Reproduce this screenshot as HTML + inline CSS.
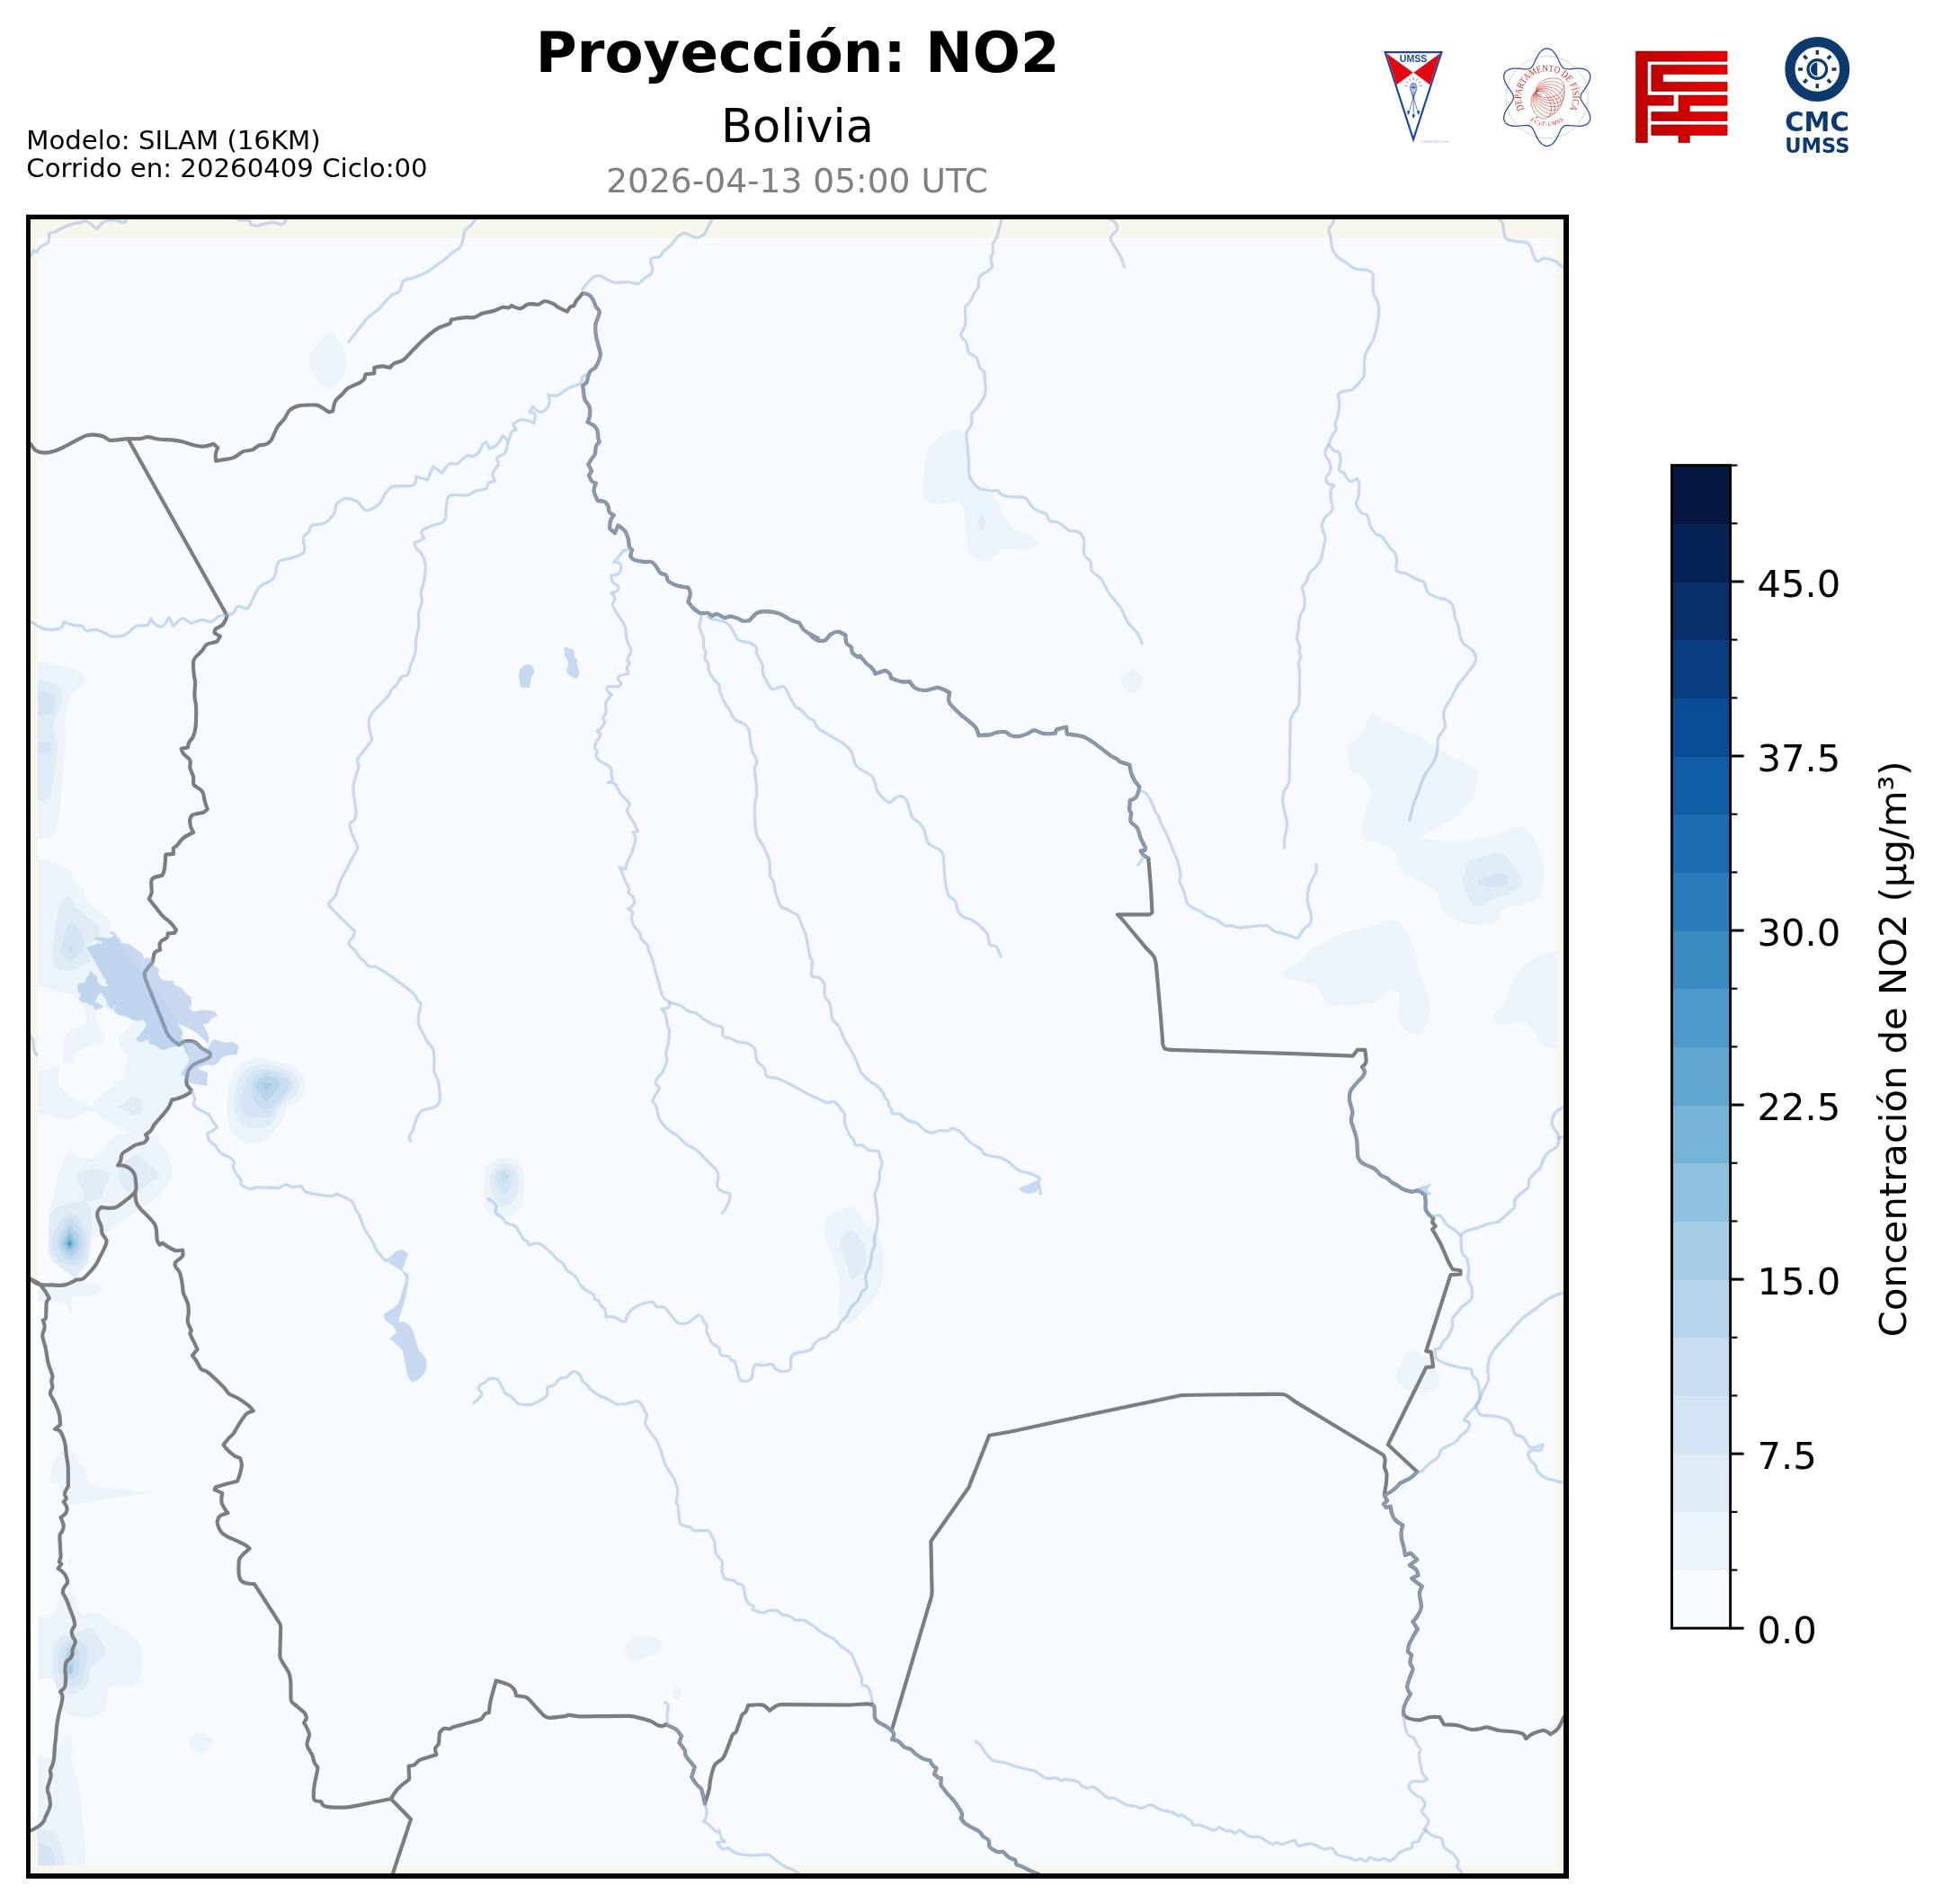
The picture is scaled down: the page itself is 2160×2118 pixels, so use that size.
<!DOCTYPE html>
<html lang="es"><head><meta charset="utf-8"><title>Proyección: NO2 - Bolivia</title>
<style>html,body{margin:0;padding:0;background:#fff}body{width:2160px;height:2118px;position:relative;overflow:hidden;font-family:"DejaVu Sans","Liberation Sans",sans-serif}svg text{font-family:"DejaVu Sans","Liberation Sans",sans-serif}</style>
</head><body>
<svg width="2160" height="2118" viewBox="0 0 2160 2118" style="position:absolute;left:0;top:0;will-change:transform">
<defs><clipPath id="ax"><rect x="31.8" y="241.6" width="1710.4" height="1845.4"/></clipPath><clipPath id="dat"><rect x="42" y="265" width="1689" height="1810"/></clipPath></defs>
<rect x="31.8" y="241.6" width="1710.4" height="1845.4" fill="#f6f6ec"/>
<path d="M30 1421 L42.5 1427.5 L42.5 2031.5 L30 2037Z" fill="#fff"/>
<rect x="42" y="265" width="1689" height="1810" fill="#f7fbff"/>
<g clip-path="url(#dat)">
<path d="M1523.3 1035.8 C1523.3 1035.8 1527.0 1038.7 1527.5 1040.8 C1528.0 1042.9 1528.5 1053.6 1528.2 1055.6 C1527.9 1057.6 1524.5 1060.5 1524.5 1060.5 C1524.5 1060.5 1522.1 1056.6 1522.0 1054.4 C1521.9 1052.2 1523.3 1035.8 1523.3 1035.8Z" fill="#f7fbff"/>
<path d="M367.7 370.3 C372.6 369.4 375.6 376.4 378.1 380.7 C380.6 385.0 385.1 394.1 385.5 400.5 C385.9 406.9 383.5 413.8 380.5 419.0 C377.5 424.2 373.3 430.5 367.7 431.3 C362.1 432.1 357.1 426.9 353.4 422.7 C349.7 418.5 343.4 409.3 343.0 402.9 C342.6 396.5 347.0 390.7 350.9 385.6 C354.8 380.5 362.8 371.2 367.7 370.3Z" fill="#ebf3fb"/>
<path d="M1067.5 478.2 C1061.9 476.8 1049.5 483.2 1044.1 486.8 C1038.7 490.4 1034.3 495.7 1031.7 501.7 C1029.1 507.7 1028.5 516.4 1028.0 523.9 C1027.5 531.4 1026.3 550.0 1028.0 554.7 C1029.7 559.4 1036.6 560.1 1041.6 560.9 C1046.6 561.7 1062.3 554.5 1068.7 560.9 C1075.1 567.3 1072.3 585.5 1073.7 593.0 C1075.1 600.5 1076.1 610.8 1078.6 615.2 C1081.1 619.6 1086.0 623.1 1091.0 623.8 C1096.0 624.5 1102.0 621.0 1105.8 618.9 C1109.6 616.8 1111.3 611.1 1115.6 610.3 C1119.9 609.5 1134.6 613.2 1140.3 612.2 C1146.0 611.2 1155.1 603.4 1155.1 603.4 C1155.1 603.4 1147.3 596.7 1142.8 594.2 C1138.3 591.7 1132.3 591.3 1128.0 588.1 C1123.7 584.9 1121.0 580.2 1118.1 575.7 C1115.2 571.2 1112.9 564.8 1110.7 560.9 C1108.5 557.0 1106.9 552.5 1103.3 549.8 C1099.7 547.1 1093.2 547.0 1089.7 544.9 C1086.2 542.8 1083.0 539.8 1081.1 536.2 C1079.2 532.6 1077.2 524.9 1076.1 518.9 C1075.0 512.9 1074.9 500.0 1073.7 494.3 C1072.5 488.6 1073.1 479.6 1067.5 478.2Z" fill="#ebf3fb"/>
<path d="M276.8 1178.7 C281.1 1177.3 289.4 1175.9 294.3 1176.4 C299.2 1176.9 303.2 1180.2 307.9 1181.6 C312.6 1183.0 320.5 1182.9 325.4 1185.5 C330.3 1188.1 335.0 1193.8 337.0 1197.2 C339.0 1200.6 339.5 1204.9 339.0 1208.8 C338.5 1212.7 336.6 1220.4 333.2 1224.4 C329.8 1228.4 322.9 1228.1 319.5 1232.1 C316.1 1236.1 316.6 1242.9 313.7 1247.7 C310.8 1252.5 304.7 1258.3 302.1 1261.3 C299.5 1264.3 298.0 1268.6 294.3 1270.0 C290.6 1271.4 280.3 1273.1 274.9 1272.0 C269.5 1270.9 264.8 1267.3 261.2 1263.2 C257.6 1259.1 254.8 1253.4 253.5 1247.7 C252.2 1242.0 252.0 1232.2 252.5 1224.4 C253.0 1216.6 254.7 1204.3 256.4 1199.1 C258.1 1193.9 261.9 1188.7 265.1 1185.5 C268.3 1182.3 272.5 1180.1 276.8 1178.7Z" fill="#ebf3fb"/>
<path d="M1260.0 744.6 C1265.3 744.6 1270.1 752.2 1271.2 755.7 C1272.3 759.2 1267.9 763.1 1266.2 765.5 C1264.5 767.9 1262.9 771.4 1260.0 771.7 C1257.1 772.0 1253.4 769.4 1251.4 766.8 C1249.4 764.2 1246.3 759.4 1247.7 755.7 C1249.1 752.0 1254.7 744.6 1260.0 744.6Z" fill="#ebf3fb"/>
<path d="M1440.0 1074.1 C1440.0 1074.1 1433.6 1076.5 1431.6 1077.8 C1429.6 1079.1 1427.2 1080.9 1426.7 1082.7 C1426.2 1084.5 1427.5 1086.8 1429.1 1087.7 C1430.7 1088.6 1440.0 1090.1 1440.0 1090.1 C1440.0 1090.1 1440.0 1074.1 1440.0 1074.1Z" fill="#ebf3fb"/>
<path d="M1525.7 793.9 C1529.7 792.5 1533.0 798.2 1536.8 800.1 C1540.6 802.0 1575.0 817.7 1581.3 821.1 C1587.6 824.5 1592.4 829.8 1598.6 833.4 C1604.8 837.0 1635.0 849.4 1640.5 855.6 C1646.0 861.8 1642.0 873.8 1640.5 880.3 C1639.0 886.8 1635.0 892.5 1630.7 897.6 C1626.4 902.7 1618.9 908.5 1613.4 912.4 C1607.9 916.3 1601.8 919.2 1596.1 922.3 C1590.4 925.4 1578.8 930.9 1578.8 930.9 C1578.8 930.9 1596.7 935.3 1606.0 935.9 C1615.3 936.5 1627.2 935.6 1635.6 934.6 C1644.0 933.6 1653.5 931.6 1660.3 929.7 C1667.1 927.8 1675.2 923.7 1680.0 922.3 C1684.8 920.9 1690.3 918.4 1694.8 919.8 C1699.3 921.2 1702.1 925.8 1704.7 929.7 C1707.3 933.6 1708.8 939.5 1710.9 944.5 C1713.0 949.5 1716.1 954.0 1717.0 959.3 C1717.9 964.6 1718.2 975.3 1717.0 981.5 C1715.8 987.7 1713.3 994.7 1709.6 998.8 C1705.9 1002.9 1700.1 1004.5 1694.8 1006.2 C1689.5 1007.9 1674.5 1009.5 1671.4 1011.2 C1668.3 1012.9 1669.5 1018.3 1667.7 1021.0 C1665.9 1023.7 1663.5 1026.5 1660.3 1027.2 C1657.1 1027.9 1642.5 1029.2 1635.6 1028.4 C1628.7 1027.6 1620.9 1025.2 1615.8 1022.3 C1610.7 1019.4 1606.4 1014.7 1603.5 1009.9 C1600.6 1005.1 1602.1 998.3 1598.6 993.9 C1595.1 989.5 1584.4 983.3 1581.3 981.5 C1578.2 979.7 1574.3 979.8 1571.4 977.8 C1568.5 975.8 1561.1 970.3 1557.8 965.5 C1554.5 960.7 1552.9 951.8 1551.7 949.4 C1550.5 947.0 1549.0 944.6 1546.7 943.3 C1544.4 942.0 1534.0 939.0 1529.4 937.1 C1524.8 935.2 1517.8 935.5 1515.9 930.9 C1514.0 926.3 1515.5 915.2 1517.1 907.5 C1518.7 899.8 1525.2 886.3 1525.7 882.8 C1526.2 879.3 1523.9 875.9 1522.0 872.9 C1520.1 869.9 1515.1 864.4 1512.2 861.8 C1509.3 859.2 1503.8 859.2 1502.3 855.6 C1500.8 852.0 1497.7 836.8 1499.3 831.0 C1500.9 825.2 1509.1 822.3 1512.2 818.6 C1515.3 814.9 1517.4 810.4 1519.6 806.3 C1521.8 802.2 1521.7 795.3 1525.7 793.9Z" fill="#ebf3fb"/>
<path d="M1549.2 1023.0 C1553.0 1022.7 1556.6 1025.5 1559.1 1028.4 C1561.6 1031.3 1566.1 1039.6 1568.9 1045.7 C1571.7 1051.8 1575.1 1060.7 1576.3 1065.5 C1577.5 1070.3 1576.2 1075.5 1577.6 1080.3 C1579.0 1085.1 1584.3 1094.4 1586.2 1100.0 C1588.1 1105.6 1589.4 1111.5 1589.9 1117.3 C1590.4 1123.1 1590.6 1129.9 1589.2 1134.6 C1587.8 1139.3 1583.2 1144.9 1581.3 1146.9 C1579.4 1148.9 1576.7 1150.9 1573.9 1150.6 C1571.1 1150.3 1564.8 1147.8 1561.5 1144.5 C1558.2 1141.2 1556.0 1136.7 1555.4 1132.1 C1554.8 1127.5 1557.3 1110.9 1556.6 1107.4 C1555.9 1103.9 1552.7 1099.6 1549.2 1100.0 C1545.7 1100.4 1540.0 1107.6 1536.8 1109.9 C1533.6 1112.2 1530.8 1115.3 1527.0 1116.1 C1523.2 1116.9 1504.1 1118.3 1497.4 1118.5 C1490.7 1118.7 1481.4 1118.9 1477.6 1117.3 C1473.8 1115.7 1472.6 1110.8 1470.2 1107.4 C1467.8 1104.0 1466.4 1098.9 1462.8 1096.3 C1459.2 1093.7 1452.9 1092.6 1448.0 1091.4 C1443.1 1090.2 1436.3 1090.3 1433.2 1088.9 C1430.1 1087.5 1426.3 1081.5 1426.3 1081.5 C1426.3 1081.5 1437.9 1075.6 1443.0 1071.6 C1448.1 1067.6 1452.3 1061.0 1457.9 1056.8 C1463.5 1052.6 1470.8 1049.1 1477.6 1045.7 C1484.4 1042.3 1492.0 1038.3 1499.8 1035.8 C1507.6 1033.3 1516.3 1033.0 1524.5 1030.9 C1532.7 1028.8 1545.4 1023.3 1549.2 1023.0Z" fill="#ebf3fb"/>
<path d="M1765.0 1060.0 C1758.9 1046.0 1724.9 1059.9 1719.5 1060.5 C1714.1 1061.1 1709.2 1063.7 1704.7 1066.7 C1700.2 1069.7 1693.9 1074.9 1689.9 1080.3 C1685.9 1085.7 1682.7 1094.3 1680.0 1100.0 C1677.3 1105.7 1675.9 1111.9 1672.6 1117.3 C1669.3 1122.7 1660.5 1127.6 1660.3 1132.1 C1660.1 1136.6 1667.0 1138.9 1671.4 1139.5 C1675.8 1140.1 1689.1 1135.4 1694.8 1137.0 C1700.5 1138.6 1704.2 1145.6 1707.2 1149.4 C1710.2 1153.2 1712.0 1159.3 1714.6 1161.7 C1717.2 1164.1 1721.0 1165.1 1724.5 1165.4 C1728.0 1165.7 1760.1 1178.1 1765.0 1165.4 C1769.9 1152.7 1771.1 1074.0 1765.0 1060.0Z" fill="#ebf3fb"/>
<path d="M67.0 1614.5 C69.3 1612.0 73.8 1610.5 76.9 1612.0 C80.0 1613.5 84.1 1619.7 86.8 1624.3 C89.5 1628.9 93.2 1638.9 94.2 1641.6 C95.2 1644.3 96.6 1650.0 96.6 1650.0 C96.6 1650.0 63.9 1652.7 58.4 1650.0 C52.9 1647.3 57.0 1637.7 58.4 1631.7 C59.8 1625.7 64.7 1617.0 67.0 1614.5Z" fill="#ebf3fb"/>
<path d="M12.0 1426.8 C18.9 1425.2 96.5 1426.5 101.6 1426.8 C106.7 1427.1 115.2 1433.8 115.2 1433.8 C115.2 1433.8 107.6 1440.4 102.8 1441.7 C98.0 1443.0 84.8 1439.6 80.6 1442.9 C76.4 1446.2 80.9 1457.4 80.6 1458.9 C80.3 1460.4 76.9 1461.4 76.9 1461.4 C76.9 1461.4 77.8 1453.3 74.9 1451.5 C72.0 1449.7 61.6 1448.2 54.7 1447.8 C47.8 1447.4 18.3 1450.9 12.0 1447.8 C5.7 1444.7 5.1 1428.4 12.0 1426.8Z" fill="#ebf3fb"/>
<path d="M560.5 1287.4 C565.2 1287.4 570.6 1288.8 574.1 1291.1 C577.6 1293.4 580.2 1297.0 581.5 1301.0 C582.8 1305.0 582.7 1312.4 582.7 1318.2 C582.7 1324.0 582.7 1333.7 581.5 1338.0 C580.3 1342.3 577.6 1346.3 574.1 1349.1 C570.6 1351.9 566.2 1353.6 561.7 1354.0 C557.2 1354.4 550.3 1353.3 546.9 1351.6 C543.5 1349.9 540.5 1346.6 539.5 1342.9 C538.5 1339.2 538.3 1324.0 538.3 1318.2 C538.3 1312.4 538.2 1305.0 539.5 1301.0 C540.8 1297.0 543.4 1293.4 546.9 1291.1 C550.4 1288.8 555.8 1287.4 560.5 1287.4Z" fill="#ebf3fb"/>
<path d="M946.8 1342.4 C949.9 1342.1 952.2 1345.5 954.2 1347.9 C956.2 1350.3 959.2 1357.3 961.6 1360.2 C964.0 1363.1 969.6 1363.9 970.0 1367.6 C970.4 1371.3 970.7 1441.1 970.0 1446.6 C969.3 1452.1 962.8 1454.8 959.1 1458.9 C955.4 1463.0 950.3 1471.1 946.8 1472.5 C943.3 1473.9 939.4 1470.3 936.9 1467.6 C934.4 1464.9 932.3 1460.6 932.0 1456.5 C931.7 1452.4 934.7 1445.1 934.5 1439.2 C934.3 1433.3 932.3 1421.3 930.8 1414.5 C929.3 1407.7 926.4 1399.9 924.6 1394.8 C922.8 1389.7 919.5 1385.2 918.4 1379.9 C917.3 1374.6 916.5 1361.1 917.2 1357.7 C917.9 1354.3 921.5 1351.9 924.6 1350.3 C927.7 1348.7 943.7 1342.7 946.8 1342.4Z" fill="#ebf3fb"/>
<path d="M970.0 1367.6 C970.0 1367.6 975.5 1373.8 977.4 1377.5 C979.3 1381.2 981.3 1387.4 982.3 1392.3 C983.3 1397.2 983.9 1402.1 983.6 1407.1 C983.3 1412.1 980.8 1428.2 979.9 1431.8 C979.0 1435.4 976.1 1440.0 974.9 1441.7 C973.7 1443.4 970.0 1445.4 970.0 1445.4 C970.0 1445.4 970.0 1367.6 970.0 1367.6Z" fill="#ebf3fb"/>
<path d="M1573.4 1502.1 C1577.2 1502.1 1581.7 1507.1 1583.8 1508.3 C1585.9 1509.5 1588.5 1510.0 1589.9 1512.0 C1591.3 1514.0 1593.1 1520.6 1594.9 1524.4 C1596.7 1528.2 1600.8 1531.4 1601.0 1535.5 C1601.2 1539.6 1599.6 1544.5 1596.1 1546.6 C1592.6 1548.7 1580.8 1550.5 1576.3 1550.3 C1571.8 1550.1 1567.6 1548.0 1564.0 1545.3 C1560.4 1542.6 1554.1 1538.1 1552.9 1533.0 C1551.7 1527.9 1556.2 1521.8 1557.8 1518.2 C1559.4 1514.6 1561.4 1511.0 1564.0 1508.3 C1566.6 1505.6 1569.6 1502.1 1573.4 1502.1Z" fill="#ebf3fb"/>
<path d="M12.0 1799.1 C19.6 1787.0 47.6 1801.5 54.7 1799.1 C61.8 1796.7 64.1 1784.3 67.0 1780.6 C69.9 1776.9 73.7 1771.2 76.9 1770.7 C80.1 1770.2 81.6 1775.2 83.1 1778.1 C84.6 1781.0 84.3 1791.1 89.2 1794.2 C94.1 1797.3 103.1 1792.3 109.0 1794.2 C114.9 1796.1 119.0 1802.1 123.8 1805.3 C128.6 1808.5 134.3 1811.2 138.6 1813.9 C142.9 1816.6 147.9 1819.0 151.0 1822.5 C154.1 1826.0 156.4 1830.3 157.1 1834.9 C157.8 1839.5 157.9 1860.1 157.1 1864.5 C156.3 1868.9 153.9 1874.1 149.7 1875.6 C145.5 1877.1 129.0 1874.2 125.0 1875.6 C121.0 1877.0 120.1 1882.6 118.9 1886.7 C117.7 1890.8 120.3 1897.3 117.6 1901.5 C114.9 1905.7 109.4 1909.2 104.1 1910.2 C98.8 1911.2 83.4 1909.9 79.4 1908.9 C75.4 1907.9 71.1 1905.3 69.5 1901.5 C67.9 1897.7 69.6 1884.9 67.0 1879.3 C64.4 1873.7 59.5 1868.3 53.5 1867.0 C47.5 1865.7 19.3 1878.9 12.0 1867.0 C4.7 1855.1 4.4 1811.2 12.0 1799.1Z" fill="#ebf3fb"/>
<path d="M58.4 1630.0 C58.4 1630.0 84.0 1626.9 90.5 1630.0 C97.0 1633.1 96.2 1646.5 99.1 1649.7 C102.0 1652.9 107.2 1652.8 111.5 1653.5 C115.8 1654.2 169.5 1660.9 169.5 1660.9 C169.5 1660.9 138.4 1664.3 123.8 1666.5 C109.2 1668.7 85.6 1674.6 80.6 1674.4 C75.6 1674.2 72.0 1668.9 69.5 1664.6 C67.0 1660.3 66.4 1653.1 64.6 1647.3 C62.8 1641.5 58.4 1630.0 58.4 1630.0Z" fill="#ebf3fb"/>
<path d="M78.1 1731.7 C78.1 1731.7 80.6 1734.4 80.6 1736.1 C80.6 1737.8 78.1 1742.3 78.1 1742.3 C78.1 1742.3 75.7 1738.4 75.7 1736.6 C75.7 1734.8 78.1 1731.7 78.1 1731.7Z" fill="#ebf3fb"/>
<path d="M223.8 1927.5 C229.3 1927.4 237.4 1936.8 237.4 1936.8 C237.4 1936.8 229.3 1950.8 223.0 1950.9 C216.7 1951.0 210.0 1942.9 210.2 1937.3 C210.4 1931.7 218.3 1927.6 223.8 1927.5Z" fill="#ebf3fb"/>
<path d="M78.1 1925.0 C78.1 1925.0 80.4 1940.6 80.6 1946.0 C80.8 1951.4 78.5 1956.7 79.4 1962.0 C80.3 1967.3 85.2 1975.7 86.8 1983.0 C88.4 1990.3 90.3 2002.6 90.5 2012.6 C90.7 2022.6 102.3 2089.6 89.2 2105.0 C76.1 2120.4 21.3 2122.9 12.0 2105.0 C2.7 2087.1 8.1 1969.6 12.0 1955.8 C15.9 1942.0 51.5 1956.3 54.7 1955.8 C57.9 1955.3 59.0 1951.0 60.9 1948.4 C62.8 1945.8 66.7 1939.9 69.5 1936.1 C72.3 1932.3 78.1 1925.0 78.1 1925.0Z" fill="#ebf3fb"/>
<path d="M704.9 1821.3 C710.1 1819.4 726.8 1820.4 730.8 1822.0 C734.8 1823.6 735.9 1830.8 735.7 1833.7 C735.5 1836.6 732.2 1838.5 729.6 1839.8 C727.0 1841.1 709.5 1848.0 707.4 1848.5 C705.3 1849.0 702.6 1848.8 701.2 1847.2 C699.8 1845.6 694.9 1839.4 695.5 1834.9 C696.1 1830.4 699.7 1823.2 704.9 1821.3Z" fill="#ebf3fb"/>
<path d="M753.0 1873.1 C753.0 1873.1 757.8 1883.4 758.0 1885.5 C758.2 1887.6 756.4 1890.4 754.3 1890.4 C752.2 1890.4 748.3 1888.1 748.1 1885.5 C747.9 1882.9 753.0 1873.1 753.0 1873.1Z" fill="#ebf3fb"/>
<path d="M12.0 743.3 C18.9 724.3 73.0 742.3 79.4 743.3 C85.8 744.3 94.5 749.2 94.2 755.7 C93.9 762.2 81.5 767.6 78.1 775.4 C74.7 783.2 72.5 801.3 72.0 806.3 C71.5 811.3 73.4 816.1 73.2 821.1 C73.0 826.1 70.4 851.4 69.5 863.0 C68.6 874.6 68.1 888.4 67.0 897.6 C65.9 906.8 62.8 922.6 62.1 924.8 C61.4 927.0 59.5 929.5 57.2 929.7 C54.9 929.9 15.6 944.5 12.0 929.7 C8.4 914.9 5.1 762.3 12.0 743.3Z" fill="#ebf3fb"/>
<path d="M12.0 958.1 C13.6 943.1 49.4 957.8 56.8 958.9 C64.2 960.0 74.3 965.3 77.3 967.6 C80.3 969.9 79.9 974.7 82.0 977.8 C84.1 980.9 88.8 984.7 91.4 988.8 C94.0 992.9 94.5 998.9 97.8 1003.0 C101.1 1007.1 108.5 1011.2 111.9 1014.1 C115.3 1017.0 119.4 1020.0 121.4 1023.5 C123.4 1027.0 122.2 1031.7 124.1 1035.3 C126.0 1038.9 134.5 1051.8 140.3 1059.7 C146.1 1067.6 156.1 1079.5 163.9 1089.7 C171.7 1099.9 182.1 1113.5 187.6 1121.2 C193.1 1128.9 201.1 1140.4 203.3 1144.8 C205.5 1149.2 205.4 1154.2 206.5 1159.0 C207.6 1163.8 211.4 1174.3 211.2 1179.5 C211.0 1184.7 205.4 1188.8 204.9 1193.7 C204.4 1198.6 207.3 1205.5 208.0 1207.9 C208.7 1210.3 212.4 1213.0 210.7 1214.7 C209.0 1216.4 195.9 1220.4 191.3 1224.4 C186.7 1228.4 184.3 1235.4 181.6 1239.9 C178.9 1244.4 176.0 1250.5 173.8 1253.5 C171.6 1256.5 166.0 1261.3 166.0 1261.3 C166.0 1261.3 171.8 1263.0 173.8 1265.2 C175.8 1267.4 182.9 1277.8 185.5 1282.7 C188.1 1287.6 190.6 1293.7 191.3 1298.2 C192.0 1302.7 192.0 1307.5 190.3 1311.8 C188.6 1316.1 183.6 1322.9 179.6 1327.4 C175.6 1331.9 170.9 1335.5 166.0 1339.0 C161.1 1342.5 151.8 1347.5 146.6 1350.7 C141.4 1353.9 134.1 1358.2 131.1 1360.4 C128.1 1362.6 126.4 1366.2 123.3 1368.2 C120.2 1370.2 110.0 1374.7 107.7 1375.9 C105.4 1377.1 101.8 1377.3 100.9 1379.8 C100.0 1382.3 99.7 1398.4 98.0 1403.2 C96.3 1408.0 90.0 1412.4 88.3 1414.8 C86.6 1417.2 84.4 1422.6 84.4 1422.6 C84.4 1422.6 72.2 1413.4 68.9 1410.9 C65.6 1408.4 61.6 1406.5 59.1 1403.2 C56.6 1399.9 58.4 1392.5 54.3 1391.5 C50.2 1390.5 13.4 1405.6 12.0 1391.5 C10.6 1377.4 10.4 973.1 12.0 958.1Z" fill="#ebf3fb"/>
<path d="M12.0 1102.9 C22.9 1087.2 62.5 1103.1 68.9 1103.9 C75.3 1104.7 81.9 1107.1 86.4 1111.7 C90.9 1116.3 96.3 1128.8 97.0 1132.1 C97.7 1135.4 94.8 1138.7 92.2 1140.8 C89.6 1142.9 79.8 1146.2 77.2 1148.0 C74.6 1149.8 71.8 1152.3 71.2 1155.4 C70.6 1158.5 71.3 1179.3 70.8 1181.6 C70.3 1183.9 67.3 1185.3 65.0 1185.5 C62.7 1185.7 21.6 1200.5 12.0 1185.5 C2.4 1170.5 1.1 1118.6 12.0 1102.9Z" fill="#f7fbff"/>
<path d="M107.1 1123.5 C108.6 1121.4 112.4 1118.7 115.5 1119.4 C118.6 1120.1 125.5 1126.6 131.1 1129.1 C136.7 1131.6 151.3 1135.4 151.3 1135.4 C151.3 1135.4 134.2 1149.6 132.4 1155.8 C130.6 1162.0 139.5 1170.8 140.4 1173.3 C141.3 1175.8 142.2 1178.4 141.9 1181.0 C141.6 1183.6 140.0 1193.8 137.1 1198.3 C134.2 1202.8 128.5 1204.4 124.4 1207.9 C120.3 1211.4 106.9 1223.7 105.6 1225.1 C104.3 1226.5 104.8 1230.5 102.9 1230.2 C101.0 1229.9 85.7 1223.6 80.5 1220.5 C75.3 1217.4 69.6 1214.2 66.9 1208.8 C64.2 1203.4 64.4 1192.8 65.0 1189.4 C65.6 1186.0 69.6 1182.5 71.8 1181.6 C74.0 1180.7 76.7 1185.0 78.6 1183.6 C80.5 1182.2 80.2 1176.5 82.5 1173.8 C84.8 1171.1 89.9 1168.2 94.1 1166.1 C98.3 1164.0 112.6 1161.5 115.5 1157.3 C118.4 1153.1 111.6 1147.1 110.3 1143.1 C109.0 1139.1 107.2 1133.6 106.8 1131.1 C106.4 1128.6 105.6 1125.6 107.1 1123.5Z" fill="#f7fbff"/>
<path d="M12.0 1245.7 C20.4 1227.4 70.2 1246.6 78.6 1245.7 C87.0 1244.8 93.5 1235.3 101.9 1236.0 C110.3 1236.7 116.4 1246.0 123.3 1249.6 C130.2 1253.2 144.7 1258.4 144.7 1258.4 C144.7 1258.4 127.9 1263.8 123.3 1267.1 C118.7 1270.4 116.9 1277.4 113.6 1280.7 C110.3 1284.0 106.5 1287.5 101.9 1288.5 C97.3 1289.5 89.9 1287.9 86.4 1286.6 C82.9 1285.3 81.0 1278.3 77.6 1279.8 C74.2 1281.3 71.1 1289.1 68.9 1294.3 C66.7 1299.5 64.6 1307.4 63.0 1313.8 C61.4 1320.2 60.4 1326.7 59.1 1333.2 C57.8 1339.7 55.8 1346.0 55.3 1352.6 C54.8 1359.2 64.0 1382.8 54.3 1391.5 C44.6 1400.2 16.0 1405.1 12.0 1391.5 C8.0 1377.9 3.6 1264.0 12.0 1245.7Z" fill="#f7fbff"/>
<path d="M1091.0 572.0 C1091.0 572.0 1096.4 577.3 1096.4 580.7 C1096.4 584.1 1091.0 590.5 1091.0 590.5 C1091.0 590.5 1088.0 583.1 1088.0 580.2 C1088.0 577.3 1091.0 572.0 1091.0 572.0Z" fill="#dfecf7"/>
<path d="M280.7 1185.5 C284.1 1184.4 291.0 1183.3 296.2 1183.6 C301.4 1183.9 306.7 1185.5 311.8 1187.4 C316.9 1189.3 324.0 1192.2 327.3 1195.2 C330.6 1198.2 333.2 1202.5 333.2 1206.9 C333.2 1211.3 330.7 1216.8 327.3 1220.5 C323.9 1224.2 317.3 1224.4 313.7 1228.3 C310.1 1232.2 308.5 1240.0 305.9 1243.8 C303.3 1247.6 300.6 1252.2 296.2 1253.5 C291.8 1254.8 278.3 1255.7 272.9 1253.5 C267.5 1251.3 264.3 1245.3 262.2 1239.9 C260.1 1234.5 259.8 1227.0 260.3 1220.5 C260.8 1214.0 263.6 1204.8 265.1 1201.1 C266.6 1197.4 269.4 1193.8 271.9 1191.3 C274.4 1188.8 277.3 1186.6 280.7 1185.5Z" fill="#dfecf7"/>
<path d="M76.6 1339.0 C81.2 1338.0 89.5 1334.3 94.1 1336.1 C98.7 1337.9 101.1 1343.8 101.9 1348.7 C102.7 1353.6 101.5 1371.9 100.9 1379.8 C100.3 1387.7 99.7 1398.4 98.0 1403.2 C96.3 1408.0 90.0 1412.4 88.3 1414.8 C86.6 1417.2 84.4 1422.6 84.4 1422.6 C84.4 1422.6 72.2 1413.4 68.9 1410.9 C65.6 1408.4 61.6 1406.5 59.1 1403.2 C56.6 1399.9 54.6 1395.7 54.3 1391.5 C54.0 1387.3 54.6 1356.7 55.3 1352.6 C56.0 1348.5 59.5 1345.1 63.0 1342.9 C66.5 1340.7 72.0 1340.0 76.6 1339.0Z" fill="#dfecf7"/>
<path d="M85.4 1308.9 C85.4 1305.9 89.4 1304.2 92.2 1303.1 C95.0 1302.0 102.5 1299.3 107.7 1300.2 C112.9 1301.1 119.6 1303.2 121.3 1307.9 C123.0 1312.6 117.0 1317.6 115.5 1321.5 C114.0 1325.4 115.0 1330.8 111.6 1333.2 C108.2 1335.6 98.6 1337.5 95.1 1336.1 C91.6 1334.7 93.5 1328.9 92.2 1325.4 C90.9 1321.9 85.4 1311.9 85.4 1308.9Z" fill="#dfecf7"/>
<path d="M132.0 1302.1 C134.3 1297.3 144.3 1286.7 150.5 1285.6 C156.7 1284.5 162.1 1293.1 166.0 1296.3 C169.9 1299.5 176.7 1302.4 176.7 1307.0 C176.7 1311.6 169.5 1312.7 166.0 1315.7 C162.5 1318.7 158.0 1324.9 154.4 1326.4 C150.8 1327.9 146.1 1326.9 142.7 1325.4 C139.3 1323.9 136.4 1321.0 134.9 1317.6 C133.4 1314.2 129.7 1306.9 132.0 1302.1Z" fill="#dfecf7"/>
<path d="M131.1 1232.1 C131.1 1232.1 145.5 1219.5 150.5 1219.5 C155.5 1219.5 158.4 1228.3 158.6 1232.1 C158.8 1235.9 154.6 1239.9 151.5 1240.9 C148.4 1241.9 145.7 1238.3 142.7 1237.0 C139.7 1235.7 131.1 1232.1 131.1 1232.1Z" fill="#dfecf7"/>
<path d="M1635.6 956.8 C1638.5 955.0 1647.2 953.1 1652.9 951.9 C1658.6 950.7 1664.6 947.5 1670.1 949.4 C1675.6 951.3 1679.1 957.0 1682.5 961.8 C1685.9 966.6 1693.4 975.5 1692.9 981.5 C1692.4 987.5 1685.2 990.9 1680.0 993.9 C1674.8 996.9 1665.6 997.7 1660.3 1000.0 C1655.0 1002.3 1650.0 1008.5 1645.5 1008.7 C1641.0 1008.9 1636.9 1005.1 1634.4 1001.3 C1631.9 997.5 1628.3 986.9 1627.7 981.5 C1627.1 976.1 1629.7 968.7 1630.7 965.5 C1631.7 962.3 1632.7 958.6 1635.6 956.8Z" fill="#dfecf7"/>
<path d="M560.5 1293.6 C564.6 1293.4 568.6 1295.7 571.6 1298.5 C574.6 1301.3 577.5 1305.3 577.8 1309.6 C578.1 1313.9 576.7 1325.3 574.1 1330.6 C571.5 1335.9 564.8 1341.8 561.7 1342.9 C558.6 1344.0 555.3 1340.5 553.1 1338.0 C550.9 1335.5 548.3 1330.1 546.9 1325.6 C545.5 1321.1 544.0 1313.3 544.4 1309.6 C544.8 1305.9 546.8 1302.3 549.4 1299.7 C552.0 1297.1 556.4 1293.8 560.5 1293.6Z" fill="#dfecf7"/>
<path d="M946.3 1368.8 C950.7 1367.8 954.7 1375.4 956.7 1377.5 C958.7 1379.6 960.6 1382.0 961.1 1384.9 C961.6 1387.8 964.5 1402.9 962.1 1409.6 C959.7 1416.3 946.8 1424.4 946.8 1424.4 C946.8 1424.4 942.6 1408.9 940.6 1402.2 C938.6 1395.5 933.5 1388.4 934.5 1382.4 C935.5 1376.4 941.9 1369.8 946.3 1368.8Z" fill="#dfecf7"/>
<path d="M85.5 1816.4 C90.8 1815.0 96.7 1808.6 101.6 1811.4 C106.5 1814.2 116.4 1830.8 117.6 1834.9 C118.8 1839.0 114.2 1842.7 111.5 1846.0 C108.8 1849.3 103.6 1850.7 101.6 1854.6 C99.6 1858.5 99.7 1867.9 97.9 1871.9 C96.1 1875.9 92.4 1879.8 89.2 1881.8 C86.0 1883.8 81.9 1884.7 78.1 1884.3 C74.3 1883.9 67.7 1883.0 64.6 1879.3 C61.5 1875.6 59.8 1868.1 59.1 1862.0 C58.4 1855.9 57.8 1837.7 59.1 1832.4 C60.4 1827.1 64.9 1822.9 69.5 1820.1 C74.1 1817.3 80.2 1817.8 85.5 1816.4Z" fill="#dfecf7"/>
<path d="M12.0 2037.3 C20.4 2024.7 52.0 2036.1 57.2 2037.3 C62.4 2038.5 64.7 2045.0 67.0 2049.6 C69.3 2054.2 70.4 2059.4 70.7 2064.5 C71.0 2069.6 81.9 2097.3 70.7 2105.0 C59.5 2112.7 24.9 2119.9 12.0 2105.0 C-0.9 2090.1 3.6 2049.9 12.0 2037.3Z" fill="#dfecf7"/>
<path d="M12.0 758.1 C17.0 743.8 53.1 758.8 57.2 759.4 C61.3 760.0 65.2 763.1 67.0 766.8 C68.8 770.5 69.2 776.7 68.3 781.6 C67.4 786.5 60.4 799.6 59.6 806.3 C58.8 813.0 62.9 819.3 63.3 826.0 C63.7 832.7 62.9 840.8 62.1 848.2 C61.3 855.6 57.9 877.2 57.2 880.3 C56.5 883.4 56.6 888.4 53.5 889.0 C50.4 889.6 16.2 902.3 12.0 889.0 C7.8 875.7 7.0 772.4 12.0 758.1Z" fill="#dfecf7"/>
<path d="M77.3 998.3 C81.8 998.7 82.0 1006.0 85.1 1009.3 C88.2 1012.6 95.4 1018.6 99.3 1021.9 C103.2 1025.2 109.5 1028.0 111.1 1031.4 C112.7 1034.8 110.8 1039.2 108.8 1042.4 C106.8 1045.6 99.0 1049.0 97.8 1053.4 C96.6 1057.8 102.5 1063.9 102.5 1066.1 C102.5 1068.3 99.7 1069.7 97.8 1070.8 C95.9 1071.9 83.2 1079.7 77.3 1080.2 C71.4 1080.7 63.8 1079.0 60.7 1073.9 C57.6 1068.8 58.4 1058.2 59.1 1050.3 C59.8 1042.4 64.6 1012.4 66.2 1007.8 C67.8 1003.2 72.8 997.9 77.3 998.3Z" fill="#dfecf7"/>
<path d="M282.6 1190.4 C285.4 1189.3 291.6 1189.0 296.2 1189.4 C300.8 1189.8 308.7 1190.5 313.7 1193.3 C318.7 1196.1 325.0 1200.1 325.4 1205.9 C325.8 1211.7 318.6 1218.2 315.7 1222.4 C312.8 1226.6 308.9 1230.9 305.9 1234.1 C302.9 1237.3 300.5 1241.9 296.2 1242.8 C291.9 1243.7 279.0 1242.7 274.9 1240.9 C270.8 1239.1 267.5 1234.6 267.1 1230.2 C266.7 1225.8 270.7 1212.9 271.9 1208.8 C273.1 1204.7 275.3 1199.8 276.8 1197.2 C278.3 1194.6 279.8 1191.5 282.6 1190.4Z" fill="#d4e4f4"/>
<path d="M77.6 1349.7 C82.6 1348.6 87.4 1354.2 90.2 1358.5 C93.0 1362.8 96.2 1374.6 97.0 1379.8 C97.8 1385.0 97.9 1390.7 96.1 1395.4 C94.3 1400.1 90.6 1405.1 86.4 1407.0 C82.2 1408.9 77.1 1407.7 72.8 1406.1 C68.5 1404.5 63.5 1401.6 61.1 1397.3 C58.7 1393.0 57.7 1385.3 58.2 1379.8 C58.7 1374.3 61.0 1369.0 64.0 1364.3 C67.0 1359.6 72.6 1350.8 77.6 1349.7Z" fill="#d4e4f4"/>
<path d="M1644.2 979.1 C1645.8 978.2 1665.9 970.9 1670.1 971.2 C1674.3 971.5 1678.3 977.5 1677.1 981.5 C1675.9 985.5 1669.6 986.6 1665.2 987.0 C1660.8 987.4 1647.2 985.2 1645.5 984.5 C1643.8 983.8 1642.6 980.0 1644.2 979.1Z" fill="#d4e4f4"/>
<path d="M560.5 1299.7 C565.1 1299.7 570.4 1303.8 571.6 1308.4 C572.8 1313.0 568.0 1320.3 566.6 1323.2 C565.2 1326.1 560.5 1330.6 560.5 1330.6 C560.5 1330.6 556.0 1324.2 554.3 1320.7 C552.6 1317.2 548.7 1312.6 549.9 1308.4 C551.1 1304.2 555.9 1299.7 560.5 1299.7Z" fill="#d4e4f4"/>
<path d="M78.1 1822.5 C81.6 1821.0 86.0 1823.0 89.2 1825.0 C92.4 1827.0 97.0 1830.6 97.9 1834.9 C98.8 1839.2 96.3 1849.6 95.4 1854.6 C94.5 1859.6 93.8 1866.1 91.7 1869.4 C89.6 1872.7 85.7 1875.4 81.8 1875.6 C77.9 1875.8 73.5 1873.7 70.7 1870.7 C67.9 1867.7 65.3 1862.1 64.6 1857.1 C63.9 1852.1 63.7 1840.4 65.8 1834.9 C67.9 1829.4 74.6 1824.0 78.1 1822.5Z" fill="#d4e4f4"/>
<path d="M12.0 2053.3 C20.7 2042.4 50.0 2052.7 53.5 2053.3 C57.0 2053.9 59.1 2058.5 59.6 2062.0 C60.1 2065.5 70.8 2095.3 60.1 2105.0 C49.4 2114.7 23.0 2116.8 12.0 2105.0 C1.0 2093.2 3.3 2064.2 12.0 2053.3Z" fill="#d4e4f4"/>
<path d="M12.0 770.5 C19.2 766.3 50.9 769.7 54.7 770.5 C58.5 771.3 60.9 776.5 60.9 780.4 C60.9 784.3 59.5 792.5 54.7 793.9 C49.9 795.3 19.3 799.2 12.0 795.2 C4.7 791.2 4.8 774.7 12.0 770.5Z" fill="#d4e4f4"/>
<path d="M12.0 826.0 C15.6 825.1 51.1 825.1 54.7 826.0 C58.3 826.9 58.3 836.2 54.7 837.1 C51.1 838.0 15.6 838.0 12.0 837.1 C8.4 836.2 8.4 826.9 12.0 826.0Z" fill="#d4e4f4"/>
<path d="M77.3 1026.7 C79.6 1024.9 83.3 1028.3 85.1 1030.6 C86.9 1032.9 93.3 1042.0 93.8 1047.1 C94.3 1052.2 90.6 1057.9 88.3 1061.3 C86.0 1064.7 81.6 1068.7 78.8 1069.2 C76.0 1069.7 73.7 1066.6 71.8 1064.5 C69.9 1062.4 67.5 1059.6 67.5 1056.6 C67.5 1053.6 70.2 1045.6 71.8 1040.8 C73.4 1036.0 75.0 1028.5 77.3 1026.7Z" fill="#d4e4f4"/>
<path d="M288.5 1195.2 C292.2 1193.2 297.6 1192.4 302.1 1193.3 C306.6 1194.2 317.4 1199.4 319.5 1201.1 C321.6 1202.8 322.5 1206.3 321.5 1208.8 C320.5 1211.3 313.8 1220.4 309.8 1224.4 C305.8 1228.4 299.8 1233.4 296.2 1234.1 C292.6 1234.8 289.0 1231.9 286.5 1229.2 C284.0 1226.5 280.6 1220.4 279.7 1216.6 C278.8 1212.8 279.2 1208.5 280.7 1204.9 C282.2 1201.3 284.8 1197.2 288.5 1195.2Z" fill="#c9ddf0"/>
<path d="M77.6 1356.5 C82.4 1356.0 85.8 1362.1 88.3 1366.2 C90.8 1370.3 93.2 1376.3 93.2 1381.8 C93.2 1387.3 90.4 1394.1 88.3 1397.3 C86.2 1400.5 82.4 1403.6 78.6 1403.2 C74.8 1402.8 70.5 1399.0 67.9 1395.4 C65.3 1391.8 63.2 1386.6 63.4 1381.8 C63.6 1377.0 66.5 1372.5 68.9 1368.2 C71.3 1363.9 72.8 1357.0 77.6 1356.5Z" fill="#c9ddf0"/>
<path d="M560.5 1303.4 C562.7 1303.4 566.2 1305.9 566.2 1308.4 C566.2 1310.9 560.5 1317.0 560.5 1317.0 C560.5 1317.0 556.3 1310.6 556.3 1308.4 C556.3 1306.2 558.3 1303.4 560.5 1303.4Z" fill="#c9ddf0"/>
<path d="M78.1 1828.7 C80.9 1829.1 86.6 1833.2 88.0 1837.4 C89.4 1841.6 88.7 1856.4 88.0 1859.6 C87.3 1862.8 84.7 1866.1 81.8 1867.0 C78.9 1867.9 74.9 1867.0 73.2 1864.5 C71.5 1862.0 70.1 1854.7 70.0 1849.7 C69.9 1844.7 71.5 1837.5 72.5 1834.9 C73.5 1832.3 75.3 1828.3 78.1 1828.7Z" fill="#c9ddf0"/>
<path d="M78.1 1051.1 C78.1 1051.1 81.1 1054.0 81.2 1055.8 C81.3 1057.6 78.5 1060.5 78.5 1060.5 C78.5 1060.5 75.8 1057.9 75.7 1056.1 C75.6 1054.3 78.1 1051.1 78.1 1051.1Z" fill="#c9ddf0"/>
<path d="M290.4 1199.1 C292.5 1197.4 295.6 1196.5 298.2 1197.2 C300.8 1197.9 310.9 1199.7 311.8 1204.9 C312.7 1210.1 304.1 1216.2 302.1 1218.5 C300.1 1220.8 298.3 1224.8 295.3 1224.4 C292.3 1224.0 290.2 1219.3 288.5 1216.6 C286.8 1213.9 284.3 1211.1 284.6 1207.9 C284.9 1204.7 288.3 1200.8 290.4 1199.1Z" fill="#b7d5ea"/>
<path d="M77.6 1361.4 C77.6 1361.4 84.6 1368.9 86.4 1372.1 C88.2 1375.3 89.5 1379.0 89.3 1382.7 C89.1 1386.4 87.3 1390.9 85.4 1393.4 C83.5 1395.9 80.7 1398.7 77.6 1398.3 C74.5 1397.9 71.6 1394.1 69.8 1391.5 C68.0 1388.9 66.2 1385.8 66.5 1382.7 C66.8 1379.6 70.0 1374.5 71.8 1371.1 C73.6 1367.7 77.6 1361.4 77.6 1361.4Z" fill="#b7d5ea"/>
<path d="M78.1 1834.9 C78.1 1834.9 81.3 1841.3 81.8 1844.8 C82.3 1848.3 82.6 1857.3 81.8 1859.6 C81.0 1861.9 75.7 1863.3 75.7 1863.3 C75.7 1863.3 72.8 1856.1 72.5 1852.2 C72.2 1848.3 73.2 1841.9 73.9 1839.8 C74.6 1837.7 78.1 1834.9 78.1 1834.9Z" fill="#b7d5ea"/>
<path d="M291.4 1204.0 C291.4 1204.0 302.1 1204.9 302.1 1204.9 C302.1 1204.9 295.3 1215.6 295.3 1215.6 C295.3 1215.6 291.4 1204.0 291.4 1204.0Z" fill="#a4cde3"/>
<path d="M77.6 1367.2 C77.6 1367.2 82.1 1373.5 83.4 1375.9 C84.7 1378.3 86.6 1380.6 86.4 1383.3 C86.2 1386.0 83.3 1388.9 82.1 1390.5 C80.9 1392.1 79.6 1394.6 77.6 1394.4 C75.6 1394.2 74.5 1391.3 73.1 1389.5 C71.7 1387.7 68.8 1385.8 68.9 1383.3 C69.0 1380.8 72.3 1377.6 73.7 1375.0 C75.1 1372.4 77.6 1367.2 77.6 1367.2Z" fill="#a4cde3"/>
<path d="M76.9 1850.9 C76.9 1850.9 80.1 1853.9 80.6 1855.9 C81.1 1857.9 79.4 1862.0 79.4 1862.0 C79.4 1862.0 75.3 1861.3 74.9 1859.6 C74.5 1857.9 76.9 1850.9 76.9 1850.9Z" fill="#a4cde3"/>
<path d="M77.6 1372.1 C77.6 1372.1 80.7 1377.3 81.5 1378.9 C82.3 1380.5 83.9 1382.0 83.4 1383.7 C82.9 1385.4 77.6 1391.1 77.6 1391.1 C77.6 1391.1 71.8 1386.9 71.8 1383.7 C71.8 1380.5 77.6 1372.1 77.6 1372.1Z" fill="#8ec1de"/>
<path d="M77.6 1376.9 C77.6 1376.9 80.9 1381.2 80.9 1383.3 C80.9 1385.4 77.6 1388.6 77.6 1388.6 C77.6 1388.6 74.3 1385.4 74.3 1383.3 C74.3 1381.2 77.6 1376.9 77.6 1376.9Z" fill="#76b4d8"/>
<path d="M77.6 1379.8 C77.6 1379.8 79.6 1382.1 79.6 1383.3 C79.6 1384.5 77.6 1386.1 77.6 1386.1 C77.6 1386.1 75.7 1384.4 75.7 1383.3 C75.7 1382.2 77.6 1379.8 77.6 1379.8Z" fill="#4d99ca"/>
</g>
<g clip-path="url(#ax)" fill="none" stroke-linejoin="round" stroke-linecap="round">
<g stroke="#7b7d7f" stroke-width="4.17">
<path d="M1515.1 1186.9 C1515.1 1186.9 1518.3 1191.8 1518.3 1191.8 C1518.3 1191.8 1517.1 1195.7 1515.9 1197.3 C1514.7 1198.9 1509.2 1204.2 1507.2 1206.7 C1505.2 1209.2 1502.8 1211.6 1501.8 1214.6 C1500.8 1217.6 1500.7 1221.1 1501.1 1224.4 C1501.5 1227.7 1504.0 1233.5 1504.3 1236.8 C1504.6 1240.1 1502.4 1243.3 1502.8 1246.6 C1503.2 1249.9 1505.8 1255.7 1506.7 1259.0 C1507.6 1262.3 1508.8 1265.5 1509.2 1268.9 C1509.6 1272.3 1509.8 1283.8 1510.2 1286.1 C1510.6 1288.4 1511.8 1290.6 1513.4 1292.3 C1515.0 1294.0 1517.4 1294.9 1519.6 1296.0 C1521.8 1297.1 1526.9 1298.8 1529.4 1300.5 C1531.9 1302.2 1533.4 1305.4 1535.6 1307.1 C1537.8 1308.8 1541.1 1309.6 1543.0 1310.8 C1544.9 1312.0 1546.1 1314.0 1548.0 1315.3 C1549.9 1316.6 1553.3 1318.3 1555.4 1319.5 C1557.5 1320.7 1559.3 1322.3 1561.5 1323.2 C1563.7 1324.1 1567.7 1325.4 1570.2 1325.6 C1572.7 1325.8 1575.2 1323.8 1577.6 1324.4 C1580.0 1325.0 1585.0 1329.3 1585.0 1329.3 C1585.0 1329.3 1585.6 1335.5 1585.7 1338.0 C1585.8 1340.5 1585.0 1343.0 1585.7 1345.4 C1586.4 1347.8 1588.7 1350.2 1589.9 1351.6 C1591.1 1353.0 1594.1 1355.3 1594.1 1355.3"/>
<path d="M1594.1 1355.3 C1594.1 1355.3 1593.1 1359.7 1593.1 1359.7 C1593.1 1359.7 1596.6 1363.9 1596.6 1363.9 C1596.6 1363.9 1593.1 1367.6 1593.1 1367.6 C1593.1 1367.6 1599.9 1378.9 1602.3 1383.7 C1604.7 1388.5 1609.5 1400.4 1610.9 1403.4 C1612.3 1406.4 1615.8 1412.0 1615.8 1412.0 C1615.8 1412.0 1624.5 1413.3 1624.5 1413.3 C1624.5 1413.3 1624.5 1417.5 1624.5 1417.5 C1624.5 1417.5 1613.4 1418.2 1613.4 1418.2 C1613.4 1418.2 1586.2 1502.9 1586.2 1502.9 C1586.2 1502.9 1591.6 1503.9 1591.6 1503.9 C1591.6 1503.9 1594.1 1520.2 1594.1 1520.2 C1594.1 1520.2 1586.2 1521.1 1586.2 1521.1 C1586.2 1521.1 1543.8 1607.0 1543.8 1607.0 C1543.8 1607.0 1576.3 1637.2 1576.3 1637.2"/>
<path d="M740.7 1918.3 C740.7 1918.3 749.2 1921.9 751.8 1923.8 C754.4 1925.7 758.0 1931.2 758.0 1931.2 C758.0 1931.2 755.5 1938.6 755.5 1938.6 C755.5 1938.6 760.8 1945.3 761.7 1947.2 C762.6 1949.1 761.8 1951.6 762.9 1953.4 C764.0 1955.2 772.8 1965.7 772.8 1965.7 C772.8 1965.7 769.1 1976.8 769.1 1976.8 C769.1 1976.8 773.7 1983.7 775.2 1985.5 C776.7 1987.3 779.3 1988.2 780.2 1990.4 C781.1 1992.6 783.9 2006.4 783.9 2006.4"/>
<path d="M783.9 2006.4 C783.9 2006.4 788.0 1993.7 788.8 1990.4 C789.6 1987.1 789.3 1983.8 790.0 1980.5 C790.7 1977.2 793.0 1966.6 795.0 1963.2 C797.0 1959.8 801.9 1958.6 804.1 1955.8 C806.3 1953.0 807.2 1949.4 808.6 1946.0 C810.0 1942.6 813.8 1931.6 814.7 1929.9 C815.6 1928.2 818.1 1927.9 818.9 1926.2 C819.7 1924.5 824.5 1909.4 825.3 1907.7 C826.1 1906.0 828.5 1905.6 829.5 1904.0 C830.5 1902.4 832.0 1897.1 832.0 1897.1 C832.0 1897.1 844.8 1895.8 848.1 1896.6 C851.4 1897.4 856.0 1902.8 856.0 1902.8 C856.0 1902.8 861.0 1898.8 862.9 1897.8 C864.8 1896.8 866.9 1896.1 869.0 1896.1 C871.1 1896.1 938.9 1896.6 944.3 1896.6 C949.7 1896.6 962.1 1895.4 964.1 1895.4 C966.1 1895.4 970.0 1896.6 970.0 1896.6"/>
<path d="M970.0 1895.4 C970.0 1895.4 972.2 1897.6 972.5 1899.1 C972.8 1900.6 972.6 1908.3 973.0 1910.2 C973.4 1912.1 974.7 1913.8 976.2 1915.1 C977.7 1916.4 982.4 1918.5 984.8 1920.0 C987.2 1921.5 990.4 1923.7 991.7 1925.0 C993.0 1926.3 994.1 1928.1 994.2 1929.9 C994.3 1931.7 992.2 1934.9 992.2 1934.9 C992.2 1934.9 997.4 1935.9 999.6 1937.3 C1001.8 1938.7 1003.6 1942.1 1005.8 1943.5 C1008.0 1944.9 1011.2 1944.8 1013.2 1946.0 C1015.2 1947.2 1016.2 1949.5 1018.1 1950.9 C1020.0 1952.3 1024.3 1955.2 1026.8 1956.3 C1029.3 1957.4 1034.7 1958.3 1034.7 1958.3 C1034.7 1958.3 1035.6 1961.5 1036.6 1962.8 C1037.6 1964.1 1041.6 1966.9 1041.6 1966.9 C1041.6 1966.9 1039.1 1973.6 1039.1 1973.6 C1039.1 1973.6 1043.2 1977.1 1044.1 1977.6 C1045.0 1978.1 1047.0 1978.1 1047.0 1978.1 C1047.0 1978.1 1046.2 1984.0 1046.5 1985.5 C1046.8 1987.0 1048.1 1988.0 1049.0 1989.2 C1049.9 1990.4 1051.4 1992.5 1052.7 1994.1 C1054.0 1995.7 1058.3 2000.1 1060.1 2002.2 C1061.9 2004.3 1063.5 2006.6 1065.0 2008.9 C1066.5 2011.2 1069.6 2016.0 1070.0 2017.6 C1070.4 2019.2 1068.7 2022.5 1068.7 2022.5 C1068.7 2022.5 1071.6 2027.0 1073.7 2028.7 C1075.8 2030.4 1079.8 2032.2 1082.3 2033.6 C1084.8 2035.0 1088.1 2036.5 1089.7 2037.8 C1091.3 2039.1 1091.9 2041.3 1093.4 2042.7 C1094.9 2044.1 1098.3 2045.1 1099.6 2047.2 C1100.9 2049.3 1099.3 2052.6 1100.8 2054.6 C1102.3 2056.6 1107.6 2059.3 1109.5 2060.0 C1111.4 2060.7 1113.7 2059.1 1115.6 2060.0 C1117.5 2060.9 1119.5 2064.2 1121.8 2065.7 C1124.1 2067.2 1129.2 2068.9 1129.2 2068.9 C1129.2 2068.9 1130.5 2074.3 1130.5 2074.3 C1130.5 2074.3 1135.5 2075.8 1137.9 2076.8 C1140.3 2077.8 1143.7 2079.9 1146.5 2081.2 C1149.3 2082.5 1155.1 2084.7 1155.1 2084.7"/>
<path d="M1561.5 1907.7 C1561.5 1907.7 1564.5 1910.7 1566.5 1911.4 C1568.5 1912.1 1574.9 1913.6 1578.8 1913.4 C1582.7 1913.2 1586.1 1910.7 1589.9 1910.2 C1593.7 1909.7 1601.5 1910.2 1601.5 1910.2 C1601.5 1910.2 1606.0 1918.3 1606.0 1918.3 C1606.0 1918.3 1615.9 1918.4 1620.8 1919.3 C1625.7 1920.2 1632.3 1923.3 1635.6 1923.8 C1638.9 1924.3 1642.6 1923.7 1645.5 1923.3 C1648.4 1922.9 1651.1 1921.1 1654.1 1921.3 C1657.1 1921.5 1663.0 1924.2 1667.7 1925.0 C1672.4 1925.8 1678.7 1925.7 1682.5 1926.2 C1686.3 1926.7 1691.7 1927.7 1693.6 1928.7 C1695.5 1929.7 1697.3 1934.1 1697.3 1934.1 C1697.3 1934.1 1701.9 1930.0 1704.7 1928.7 C1707.5 1927.4 1714.1 1924.9 1717.0 1925.0 C1719.9 1925.1 1724.5 1929.2 1724.5 1929.2 C1724.5 1929.2 1730.8 1925.4 1733.1 1922.5 C1735.4 1919.6 1737.9 1913.1 1738.8 1911.4 C1739.7 1909.7 1741.7 1906.5 1741.7 1906.5"/>
<path d="M1277.3 954.9 C1277.3 954.9 1279.4 978.6 1279.8 984.0 C1280.2 989.4 1281.5 1014.9 1281.5 1014.9 C1281.5 1014.9 1279.9 1017.2 1278.6 1017.3 C1277.3 1017.4 1242.8 1017.3 1242.8 1017.3 C1242.8 1017.3 1247.0 1021.3 1248.9 1023.5 C1250.8 1025.7 1270.4 1049.3 1273.6 1053.1 C1276.8 1056.9 1281.8 1061.2 1283.5 1064.2 C1285.2 1067.2 1285.6 1070.7 1286.0 1074.1 C1286.4 1077.5 1290.4 1124.2 1290.9 1129.6 C1291.4 1135.0 1293.2 1159.9 1293.4 1161.7 C1293.6 1163.5 1295.8 1166.7 1295.8 1166.7 C1295.8 1166.7 1300.7 1167.8 1303.2 1167.9 C1305.7 1168.0 1434.6 1171.9 1440.0 1172.1 C1445.4 1172.3 1504.8 1174.6 1504.8 1174.6 C1504.8 1174.6 1509.7 1167.9 1509.7 1167.9 C1509.7 1167.9 1518.3 1167.9 1518.3 1167.9 C1518.3 1167.9 1519.6 1178.7 1519.6 1180.0 C1519.6 1181.3 1519.0 1182.6 1518.3 1183.7 C1517.6 1184.8 1515.1 1186.9 1515.1 1186.9"/>
<path d="M30.0 491.8 C30.0 491.8 33.2 493.1 34.4 494.3 C35.6 495.5 37.4 499.7 39.9 501.2 C42.4 502.7 46.3 503.6 49.7 503.6 C53.1 503.6 58.1 502.5 62.1 501.2 C66.1 499.9 70.3 497.5 74.4 495.5 C78.5 493.5 91.0 485.8 96.2 484.4 C101.4 483.0 110.6 484.4 113.9 485.1 C117.2 485.8 119.3 489.5 122.6 489.8 C125.9 490.1 137.7 488.3 142.3 488.1 C146.9 487.9 152.9 488.4 155.9 488.1 C158.9 487.8 161.5 486.0 164.5 486.1 C167.5 486.2 174.0 488.3 178.1 488.8 C182.2 489.3 186.4 488.9 190.5 489.3 C194.6 489.7 199.0 490.4 202.8 491.3 C206.6 492.2 210.1 493.8 213.9 494.7 C217.7 495.6 222.3 496.8 226.2 496.7 C230.1 496.6 237.4 493.8 237.4 493.8 C237.4 493.8 242.3 498.0 242.3 498.0 C242.3 498.0 240.1 502.9 239.8 505.4 C239.5 507.9 240.3 512.8 240.3 512.8 C240.3 512.8 244.9 511.9 247.2 511.5 C249.5 511.1 255.7 510.7 259.6 509.1 C263.5 507.5 267.6 503.5 270.7 502.2 C273.8 500.9 277.8 501.5 280.6 500.4 C283.4 499.3 285.7 496.5 288.0 495.5 C290.3 494.5 293.1 495.3 295.4 494.3 C297.7 493.3 300.1 491.9 301.5 489.8 C302.9 487.7 306.9 477.7 308.9 474.5 C310.9 471.3 314.0 469.0 316.3 465.9 C318.6 462.8 319.5 458.6 322.5 456.0 C325.5 453.4 329.6 451.8 333.6 451.1 C337.6 450.4 349.8 450.4 352.1 450.6 C354.4 450.8 356.3 452.3 358.3 453.5 C360.3 454.7 365.7 458.5 365.7 458.5 C365.7 458.5 370.2 457.2 370.2 457.2 C370.2 457.2 371.4 449.2 373.1 446.1 C374.8 443.0 378.4 440.9 380.5 438.7 C382.6 436.5 384.1 433.7 386.7 432.0 C389.3 430.3 398.4 426.7 400.3 425.6 C402.2 424.5 404.3 422.8 405.2 421.4 C406.1 420.0 406.4 416.5 406.4 416.5 C406.4 416.5 416.3 415.3 416.3 415.3 C416.3 415.3 416.3 409.1 416.3 409.1 C416.3 409.1 422.1 407.4 425.0 407.4 C427.9 407.4 433.6 409.1 433.6 409.1 C433.6 409.1 436.5 405.4 438.5 404.2 C440.5 403.0 445.5 402.6 448.4 400.5 C451.3 398.4 455.8 393.0 459.5 389.3 C463.2 385.6 467.9 380.5 471.9 377.0 C475.9 373.5 482.6 367.9 486.7 365.4 C490.8 362.9 498.6 361.0 500.0 360.1 C501.4 359.2 502.0 355.5 502.0 355.5 C502.0 355.5 514.0 353.4 517.3 353.1 C520.6 352.8 524.0 353.8 527.2 353.1 C530.4 352.4 533.6 349.7 537.0 348.6 C540.4 347.5 546.0 346.8 549.4 345.7 C552.8 344.6 557.1 342.1 559.2 341.7 C561.3 341.3 563.9 342.7 565.4 342.4 C566.9 342.1 569.1 340.0 569.1 340.0 C569.1 340.0 575.7 343.5 579.0 343.2 C582.3 342.9 584.3 338.9 587.6 338.2 C590.9 337.5 596.0 339.2 598.7 338.7 C601.4 338.2 603.3 335.1 606.1 335.0 C608.9 334.9 614.5 337.5 616.0 338.2 C617.5 338.9 618.3 340.4 619.7 341.2 C621.1 342.0 630.8 346.6 630.8 346.6 C630.8 346.6 633.5 342.1 634.5 341.2 C635.5 340.3 637.3 340.9 638.2 340.0 C639.1 339.1 639.6 336.5 640.7 335.0 C641.8 333.5 648.1 326.4 648.1 326.4"/>
<path d="M1539.8 1662.1 C1539.8 1662.1 1541.4 1653.6 1541.8 1650.0 C1542.2 1646.4 1542.6 1641.7 1542.3 1639.1 C1542.0 1636.5 1540.1 1634.2 1539.8 1631.7 C1539.5 1629.2 1540.9 1626.5 1540.6 1624.3 C1540.3 1622.1 1540.0 1619.4 1538.1 1618.2 C1536.2 1617.0 1444.5 1561.6 1440.0 1558.9 C1435.5 1556.2 1431.9 1551.3 1426.7 1551.0 C1421.5 1550.7 1318.4 1551.5 1313.1 1552.2 C1307.8 1552.9 1133.3 1590.6 1128.0 1591.7 C1122.7 1592.8 1100.3 1596.7 1100.3 1596.7 C1100.3 1596.7 1085.1 1635.4 1083.6 1639.1 C1082.1 1642.8 1079.8 1648.4 1079.2 1650.0 C1078.6 1651.6 1078.4 1653.3 1077.4 1654.7 C1076.4 1656.1 1037.1 1711.9 1036.6 1712.7 C1036.1 1713.5 1035.4 1714.3 1035.4 1715.2 C1035.4 1716.1 1036.6 1768.2 1036.6 1770.7 C1036.6 1773.2 1036.1 1775.7 1035.4 1778.1 C1034.7 1780.5 991.7 1925.0 991.7 1925.0"/>
<path d="M150.5 1325.4 C150.5 1325.4 150.6 1334.2 151.5 1337.1 C152.4 1340.0 154.3 1342.5 156.3 1344.9 C158.3 1347.3 163.5 1351.8 166.0 1354.6 C168.5 1357.4 171.5 1360.6 172.8 1363.3 C174.1 1366.0 173.9 1369.5 174.2 1372.1 C174.5 1374.7 174.3 1378.0 174.8 1379.8 C175.3 1381.6 177.7 1384.7 177.7 1384.7 C177.7 1384.7 180.6 1382.7 180.6 1382.7 C180.6 1382.7 185.0 1385.8 187.4 1387.2 C189.8 1388.6 192.6 1390.6 195.2 1391.1 C197.8 1391.6 203.0 1390.5 203.0 1390.5 C203.0 1390.5 204.1 1395.3 203.0 1397.3 C201.9 1399.3 196.1 1402.7 195.2 1404.1 C194.3 1405.5 194.6 1407.5 195.2 1409.0 C195.8 1410.5 199.0 1413.2 200.0 1415.8 C201.0 1418.4 202.6 1427.8 203.0 1430.4 C203.4 1433.0 203.2 1435.6 203.9 1438.1 C204.6 1440.6 207.9 1446.6 208.8 1449.8 C209.7 1453.0 209.8 1456.2 209.8 1459.5 C209.8 1462.8 208.3 1466.5 208.8 1470.0 C209.2 1473.5 212.4 1478.6 212.7 1479.9 C213.0 1481.2 211.0 1482.3 211.4 1483.6 C211.8 1484.9 219.6 1500.9 219.6 1500.9 C219.6 1500.9 213.9 1507.8 213.9 1507.8 C213.9 1507.8 217.3 1512.2 218.8 1514.5 C220.3 1516.8 222.2 1521.5 223.8 1523.1 C225.4 1524.7 228.1 1524.3 229.9 1525.6 C231.7 1526.9 236.6 1531.2 239.8 1534.2 C243.0 1537.2 247.9 1542.1 249.7 1544.1 C251.5 1546.1 252.5 1548.7 254.6 1550.3 C256.7 1551.9 261.3 1553.3 264.5 1555.2 C267.7 1557.1 274.8 1562.2 276.8 1563.8 C278.8 1565.4 281.8 1569.5 281.8 1569.5 C281.8 1569.5 276.4 1570.7 274.4 1572.5 C272.4 1574.3 269.3 1578.9 267.0 1582.4 C264.7 1585.9 261.0 1592.8 259.6 1594.7 C258.2 1596.6 256.2 1597.9 254.6 1599.6 C253.0 1601.3 248.5 1607.0 248.5 1607.0 C248.5 1607.0 250.7 1610.5 252.2 1612.0 C253.7 1613.5 258.9 1618.2 260.8 1619.4 C262.7 1620.6 267.0 1621.9 267.0 1621.9 C267.0 1621.9 268.9 1626.7 268.9 1629.3 C268.9 1631.9 267.8 1636.1 267.0 1639.1 C266.2 1642.1 264.0 1647.8 264.0 1647.8 C264.0 1647.8 254.2 1650.1 254.0 1650.1 C253.8 1650.1 253.6 1650.1 253.4 1650.2 C253.2 1650.3 239.8 1654.2 239.8 1654.2 C239.8 1654.2 238.6 1657.2 238.6 1657.2 C238.6 1657.2 247.2 1660.9 247.2 1660.9 C247.2 1660.9 245.7 1668.4 246.7 1672.0 C247.7 1675.6 253.4 1683.1 253.4 1683.1 C253.4 1683.1 246.5 1685.1 244.8 1686.3 C243.1 1687.5 242.2 1690.1 241.8 1691.7 C241.4 1693.3 241.8 1695.0 242.3 1696.6 C242.8 1698.2 244.3 1702.0 246.0 1704.1 C247.7 1706.2 249.9 1707.7 252.2 1709.0 C254.5 1710.3 260.0 1712.3 263.3 1713.9 C266.6 1715.5 271.4 1717.9 273.1 1718.9 C274.8 1719.9 277.6 1722.6 277.6 1722.6 C277.6 1722.6 272.3 1727.1 270.7 1728.7 C269.1 1730.3 267.3 1732.2 266.5 1733.7 C265.7 1735.2 265.8 1736.9 265.7 1738.6 C265.6 1740.3 265.4 1748.4 265.7 1751.0 C266.0 1753.6 266.7 1756.6 268.2 1758.4 C269.7 1760.2 272.2 1760.7 274.4 1761.3 C276.6 1761.9 283.0 1762.1 283.0 1762.1 C283.0 1762.1 310.2 1804.3 311.4 1806.5 C312.6 1808.7 312.1 1811.4 312.1 1813.9 C312.1 1816.4 311.3 1840.1 311.4 1842.3 C311.5 1844.5 312.8 1846.5 313.9 1848.5 C315.0 1850.5 320.0 1857.7 321.3 1860.8 C322.6 1863.9 323.0 1867.3 323.3 1870.7 C323.6 1874.1 323.1 1888.9 323.8 1891.7 C324.5 1894.5 327.8 1895.8 329.9 1897.8 C332.0 1899.8 337.2 1903.5 338.6 1905.2 C340.0 1906.9 341.0 1911.4 341.0 1911.4 C341.0 1911.4 338.1 1916.3 338.1 1916.3 C338.1 1916.3 340.6 1920.3 341.5 1922.5 C342.4 1924.7 344.0 1927.3 344.0 1929.9 C344.0 1932.5 341.0 1937.2 341.5 1941.0 C342.0 1944.8 346.0 1949.3 347.2 1952.1 C348.4 1954.9 348.8 1958.6 349.7 1960.8 C350.6 1963.0 353.4 1964.5 353.4 1966.9 C353.4 1969.3 350.4 1980.6 349.7 1985.5 C349.0 1990.4 348.8 1999.1 348.9 2000.3 C349.0 2001.5 349.8 2002.7 350.9 2003.2 C352.0 2003.7 357.1 2004.0 357.1 2004.0 C357.1 2004.0 358.2 2007.3 359.5 2008.2 C360.8 2009.1 363.5 2009.9 365.7 2010.1 C367.9 2010.3 378.8 2010.8 383.0 2010.6 C387.2 2010.4 391.2 2009.7 395.3 2008.9 C399.4 2008.1 434.8 2001.0 434.8 2001.0 C434.8 2001.0 457.0 2023.7 457.0 2023.7 C457.0 2023.7 437.3 2083.0 437.3 2083.0"/>
<path d="M434.8 2001.0 C434.8 2001.0 439.2 1993.9 441.0 1991.6 C442.8 1989.3 445.0 1987.4 447.2 1985.5 C449.4 1983.6 455.1 1979.3 455.1 1979.3 C455.1 1979.3 454.6 1964.5 454.6 1964.5 C454.6 1964.5 458.9 1964.2 460.8 1963.2 C462.7 1962.2 464.4 1958.9 466.9 1957.8 C469.4 1956.7 485.4 1952.1 485.4 1952.1 C485.4 1952.1 483.8 1946.7 484.2 1944.7 C484.6 1942.7 487.3 1941.8 487.9 1939.8 C488.5 1937.8 488.3 1929.7 489.1 1927.5 C489.9 1925.3 494.1 1922.5 494.1 1922.5 C494.1 1922.5 498.6 1923.3 500.0 1923.2 C501.4 1923.0 502.4 1921.7 503.7 1921.3 C505.0 1920.9 532.2 1913.6 534.6 1912.6 C537.0 1911.6 538.3 1907.5 539.5 1906.5 C540.7 1905.5 543.9 1905.2 543.9 1905.2 C543.9 1905.2 544.7 1896.2 545.7 1891.7 C546.7 1887.2 551.8 1869.4 551.8 1869.4 C551.8 1869.4 563.0 1872.8 565.4 1873.9 C567.8 1875.0 570.1 1876.7 571.6 1878.8 C573.1 1880.9 574.1 1886.2 574.1 1886.2 C574.1 1886.2 583.2 1887.2 585.2 1888.0 C587.2 1888.8 588.6 1890.6 590.1 1892.2 C591.6 1893.8 603.2 1906.9 604.9 1908.4 C606.6 1909.9 608.9 1910.9 611.1 1910.9 C613.3 1910.9 628.7 1909.0 629.6 1908.9 C630.5 1908.8 631.2 1907.7 632.1 1907.7 C633.0 1907.7 641.9 1909.3 646.9 1909.4 C651.9 1909.5 694.5 1908.5 699.9 1908.9 C705.3 1909.3 720.2 1913.4 723.4 1914.4 C726.6 1915.4 730.4 1918.7 732.0 1919.3 C733.6 1919.9 735.6 1920.2 737.0 1920.0 C738.4 1919.8 740.7 1918.3 740.7 1918.3"/>
<path d="M1576.3 1637.2 C1576.3 1637.2 1571.7 1642.2 1568.9 1644.1 C1566.1 1646.0 1558.7 1649.1 1557.3 1650.0 C1556.0 1650.9 1555.3 1652.4 1554.1 1653.5 C1552.9 1654.6 1548.9 1658.1 1546.7 1659.6 C1544.5 1661.1 1539.8 1663.3 1539.8 1663.3 C1539.8 1663.3 1543.0 1669.5 1543.0 1669.5 C1543.0 1669.5 1538.8 1673.2 1538.8 1673.2 C1538.8 1673.2 1541.8 1676.9 1541.8 1676.9 C1541.8 1676.9 1546.7 1675.7 1546.7 1675.7 C1546.7 1675.7 1547.2 1680.7 1548.0 1683.1 C1548.8 1685.5 1549.8 1688.4 1551.7 1690.5 C1553.6 1692.6 1560.3 1696.6 1560.3 1696.6 C1560.3 1696.6 1558.8 1701.5 1558.6 1704.1 C1558.4 1706.7 1558.6 1709.8 1559.1 1712.7 C1559.6 1715.6 1560.9 1718.4 1561.5 1721.3 C1562.1 1724.2 1562.8 1730.0 1562.8 1730.0 C1562.8 1730.0 1568.9 1727.5 1568.9 1727.5 C1568.9 1727.5 1576.3 1734.9 1576.3 1734.9 C1576.3 1734.9 1567.7 1741.1 1567.7 1741.1 C1567.7 1741.1 1573.6 1744.3 1575.1 1746.0 C1576.6 1747.7 1577.6 1752.2 1577.6 1752.2 C1577.6 1752.2 1570.2 1755.9 1570.2 1755.9 C1570.2 1755.9 1574.5 1759.5 1576.3 1760.8 C1578.1 1762.1 1581.8 1764.5 1581.8 1764.5 C1581.8 1764.5 1578.9 1770.1 1578.8 1773.2 C1578.7 1776.3 1581.2 1784.4 1580.8 1788.0 C1580.4 1791.6 1577.6 1795.6 1576.3 1797.9 C1575.0 1800.2 1571.4 1804.0 1571.4 1804.0 C1571.4 1804.0 1576.8 1812.2 1576.8 1812.2 C1576.8 1812.2 1573.0 1818.5 1571.4 1821.3 C1569.8 1824.1 1567.8 1827.5 1567.0 1829.9 C1566.2 1832.3 1566.0 1837.4 1566.0 1837.4 C1566.0 1837.4 1570.2 1841.1 1570.2 1841.1 C1570.2 1841.1 1568.2 1847.2 1568.4 1849.7 C1568.6 1852.2 1571.5 1854.1 1571.4 1856.6 C1571.3 1859.1 1568.7 1863.8 1567.7 1867.0 C1566.7 1870.2 1565.0 1874.0 1565.2 1876.8 C1565.4 1879.6 1568.9 1884.3 1568.9 1884.3 C1568.9 1884.3 1565.3 1890.1 1564.0 1892.9 C1562.7 1895.7 1561.3 1899.4 1561.0 1901.5 C1560.7 1903.6 1561.5 1907.7 1561.5 1907.7"/>
<path d="M142.3 488.1 C142.3 488.1 251.4 682.8 252.2 684.3 C253.0 685.8 251.6 687.7 250.9 689.3 C250.2 690.9 249.0 693.8 247.2 695.4 C245.4 697.0 240.9 698.5 239.8 699.6 C238.7 700.7 238.6 704.1 238.6 704.1 C238.6 704.1 244.8 707.8 244.8 707.8 C244.8 707.8 244.0 709.3 243.5 710.0 C243.0 710.7 242.4 713.0 241.1 713.7 C239.8 714.4 232.3 715.4 229.9 716.9 C227.5 718.4 226.8 721.5 225.0 723.6 C223.2 725.7 218.8 729.6 217.6 731.0 C216.4 732.4 215.3 734.1 215.1 735.9 C214.9 737.7 215.3 746.1 215.6 749.5 C215.9 752.9 217.0 756.0 217.1 759.4 C217.2 762.8 216.2 770.0 216.4 774.2 C216.6 778.4 218.0 782.3 218.1 786.5 C218.2 790.7 218.0 804.9 217.6 808.7 C217.2 812.5 215.6 817.5 214.6 819.8 C213.6 822.1 211.0 824.3 210.2 826.0 C209.4 827.7 209.0 831.4 209.0 831.4 C209.0 831.4 201.6 832.9 201.6 832.9 C201.6 832.9 202.8 836.8 204.0 838.4 C205.2 840.0 210.2 843.2 211.4 845.8 C212.6 848.4 210.8 851.6 211.4 854.4 C212.0 857.2 214.5 861.5 215.1 864.3 C215.7 867.1 214.1 870.4 215.6 872.9 C217.1 875.4 223.1 877.5 225.0 880.3 C226.9 883.1 226.6 886.9 227.5 890.2 C228.4 893.5 230.7 900.1 230.7 900.1 C230.7 900.1 228.0 903.1 226.2 903.8 C224.4 904.5 217.0 905.3 215.1 906.2 C213.2 907.1 211.8 909.2 211.4 911.2 C211.0 913.2 211.6 917.6 212.2 919.8 C212.8 922.0 215.1 926.0 215.1 926.0 C215.1 926.0 207.0 929.8 204.0 932.2 C201.0 934.6 197.7 939.7 196.6 940.8 C195.5 941.9 192.9 943.3 192.9 943.3 C192.9 943.3 192.9 949.9 192.9 949.9 C192.9 949.9 184.3 950.7 184.3 950.7 C184.3 950.7 183.4 964.3 183.0 966.7 C182.6 969.1 180.6 973.6 180.6 973.6 C180.6 973.6 172.3 975.6 170.7 976.6 C169.1 977.6 168.4 979.7 168.2 981.5 C168.0 983.3 169.0 990.0 168.7 992.6 C168.4 995.2 165.8 1000.0 165.8 1000.0 C165.8 1000.0 169.0 1004.1 170.7 1006.2 C172.4 1008.3 177.6 1015.4 180.6 1018.6 C183.6 1021.8 188.4 1025.0 190.5 1027.2 C192.6 1029.4 195.9 1034.6 195.9 1034.6 C195.9 1034.6 194.2 1037.8 194.2 1037.8 C194.2 1037.8 186.7 1038.3 186.7 1038.3 C186.7 1038.3 186.6 1041.9 185.5 1043.2 C184.4 1044.5 180.3 1045.9 179.3 1046.9 C178.3 1047.9 177.8 1049.3 177.6 1050.7 C177.4 1052.1 178.1 1056.8 178.1 1056.8 C178.1 1056.8 173.2 1058.0 171.9 1060.0 C170.6 1062.0 170.6 1068.0 169.5 1070.4 C168.4 1072.8 165.9 1074.6 164.5 1076.6 C163.1 1078.6 161.2 1080.3 160.8 1082.7 C160.4 1085.1 161.4 1087.7 162.1 1090.1 C162.8 1092.5 164.7 1096.7 166.0 1100.0 C167.3 1103.3 184.2 1145.6 185.5 1148.6 C186.8 1151.6 189.0 1154.1 191.3 1156.4 C193.6 1158.7 199.1 1162.2 199.1 1162.2 C199.1 1162.2 203.3 1158.7 205.9 1158.3 C208.5 1157.9 213.4 1158.0 216.6 1159.3 C219.8 1160.6 221.5 1164.2 224.3 1166.1 C227.1 1168.0 232.1 1170.0 233.1 1170.9 C234.1 1171.8 234.0 1174.8 234.0 1174.8 C234.0 1174.8 231.6 1177.0 230.2 1177.7 C228.8 1178.4 219.3 1181.9 216.6 1183.6 C213.9 1185.3 211.3 1187.8 209.8 1190.4 C208.3 1193.0 208.1 1196.8 207.8 1199.1 C207.5 1201.4 207.0 1203.8 207.8 1205.9 C208.6 1208.0 212.7 1212.7 212.7 1212.7 C212.7 1212.7 211.2 1215.7 209.8 1216.6 C208.4 1217.5 201.6 1220.6 199.1 1221.5 C196.6 1222.4 191.3 1223.4 191.3 1223.4 C191.3 1223.4 189.1 1229.4 187.4 1232.1 C185.7 1234.8 182.1 1238.9 179.6 1241.9 C177.1 1244.9 173.5 1248.5 171.9 1250.6 C170.3 1252.7 169.7 1255.4 168.0 1257.4 C166.3 1259.4 162.1 1262.3 162.1 1262.3 C162.1 1262.3 164.1 1266.2 164.1 1266.2 C164.1 1266.2 162.0 1270.0 160.2 1271.0 C158.4 1272.0 153.3 1272.6 150.5 1273.9 C147.7 1275.2 145.0 1277.3 142.7 1278.8 C140.4 1280.3 137.4 1281.4 135.9 1283.6 C134.4 1285.8 134.7 1289.6 134.0 1291.4 C133.3 1293.2 131.1 1296.3 131.1 1296.3 C131.1 1296.3 135.7 1296.1 137.9 1296.7 C140.1 1297.3 142.7 1298.6 144.7 1300.2 C146.7 1301.8 148.5 1303.7 149.5 1306.0 C150.5 1308.3 150.8 1311.1 150.9 1313.8 C151.0 1316.5 152.4 1322.0 150.5 1325.4 C148.6 1328.8 141.9 1333.6 138.8 1336.1 C135.7 1338.6 131.5 1341.8 129.1 1342.9 C126.7 1344.0 123.9 1343.9 121.3 1343.9 C118.7 1343.9 112.6 1342.9 112.6 1342.9 C112.6 1342.9 109.4 1345.8 108.7 1347.8 C108.0 1349.8 108.2 1352.4 108.7 1354.6 C109.2 1356.8 111.9 1361.8 112.6 1364.3 C113.3 1366.8 112.7 1369.6 113.6 1372.1 C114.5 1374.6 117.9 1377.1 118.4 1379.8 C118.9 1382.5 117.5 1385.1 116.5 1387.6 C115.5 1390.1 112.9 1394.7 111.6 1397.3 C110.3 1399.9 109.2 1402.6 107.7 1405.1 C106.2 1407.6 104.1 1410.5 101.9 1412.9 C99.7 1415.3 94.1 1421.3 92.2 1422.6 C90.3 1423.9 87.6 1422.9 85.4 1423.6 C83.2 1424.3 76.6 1428.4 71.8 1429.4 C67.0 1430.4 61.8 1429.5 57.2 1429.4 C52.6 1429.3 48.0 1430.1 43.6 1428.8 C39.2 1427.5 31.9 1421.7 31.9 1421.7 C31.9 1421.7 33.6 1422.6 34.4 1423.1 C35.2 1423.6 41.1 1426.1 43.6 1428.1 C46.1 1430.1 47.9 1432.9 49.7 1435.5 C51.5 1438.1 54.7 1444.1 54.7 1444.1 C54.7 1444.1 52.0 1447.2 51.7 1449.1 C51.4 1451.0 51.3 1465.0 51.0 1466.3 C50.7 1467.6 47.8 1468.8 47.8 1468.8 C47.8 1468.8 49.8 1473.6 49.7 1476.2 C49.6 1478.8 47.1 1482.7 47.3 1486.1 C47.5 1489.5 50.0 1496.0 51.0 1500.9 C52.0 1505.8 52.3 1510.8 53.5 1515.7 C54.7 1520.6 58.0 1528.4 58.4 1530.5 C58.8 1532.6 57.2 1534.6 57.2 1536.7 C57.2 1538.8 58.6 1540.8 58.4 1542.9 C58.2 1545.0 55.5 1547.7 55.9 1550.3 C56.3 1552.9 59.4 1556.7 60.9 1560.1 C62.4 1563.5 64.8 1568.5 65.8 1572.5 C66.8 1576.5 67.0 1584.8 67.0 1584.8 C67.0 1584.8 60.9 1589.8 60.9 1589.8 C60.9 1589.8 65.7 1590.4 67.0 1592.2 C68.3 1594.0 70.9 1600.2 72.0 1604.6 C73.1 1609.0 73.3 1615.3 73.9 1619.4 C74.5 1623.5 75.4 1627.5 75.7 1631.7 C76.0 1635.9 75.8 1648.8 75.8 1650.0 C75.8 1651.2 76.1 1652.4 75.7 1653.5 C75.3 1654.6 72.3 1658.8 72.0 1660.9 C71.7 1663.0 73.9 1667.0 73.9 1667.0 C73.9 1667.0 70.7 1670.7 70.7 1670.7 C70.7 1670.7 74.0 1674.8 74.4 1676.9 C74.8 1679.0 74.3 1681.3 73.2 1683.1 C72.1 1684.9 67.5 1688.0 67.5 1688.0 C67.5 1688.0 70.4 1694.5 70.7 1696.6 C71.0 1698.7 70.2 1701.0 69.5 1702.8 C68.8 1704.6 66.8 1705.9 66.5 1707.8 C66.2 1709.7 66.9 1718.0 67.0 1721.3 C67.1 1724.6 67.7 1729.0 67.5 1731.2 C67.3 1733.4 65.8 1737.4 65.8 1737.4 C65.8 1737.4 68.3 1739.8 68.3 1739.8 C68.3 1739.8 64.6 1744.8 64.6 1744.8 C64.6 1744.8 69.1 1747.9 70.7 1749.7 C72.3 1751.5 73.8 1754.4 74.4 1755.9 C75.0 1757.4 75.4 1759.2 74.9 1760.8 C74.4 1762.4 71.4 1765.5 70.7 1767.0 C70.0 1768.5 69.6 1770.3 70.0 1771.9 C70.4 1773.5 73.1 1777.6 74.4 1780.6 C75.7 1783.6 76.9 1787.2 78.1 1790.5 C79.3 1793.8 81.1 1797.9 81.8 1800.3 C82.5 1802.7 83.4 1805.4 83.1 1807.7 C82.8 1810.0 80.3 1811.8 79.9 1813.9 C79.5 1816.0 80.0 1818.1 80.6 1820.1 C81.2 1822.1 83.8 1823.9 83.8 1826.2 C83.8 1828.5 81.0 1833.3 80.6 1834.9 C80.2 1836.5 81.0 1838.2 80.6 1839.8 C80.2 1841.4 79.2 1843.3 78.1 1844.8 C77.0 1846.3 74.7 1846.8 73.9 1848.5 C73.1 1850.2 72.6 1854.2 72.5 1857.1 C72.4 1860.0 73.3 1863.7 73.2 1867.0 C73.1 1870.3 72.9 1874.6 72.0 1876.8 C71.1 1879.0 67.0 1881.8 67.0 1881.8 C67.0 1881.8 69.3 1884.9 69.5 1886.7 C69.7 1888.5 68.9 1892.5 68.3 1895.4 C67.7 1898.3 66.5 1901.9 65.8 1905.2 C65.1 1908.5 63.9 1914.2 63.3 1918.8 C62.7 1923.4 62.4 1930.3 62.1 1933.6 C61.8 1936.9 61.2 1940.2 60.9 1943.5 C60.6 1946.8 60.4 1953.3 60.1 1955.8 C59.8 1958.3 59.1 1961.1 58.4 1963.2 C57.7 1965.3 56.2 1967.3 55.9 1969.4 C55.6 1971.5 56.9 1973.5 56.7 1975.6 C56.5 1977.7 55.4 1980.5 54.7 1983.0 C54.0 1985.5 52.7 1987.8 52.7 1990.4 C52.7 1993.0 54.2 1995.3 54.7 1997.8 C55.2 2000.3 56.1 2005.1 55.9 2007.7 C55.7 2010.3 54.2 2013.4 53.5 2015.1 C52.8 2016.8 51.8 2018.3 51.0 2020.0 C50.2 2021.7 49.7 2024.3 48.5 2026.2 C47.3 2028.1 45.5 2029.8 43.6 2031.1 C41.7 2032.4 35.8 2035.5 34.4 2036.1 C33.0 2036.7 30.0 2037.3 30.0 2037.3"/>
<path d="M648.1 326.4 C648.1 326.4 652.4 326.6 654.3 327.6 C656.2 328.6 657.9 330.6 659.2 332.6 C660.5 334.6 661.9 339.4 662.9 341.2 C663.9 343.0 666.1 344.1 666.6 346.1 C667.1 348.1 666.0 350.3 665.4 352.3 C664.8 354.3 662.8 357.9 662.4 361.0 C662.0 364.1 662.3 369.2 662.9 373.3 C663.5 377.4 665.2 382.7 665.9 385.6 C666.6 388.5 668.0 391.3 667.9 394.3 C667.8 397.3 666.3 400.7 665.4 402.9 C664.5 405.1 663.1 407.5 661.7 409.1 C660.3 410.7 657.9 411.4 656.7 412.8 C655.5 414.2 654.9 416.0 654.3 417.7 C653.7 419.4 653.6 423.4 652.6 425.1 C651.6 426.8 648.1 428.8 648.1 428.8 C648.1 428.8 648.9 435.0 649.3 437.5 C649.7 440.0 649.6 442.6 650.6 444.9 C651.6 447.2 654.6 449.5 655.5 452.3 C656.4 455.1 656.3 459.6 656.0 462.2 C655.7 464.8 653.5 469.6 653.5 469.6 C653.5 469.6 658.9 472.0 660.5 473.3 C662.1 474.6 663.5 476.3 664.2 478.2 C664.9 480.1 665.1 485.1 665.4 486.8 C665.7 488.5 666.6 491.8 666.6 491.8 C666.6 491.8 663.6 494.8 662.9 496.7 C662.2 498.6 662.4 503.5 661.7 505.4 C661.0 507.3 659.1 508.6 658.0 510.3 C656.9 512.0 654.3 516.5 654.3 516.5 C654.3 516.5 658.0 523.9 658.0 523.9 C658.0 523.9 655.0 528.8 655.0 528.8 C655.0 528.8 656.8 533.6 658.0 535.0 C659.2 536.4 662.9 537.5 662.9 537.5 C662.9 537.5 660.2 543.1 660.5 546.1 C660.8 549.1 664.9 557.2 664.9 557.2 C664.9 557.2 671.0 557.4 672.8 558.4 C674.6 559.4 675.7 561.5 676.5 563.4 C677.3 565.3 676.6 567.7 677.7 569.5 C678.8 571.3 682.7 573.2 682.7 573.2 C682.7 573.2 679.7 577.1 679.0 579.4 C678.3 581.7 678.2 588.1 678.2 588.1 C678.2 588.1 683.9 593.0 683.9 593.0 C683.9 593.0 687.6 584.4 687.6 584.4 C687.6 584.4 693.1 588.0 695.0 590.5 C696.9 593.0 697.9 596.4 698.7 599.2 C699.5 602.0 699.4 606.3 699.9 607.8 C700.4 609.3 702.9 611.5 702.9 611.5 C702.9 611.5 701.2 618.9 701.2 618.9 C701.2 618.9 703.3 622.0 704.9 622.6 C706.5 623.2 714.7 624.8 717.2 625.1 C719.7 625.4 722.4 624.2 724.6 625.1 C726.8 626.0 728.1 628.2 729.6 630.0 C731.1 631.8 732.8 635.9 734.5 637.4 C736.2 638.9 739.1 638.3 740.7 639.9 C742.3 641.5 741.5 644.5 743.1 646.1 C744.7 647.7 749.4 650.0 751.8 651.0 C754.2 652.0 757.1 652.3 759.2 652.7 C761.3 653.1 765.4 653.5 765.4 653.5 C765.4 653.5 767.8 657.4 767.8 659.6 C767.8 661.8 765.4 669.5 765.4 669.5 C765.4 669.5 769.3 674.9 771.5 676.9 C773.7 678.9 776.1 681.0 778.9 681.9 C781.7 682.8 785.9 681.4 787.6 681.9 C789.3 682.4 791.3 685.6 791.3 685.6 C791.3 685.6 795.3 682.8 797.5 683.1 C799.7 683.4 804.0 686.9 806.1 687.3 C808.2 687.7 810.1 685.5 812.3 685.6 C814.5 685.7 819.2 687.4 820.9 688.0 C822.6 688.6 824.0 690.1 825.8 690.5 C827.6 690.9 831.1 690.6 832.0 690.5 C832.9 690.4 833.8 689.9 834.5 689.3 C835.2 688.7 839.3 683.4 841.9 681.9 C844.5 680.4 847.5 680.1 850.5 680.1 C853.5 680.1 862.6 681.2 865.3 681.9 C868.0 682.6 870.2 684.3 872.7 685.6 C875.2 686.9 879.0 689.4 881.4 690.5 C883.8 691.6 886.8 691.4 888.8 693.0 C890.8 694.6 891.6 698.3 893.7 700.4 C895.8 702.5 898.5 703.8 901.1 705.3 C903.7 706.8 909.8 710.0 909.8 710.0 C909.8 710.0 902.4 707.6 902.4 707.6 C902.4 707.6 907.4 711.7 909.8 712.5 C912.2 713.3 915.9 712.8 917.2 712.5 C918.5 712.2 919.3 710.9 920.2 710.0 C921.2 709.1 922.8 706.4 924.6 705.3 C926.4 704.2 929.4 702.6 932.0 702.8 C934.6 703.0 940.6 706.5 940.6 706.5 C940.6 706.5 940.5 708.8 940.6 710.0 C940.8 711.2 940.8 714.4 941.9 716.2 C943.0 718.0 945.7 718.1 946.8 719.9 C947.9 721.7 946.8 724.3 948.0 726.0 C949.2 727.7 954.2 731.0 954.2 731.0 C954.2 731.0 956.7 729.7 956.7 729.7 C956.7 729.7 962.3 736.6 964.1 738.4 C965.9 740.2 968.4 741.5 970.0 743.3 C971.6 745.1 973.7 749.5 973.7 749.5 C973.7 749.5 984.8 745.8 984.8 745.8 C984.8 745.8 988.7 748.1 989.7 749.5 C990.7 750.9 991.0 754.4 991.0 754.4 C991.0 754.4 998.8 757.5 1002.1 758.1 C1005.4 758.7 1012.0 758.1 1012.0 758.1 C1012.0 758.1 1015.3 763.9 1018.1 765.5 C1020.9 767.1 1025.4 768.1 1029.2 768.0 C1033.0 767.9 1039.7 764.8 1042.8 764.8 C1045.9 764.8 1049.8 767.3 1051.5 768.0 C1053.2 768.7 1056.4 770.5 1056.4 770.5 C1056.4 770.5 1054.2 778.3 1055.9 781.6 C1057.6 784.9 1067.2 793.7 1068.7 795.2 C1070.2 796.7 1072.1 797.6 1073.7 798.9 C1075.3 800.2 1082.7 806.0 1084.8 808.7 C1086.9 811.4 1088.5 818.1 1088.5 818.1 C1088.5 818.1 1098.2 817.8 1100.8 817.4 C1103.4 817.0 1105.6 815.4 1108.2 814.9 C1110.8 814.4 1115.7 813.7 1118.1 814.2 C1120.5 814.7 1122.0 817.3 1124.3 818.1 C1126.6 818.9 1130.0 819.4 1132.9 819.1 C1135.8 818.8 1140.2 817.1 1142.8 816.1 C1145.4 815.1 1147.4 812.4 1150.2 812.4 C1153.0 812.4 1157.4 815.6 1161.3 816.1 C1165.2 816.6 1173.7 815.7 1173.7 815.7 C1173.7 815.7 1174.6 812.0 1176.1 811.2 C1177.6 810.4 1186.0 808.7 1186.0 808.7 C1186.0 808.7 1186.7 816.6 1186.7 816.6 C1186.7 816.6 1199.3 817.9 1203.3 819.1 C1207.3 820.3 1210.9 822.6 1214.4 824.8 C1217.9 827.0 1221.0 829.7 1224.3 832.2 C1227.6 834.7 1233.1 839.3 1235.4 840.8 C1237.7 842.3 1241.8 843.9 1242.8 844.5 C1243.8 845.1 1244.1 846.5 1245.2 847.0 C1246.3 847.5 1256.3 850.7 1256.3 850.7 C1256.3 850.7 1257.9 859.2 1258.8 861.8 C1259.7 864.4 1261.1 866.9 1262.5 869.2 C1263.9 871.5 1267.5 875.4 1267.5 875.4 C1267.5 875.4 1265.4 884.3 1263.8 886.5 C1262.2 888.7 1256.8 890.2 1256.8 890.2 C1256.8 890.2 1256.2 899.9 1256.3 901.3 C1256.4 902.7 1258.2 903.6 1258.3 905.0 C1258.4 906.4 1256.5 911.0 1257.6 913.7 C1258.7 916.4 1263.2 918.1 1265.0 921.1 C1266.8 924.1 1267.3 928.8 1268.7 932.2 C1270.1 935.6 1273.2 940.8 1273.6 942.0 C1274.0 943.2 1273.6 945.7 1273.6 945.7 C1273.6 945.7 1268.7 946.5 1268.7 946.5 C1268.7 946.5 1270.4 949.5 1271.6 950.7 C1272.8 951.9 1277.3 954.9 1277.3 954.9"/>
</g>
<g fill="#97b6e1" fill-opacity=".5" stroke="none">
<path d="M123.0 1036.1 C123.0 1036.1 125.8 1036.1 126.9 1036.9 C128.0 1037.7 129.7 1040.3 130.8 1041.6 C131.9 1042.9 133.5 1044.7 134.0 1045.6 C134.5 1046.5 134.8 1048.7 134.8 1048.7 C134.8 1048.7 140.7 1049.1 143.4 1050.3 C146.1 1051.5 148.9 1054.0 151.3 1055.8 C153.7 1057.6 157.2 1059.8 158.4 1061.3 C159.6 1062.8 160.0 1066.8 160.0 1066.8 C160.0 1066.8 163.6 1065.0 165.5 1065.3 C167.4 1065.6 169.1 1066.9 170.2 1068.4 C171.3 1069.9 170.6 1072.4 171.8 1073.9 C173.0 1075.4 177.3 1077.9 177.3 1077.9 C177.3 1077.9 175.8 1082.2 176.5 1084.2 C177.2 1086.2 179.4 1089.5 182.0 1090.5 C184.6 1091.5 193.1 1090.5 193.1 1090.5 C193.1 1090.5 192.8 1094.1 193.9 1095.2 C195.0 1096.3 199.7 1097.6 201.7 1099.1 C203.7 1100.6 204.8 1103.0 206.5 1104.7 C208.2 1106.4 210.9 1107.3 212.0 1109.4 C213.1 1111.5 213.1 1114.5 212.8 1116.5 C212.5 1118.5 210.4 1122.0 210.4 1122.0 C210.4 1122.0 213.8 1124.9 215.9 1125.1 C218.0 1125.3 222.2 1123.6 225.4 1123.6 C228.6 1123.6 236.1 1124.4 238.0 1125.1 C239.9 1125.8 241.9 1129.9 241.9 1129.9 C241.9 1129.9 236.0 1132.8 234.8 1133.8 C233.6 1134.8 233.8 1136.9 232.5 1137.7 C231.2 1138.5 226.2 1139.3 226.2 1139.3 C226.2 1139.3 231.9 1150.9 232.5 1153.5 C233.1 1156.1 230.9 1161.4 230.9 1161.4 C230.9 1161.4 229.8 1160.4 229.3 1159.8 C228.8 1159.2 226.9 1156.5 225.4 1155.1 C223.9 1153.7 219.4 1149.4 215.9 1147.2 C212.4 1145.0 203.2 1140.7 201.7 1140.1 C200.2 1139.5 197.0 1139.3 197.0 1139.3 C197.0 1139.3 202.7 1145.8 203.3 1148.0 C203.9 1150.2 201.0 1154.3 201.0 1154.3 C201.0 1154.3 204.3 1157.7 206.5 1158.2 C208.7 1158.7 215.3 1157.5 217.5 1158.2 C219.7 1158.9 220.3 1161.8 222.2 1163.0 C224.1 1164.2 231.7 1166.9 231.7 1166.9 C231.7 1166.9 232.8 1162.3 234.0 1160.6 C235.2 1158.9 236.7 1156.7 238.8 1156.6 C240.9 1156.5 247.7 1159.5 250.6 1159.8 C253.5 1160.1 256.6 1158.2 259.3 1159.0 C262.0 1159.8 265.6 1164.5 265.6 1164.5 C265.6 1164.5 263.2 1174.0 263.2 1174.0 C263.2 1174.0 259.5 1172.9 257.7 1173.2 C255.9 1173.5 250.4 1174.4 247.4 1176.3 C244.4 1178.2 243.6 1182.8 240.3 1184.2 C237.0 1185.6 229.7 1184.4 227.0 1185.0 C224.3 1185.6 219.9 1188.9 219.9 1188.9 C219.9 1188.9 230.9 1192.9 230.9 1192.9 C230.9 1192.9 230.1 1207.9 230.1 1207.9 C230.1 1207.9 213.3 1205.4 211.2 1204.7 C209.1 1204.0 208.0 1201.7 206.5 1200.0 C205.0 1198.3 201.7 1193.7 201.7 1193.7 C201.7 1193.7 205.1 1188.9 206.5 1186.6 C207.9 1184.3 210.1 1182.0 210.4 1179.5 C210.7 1177.0 208.8 1174.1 208.0 1172.4 C207.2 1170.7 205.5 1169.0 204.9 1167.7 C204.3 1166.4 204.1 1163.7 204.1 1163.7 C204.1 1163.7 199.4 1163.1 197.0 1163.4 C194.6 1163.7 191.7 1164.5 189.1 1165.3 C186.5 1166.1 184.1 1168.7 181.3 1168.2 C178.5 1167.7 173.2 1162.9 171.8 1162.2 C170.4 1161.5 168.4 1162.4 167.1 1161.4 C165.8 1160.4 164.7 1156.6 164.7 1156.6 C164.7 1156.6 158.1 1159.1 156.1 1159.0 C154.1 1158.9 151.0 1155.9 151.0 1155.9 C151.0 1155.9 159.7 1146.4 160.8 1144.8 C161.9 1143.2 162.7 1141.2 162.4 1139.3 C162.1 1137.4 159.2 1134.6 159.2 1134.6 C159.2 1134.6 152.8 1136.0 149.7 1135.4 C146.6 1134.8 143.6 1131.9 140.3 1130.7 C137.0 1129.5 132.4 1129.8 130.1 1128.3 C127.8 1126.8 126.1 1121.2 126.1 1121.2 C126.1 1121.2 130.1 1118.8 130.1 1118.8 C130.1 1118.8 128.0 1118.2 127.2 1118.8 C126.4 1119.4 124.7 1122.5 124.7 1122.5 C124.7 1122.5 121.1 1120.5 120.0 1118.8 C118.9 1117.1 118.9 1114.1 117.8 1111.9 C116.7 1109.7 113.0 1105.1 113.0 1105.1 C113.0 1105.1 110.1 1105.2 109.4 1106.2 C108.7 1107.2 105.8 1115.1 105.8 1115.1 C105.8 1115.1 109.9 1116.4 111.5 1117.3 C113.1 1118.2 115.7 1120.6 115.7 1120.6 C115.7 1120.6 110.8 1122.2 109.4 1122.5 C108.0 1122.8 105.2 1122.9 105.2 1122.9 C105.2 1122.9 103.6 1117.7 103.6 1117.7 C103.6 1117.7 101.1 1118.5 100.0 1118.2 C98.9 1117.9 98.3 1116.6 97.3 1116.2 C96.3 1115.8 91.6 1114.6 90.5 1114.1 C89.4 1113.6 87.8 1111.9 87.8 1111.9 C87.8 1111.9 90.0 1105.6 90.0 1105.6 C90.0 1105.6 87.4 1104.8 86.9 1103.6 C86.4 1102.4 85.9 1097.4 86.2 1096.1 C86.5 1094.8 88.2 1094.2 89.4 1093.8 C90.6 1093.4 94.8 1093.0 94.8 1093.0 C94.8 1093.0 95.0 1089.7 95.7 1088.3 C96.4 1086.9 99.6 1084.5 100.0 1082.6 C100.4 1080.7 97.9 1077.1 97.9 1077.1 C97.9 1077.1 101.4 1081.0 103.1 1082.6 C104.8 1084.2 107.7 1086.4 108.3 1087.3 C108.9 1088.2 107.4 1089.5 107.8 1090.5 C108.2 1091.5 110.0 1094.0 111.5 1095.2 C113.0 1096.4 115.4 1097.5 116.8 1097.7 C118.2 1097.9 120.9 1096.8 120.9 1096.8 C120.9 1096.8 116.8 1092.0 116.8 1092.0 C116.8 1092.0 118.9 1089.8 118.9 1089.8 C118.9 1089.8 117.2 1090.0 116.8 1089.4 C116.4 1088.8 97.6 1055.9 97.3 1055.2 C97.0 1054.5 97.2 1053.4 97.9 1053.1 C98.6 1052.8 103.6 1051.7 105.2 1051.1 C106.8 1050.5 109.4 1048.4 109.4 1048.4 C109.4 1048.4 111.5 1050.5 111.5 1050.5 C111.5 1050.5 114.1 1047.9 114.1 1047.9 C114.1 1047.9 110.9 1047.0 109.4 1046.4 C107.9 1045.8 104.7 1044.1 104.7 1044.1 C104.7 1044.1 106.3 1042.6 107.4 1042.4 C108.5 1042.2 111.6 1042.2 113.7 1042.4 C115.8 1042.6 118.0 1043.5 120.0 1043.4 C122.0 1043.3 125.1 1042.1 125.6 1041.8 C126.1 1041.5 126.3 1040.1 126.3 1040.1 C126.3 1040.1 122.5 1038.6 122.5 1038.6 C122.5 1038.6 123.0 1036.1 123.0 1036.1Z"/>
<path d="M586.4 739.1 C588.3 738.7 590.5 739.5 591.8 740.9 C593.1 742.3 594.4 745.3 594.3 747.5 C594.2 749.7 591.9 751.1 591.3 753.2 C590.7 755.3 589.4 765.5 589.4 765.5 C589.4 765.5 579.5 764.8 579.5 764.8 C579.5 764.8 577.0 753.3 577.0 750.7 C577.0 748.1 577.8 745.3 579.5 743.3 C581.2 741.3 584.5 739.5 586.4 739.1Z"/>
<path d="M627.9 719.4 C627.9 719.4 638.2 722.8 638.2 722.8 C638.2 722.8 639.5 732.2 639.5 732.2 C639.5 732.2 642.7 733.5 642.7 733.5 C642.7 733.5 641.7 737.5 641.9 739.6 C642.1 741.7 644.5 746.7 644.4 749.0 C644.3 751.3 641.2 754.9 641.2 754.9 C641.2 754.9 636.4 753.9 634.5 752.5 C632.6 751.1 630.7 749.3 630.3 747.0 C629.9 744.7 632.5 740.4 632.1 737.2 C631.7 734.0 628.6 731.5 627.9 728.5 C627.2 725.5 627.9 719.4 627.9 719.4Z"/>
<path d="M429.9 1400.9 C429.9 1400.9 433.2 1398.5 434.8 1397.2 C436.4 1395.9 439.1 1392.8 441.0 1391.8 C442.9 1390.8 445.1 1389.8 447.2 1390.3 C449.3 1390.8 454.1 1394.8 454.1 1394.8 C454.1 1394.8 450.4 1405.0 449.6 1407.1 C448.8 1409.2 447.2 1413.3 447.2 1413.3 C447.2 1413.3 453.9 1415.9 454.6 1418.9 C455.3 1421.9 453.3 1432.5 452.6 1436.7 C451.9 1440.9 450.8 1445.0 449.6 1449.1 C448.4 1453.2 445.4 1461.5 444.7 1463.9 C444.0 1466.3 443.5 1471.3 443.5 1471.3 C443.5 1471.3 447.7 1470.1 449.6 1470.8 C451.5 1471.5 455.2 1473.7 457.0 1476.2 C458.8 1478.7 460.6 1484.5 462.0 1488.6 C463.4 1492.7 463.8 1497.0 465.7 1500.9 C467.6 1504.8 472.5 1507.6 473.8 1512.0 C475.1 1516.4 474.4 1522.0 473.1 1525.6 C471.8 1529.2 467.8 1532.4 465.7 1534.2 C463.6 1536.0 458.3 1537.9 458.3 1537.9 C458.3 1537.9 454.4 1533.3 453.3 1530.5 C452.2 1527.7 451.8 1522.3 450.9 1518.2 C450.0 1514.1 448.7 1505.3 447.2 1502.1 C445.7 1498.9 441.9 1496.8 439.8 1494.7 C437.7 1492.6 433.6 1488.6 433.6 1488.6 C433.6 1488.6 441.0 1482.4 441.0 1482.4 C441.0 1482.4 439.2 1477.1 437.3 1475.0 C435.4 1472.9 430.3 1470.8 428.7 1468.8 C427.1 1466.8 426.9 1461.4 426.9 1461.4 C426.9 1461.4 435.0 1456.9 437.3 1455.2 C439.6 1453.5 442.1 1451.7 443.5 1449.1 C444.9 1446.5 446.0 1440.9 447.2 1436.7 C448.4 1432.5 450.9 1426.2 450.9 1423.1 C450.9 1420.0 449.1 1416.8 447.2 1414.5 C445.3 1412.2 442.3 1411.2 439.8 1409.6 C437.3 1408.0 432.0 1404.9 431.1 1404.1 C430.2 1403.3 429.9 1400.9 429.9 1400.9Z"/>
<path d="M1132.9 1321.9 C1132.9 1321.9 1136.3 1320.1 1137.9 1319.5 C1139.5 1318.9 1141.2 1318.9 1142.8 1318.2 C1144.4 1317.5 1152.7 1313.3 1152.7 1313.3 C1152.7 1313.3 1154.9 1316.4 1155.1 1318.2 C1155.3 1320.0 1155.2 1322.7 1153.9 1324.4 C1152.6 1326.1 1150.0 1327.2 1147.7 1327.6 C1145.4 1328.0 1140.3 1327.2 1139.1 1326.9 C1137.9 1326.6 1136.9 1325.9 1135.9 1325.1 C1134.9 1324.3 1132.9 1321.9 1132.9 1321.9Z"/>
<path d="M1575.1 1321.9 C1575.1 1321.9 1592.4 1316.3 1592.4 1316.3 C1592.4 1316.3 1587.5 1324.4 1587.5 1324.4 C1587.5 1324.4 1593.1 1327.6 1593.1 1327.6 C1593.1 1327.6 1586.2 1330.6 1586.2 1330.6 C1586.2 1330.6 1575.1 1321.9 1575.1 1321.9Z"/>
</g>
<g stroke="#97b6e1" stroke-opacity=".5" stroke-width="3.3" stroke-linecap="butt">
<path d="M30.0 286.9 C30.0 286.9 33.3 285.7 34.4 284.4 C35.5 283.1 37.4 278.3 37.4 278.3 C37.4 278.3 41.1 280.7 41.1 280.7 C41.1 280.7 43.0 276.2 44.8 274.6 C46.6 273.0 51.6 272.4 53.5 269.6 C55.4 266.8 53.9 261.2 54.7 259.7 C55.5 258.2 58.0 259.1 59.6 258.5 C61.2 257.9 64.5 256.0 67.0 254.8 C69.5 253.6 74.5 251.1 78.1 249.9 C81.7 248.7 86.7 247.9 89.2 247.4 C91.7 246.9 94.3 245.3 96.6 246.2 C98.9 247.1 107.8 254.8 107.8 254.8 C107.8 254.8 112.7 247.9 116.4 246.2 C120.1 244.5 125.3 245.2 128.7 245.4 C132.1 245.6 136.8 247.8 138.6 247.4 C140.4 247.0 141.1 242.5 141.1 242.5"/>
<path d="M262.0 242.5 C262.0 242.5 265.1 245.1 267.0 245.4 C268.9 245.7 275.0 244.3 276.8 244.9 C278.6 245.5 277.7 248.9 279.3 249.9 C280.9 250.9 284.2 251.3 286.7 251.1 C289.2 250.9 292.5 249.2 295.4 248.6 C298.3 248.0 301.1 247.3 304.0 247.4 C306.9 247.5 311.3 250.2 313.9 249.4 C316.5 248.6 318.8 243.0 318.8 243.0"/>
<path d="M646.9 322.7 C646.9 322.7 650.8 317.7 653.0 315.3 C655.2 312.9 658.3 309.1 660.5 307.9 C662.7 306.7 665.5 306.4 667.9 307.1 C670.3 307.8 677.8 313.0 682.7 314.1 C687.6 315.2 693.3 313.4 697.5 313.6 C701.7 313.8 706.6 316.0 709.8 315.3 C713.0 314.6 715.2 310.5 717.2 309.1 C719.2 307.7 721.9 307.1 723.4 305.4 C724.9 303.7 725.9 301.4 725.9 299.2 C725.9 297.0 723.4 292.1 723.4 290.6 C723.4 289.1 724.6 287.6 725.9 286.9 C727.2 286.2 731.1 287.0 733.3 285.7 C735.5 284.4 736.3 281.4 738.2 279.5 C740.1 277.6 744.2 274.9 746.8 272.1 C749.4 269.3 752.2 264.5 754.3 262.7 C756.4 260.9 759.0 259.1 761.7 259.3 C764.4 259.5 770.9 264.0 774.0 264.2 C777.1 264.4 780.3 263.0 782.6 261.0 C784.9 259.0 786.0 255.3 787.6 252.3 C789.2 249.3 792.5 242.5 792.5 242.5"/>
<path d="M1231.7 241.2 C1231.7 241.2 1232.1 243.2 1232.9 243.7 C1233.7 244.2 1237.6 244.5 1239.1 246.2 C1240.6 247.9 1243.4 251.7 1242.8 254.8 C1242.2 257.9 1235.6 260.6 1235.4 264.7 C1235.2 268.8 1239.9 274.0 1241.5 277.0 C1243.1 280.0 1245.1 282.6 1246.5 285.7 C1247.9 288.8 1250.9 298.0 1250.9 298.0"/>
<path d="M1665.2 240.0 C1665.2 240.0 1665.9 241.7 1666.4 242.5 C1666.9 243.3 1670.5 246.1 1671.4 248.6 C1672.3 251.1 1672.5 261.6 1674.6 264.7 C1676.7 267.8 1681.4 267.6 1685.0 268.4 C1688.6 269.2 1695.1 268.8 1697.3 269.6 C1699.5 270.4 1701.1 272.5 1702.2 274.6 C1703.3 276.7 1706.5 286.8 1707.2 288.1 C1707.9 289.4 1709.4 290.7 1710.9 290.6 C1712.4 290.5 1715.6 287.4 1718.3 287.4 C1721.0 287.4 1726.2 289.1 1729.4 290.6 C1732.6 292.1 1736.8 296.0 1738.0 296.8 C1739.2 297.6 1741.7 299.2 1741.7 299.2"/>
<path d="M30.0 1148.6 C30.0 1148.6 33.2 1150.9 34.3 1152.5 C35.4 1154.1 36.3 1156.2 36.8 1158.3 C37.3 1160.4 37.1 1165.5 37.8 1168.0 C38.5 1170.5 41.7 1174.8 41.7 1174.8"/>
<path d="M1271.6 950.7 C1271.6 950.7 1270.9 954.9 1269.9 956.8 C1268.9 958.7 1265.0 963.0 1265.0 963.0"/>
<path d="M1515.1 1186.9 C1515.1 1186.9 1518.1 1189.8 1518.3 1191.8 C1518.5 1193.8 1517.1 1195.7 1515.9 1197.3 C1514.7 1198.9 1509.2 1204.2 1507.2 1206.7 C1505.2 1209.2 1502.8 1211.6 1501.8 1214.6 C1500.8 1217.6 1500.7 1221.1 1501.1 1224.4 C1501.5 1227.7 1504.0 1233.5 1504.3 1236.8 C1504.6 1240.1 1502.4 1243.3 1502.8 1246.6 C1503.2 1249.9 1505.8 1255.7 1506.7 1259.0 C1507.6 1262.3 1508.8 1265.5 1509.2 1268.9 C1509.6 1272.3 1509.8 1283.8 1510.2 1286.1 C1510.6 1288.4 1511.8 1290.6 1513.4 1292.3 C1515.0 1294.0 1517.4 1294.9 1519.6 1296.0 C1521.8 1297.1 1526.9 1298.8 1529.4 1300.5 C1531.9 1302.2 1533.4 1305.4 1535.6 1307.1 C1537.8 1308.8 1541.1 1309.6 1543.0 1310.8 C1544.9 1312.0 1546.1 1314.0 1548.0 1315.3 C1549.9 1316.6 1553.3 1318.3 1555.4 1319.5 C1557.5 1320.7 1559.3 1322.3 1561.5 1323.2 C1563.7 1324.1 1567.7 1325.4 1570.2 1325.6 C1572.7 1325.8 1575.2 1323.8 1577.6 1324.4 C1580.0 1325.0 1583.5 1326.8 1585.0 1329.3 C1586.5 1331.8 1585.6 1335.5 1585.7 1338.0 C1585.8 1340.5 1585.0 1343.0 1585.7 1345.4 C1586.4 1347.8 1588.7 1350.2 1589.9 1351.6 C1591.1 1353.0 1594.1 1355.3 1594.1 1355.3"/>
<path d="M740.7 1918.3 C740.7 1918.3 749.2 1921.9 751.8 1923.8 C754.4 1925.7 757.4 1928.7 758.0 1931.2 C758.6 1933.7 754.9 1936.0 755.5 1938.6 C756.1 1941.2 760.8 1945.3 761.7 1947.2 C762.6 1949.1 761.8 1951.6 762.9 1953.4 C764.0 1955.2 771.8 1961.9 772.8 1965.7 C773.8 1969.5 768.7 1973.3 769.1 1976.8 C769.5 1980.3 773.7 1983.7 775.2 1985.5 C776.7 1987.3 779.3 1988.2 780.2 1990.4 C781.1 1992.6 783.9 2006.4 783.9 2006.4"/>
<path d="M738.2 1893.6 C738.2 1893.6 742.6 1894.7 743.1 1896.6 C743.6 1898.5 741.9 1905.9 741.9 1908.9 C741.9 1911.9 743.1 1917.6 743.1 1917.6"/>
<path d="M783.9 2006.4 C783.9 2006.4 785.7 2010.4 785.9 2012.6 C786.1 2014.8 785.5 2021.0 785.1 2022.5 C784.7 2024.0 782.6 2026.2 782.6 2026.2 C782.6 2026.2 787.7 2029.2 790.0 2031.1 C792.3 2033.0 795.0 2036.7 796.2 2037.3 C797.4 2037.9 799.9 2036.1 799.9 2036.1 C799.9 2036.1 801.6 2043.1 802.4 2044.7 C803.2 2046.3 806.1 2048.4 806.1 2048.4 C806.1 2048.4 797.5 2049.6 797.5 2049.6 C797.5 2049.6 801.7 2056.0 803.6 2057.0 C805.5 2058.0 807.8 2055.2 809.8 2055.8 C811.8 2056.4 814.5 2059.5 817.2 2060.8 C819.9 2062.1 822.8 2062.7 825.8 2063.2 C828.8 2063.7 834.0 2064.0 838.2 2064.0 C842.4 2064.0 850.7 2062.4 854.2 2063.2 C857.7 2064.0 860.0 2067.3 862.9 2069.4 C865.8 2071.5 870.0 2074.8 872.7 2076.3 C875.4 2077.8 878.8 2078.5 881.4 2079.8 C884.0 2081.1 888.8 2084.2 888.8 2084.2"/>
<path d="M970.0 1895.4 C970.0 1895.4 972.2 1897.6 972.5 1899.1 C972.8 1900.6 972.6 1908.3 973.0 1910.2 C973.4 1912.1 974.7 1913.8 976.2 1915.1 C977.7 1916.4 982.4 1918.5 984.8 1920.0 C987.2 1921.5 990.4 1923.7 991.7 1925.0 C993.0 1926.3 994.1 1928.1 994.2 1929.9 C994.3 1931.7 992.2 1934.9 992.2 1934.9 C992.2 1934.9 997.4 1935.9 999.6 1937.3 C1001.8 1938.7 1003.6 1942.1 1005.8 1943.5 C1008.0 1944.9 1011.2 1944.8 1013.2 1946.0 C1015.2 1947.2 1016.2 1949.5 1018.1 1950.9 C1020.0 1952.3 1024.3 1955.2 1026.8 1956.3 C1029.3 1957.4 1033.3 1957.4 1034.7 1958.3 C1036.1 1959.2 1035.6 1961.5 1036.6 1962.8 C1037.6 1964.1 1041.1 1964.8 1041.6 1966.9 C1042.1 1969.0 1038.6 1971.5 1039.1 1973.6 C1039.6 1975.7 1043.2 1977.1 1044.1 1977.6 C1045.0 1978.1 1047.0 1978.1 1047.0 1978.1 C1047.0 1978.1 1046.2 1984.0 1046.5 1985.5 C1046.8 1987.0 1048.1 1988.0 1049.0 1989.2 C1049.9 1990.4 1051.4 1992.5 1052.7 1994.1 C1054.0 1995.7 1058.3 2000.1 1060.1 2002.2 C1061.9 2004.3 1063.5 2006.6 1065.0 2008.9 C1066.5 2011.2 1069.6 2016.0 1070.0 2017.6 C1070.4 2019.2 1068.2 2020.9 1068.7 2022.5 C1069.2 2024.1 1071.6 2027.0 1073.7 2028.7 C1075.8 2030.4 1079.8 2032.2 1082.3 2033.6 C1084.8 2035.0 1088.1 2036.5 1089.7 2037.8 C1091.3 2039.1 1091.9 2041.3 1093.4 2042.7 C1094.9 2044.1 1098.3 2045.1 1099.6 2047.2 C1100.9 2049.3 1099.3 2052.6 1100.8 2054.6 C1102.3 2056.6 1107.6 2059.3 1109.5 2060.0 C1111.4 2060.7 1113.7 2059.1 1115.6 2060.0 C1117.5 2060.9 1119.5 2064.2 1121.8 2065.7 C1124.1 2067.2 1127.9 2067.6 1129.2 2068.9 C1130.5 2070.2 1129.1 2073.0 1130.5 2074.3 C1131.9 2075.6 1135.5 2075.8 1137.9 2076.8 C1140.3 2077.8 1143.7 2079.9 1146.5 2081.2 C1149.3 2082.5 1155.1 2084.7 1155.1 2084.7"/>
<path d="M1561.5 1907.7 C1561.5 1907.7 1562.1 1918.2 1562.8 1921.3 C1563.5 1924.4 1565.0 1928.0 1566.5 1929.9 C1568.0 1931.8 1571.0 1931.8 1572.6 1933.6 C1574.2 1935.4 1575.2 1939.2 1576.3 1941.0 C1577.4 1942.8 1579.7 1944.3 1580.0 1946.0 C1580.3 1947.7 1578.3 1949.2 1578.3 1950.9 C1578.3 1952.6 1579.4 1959.8 1580.0 1963.2 C1580.6 1966.6 1581.4 1970.7 1582.5 1973.1 C1583.6 1975.5 1587.5 1979.3 1587.5 1979.3 C1587.5 1979.3 1583.5 1981.5 1581.3 1981.8 C1579.1 1982.1 1573.5 1981.1 1571.4 1981.8 C1569.3 1982.5 1567.2 1984.5 1567.0 1986.7 C1566.8 1988.9 1568.7 1991.1 1570.2 1992.9 C1571.7 1994.7 1574.7 1996.8 1576.3 1997.8 C1577.9 1998.8 1580.1 1998.9 1581.3 2000.3 C1582.5 2001.7 1585.0 2004.9 1585.0 2007.7 C1585.0 2010.5 1580.8 2012.4 1581.3 2015.1 C1581.8 2017.8 1586.6 2021.0 1587.5 2022.5 C1588.4 2024.0 1589.2 2025.8 1588.7 2027.4 C1588.2 2029.0 1583.8 2034.8 1583.8 2034.8 C1583.8 2034.8 1588.0 2038.6 1589.9 2039.8 C1591.8 2041.0 1594.0 2041.9 1596.1 2042.7 C1598.2 2043.5 1601.8 2043.2 1603.5 2045.2 C1605.2 2047.2 1604.1 2052.0 1606.0 2054.6 C1607.9 2057.2 1613.3 2059.5 1615.8 2062.0 C1618.3 2064.5 1621.3 2068.6 1622.0 2070.6 C1622.7 2072.6 1620.2 2074.8 1620.8 2076.8 C1621.4 2078.8 1624.5 2080.6 1625.7 2083.0 C1626.9 2085.4 1628.7 2092.8 1628.7 2092.8"/>
<path d="M1477.6 494.3 C1477.6 494.3 1482.5 500.7 1483.8 501.7 C1485.1 502.7 1487.7 501.5 1488.7 502.9 C1489.7 504.3 1491.1 508.5 1491.2 511.5 C1491.3 514.5 1489.0 520.5 1489.5 522.6 C1490.0 524.7 1493.4 524.7 1494.9 526.3 C1496.4 527.9 1498.3 533.8 1501.1 535.0 C1503.9 536.2 1509.7 532.5 1509.7 532.5 C1509.7 532.5 1511.6 535.7 1511.7 537.5 C1511.8 539.3 1511.3 549.3 1510.9 552.3 C1510.5 555.3 1507.9 558.0 1508.5 560.9 C1509.1 563.8 1513.0 569.2 1514.6 570.8 C1516.2 572.4 1519.6 571.3 1520.8 573.2 C1522.0 575.1 1523.0 582.4 1524.5 585.6 C1526.0 588.8 1529.1 592.7 1530.7 594.2 C1532.3 595.7 1535.2 595.1 1536.8 596.7 C1538.4 598.3 1545.2 608.5 1546.7 610.3 C1548.2 612.1 1550.7 613.1 1551.7 615.2 C1552.7 617.3 1553.3 621.8 1553.6 625.1 C1553.9 628.4 1551.5 632.4 1553.6 635.0 C1555.7 637.6 1560.7 636.5 1564.0 637.9 C1567.3 639.3 1573.9 643.7 1576.3 644.8 C1578.7 645.9 1582.1 645.3 1583.8 647.3 C1585.5 649.3 1585.6 656.5 1588.7 659.6 C1591.8 662.7 1600.3 665.1 1602.3 665.8 C1604.3 666.5 1606.6 666.0 1608.4 667.0 C1610.2 668.0 1614.3 670.3 1615.8 673.2 C1617.3 676.1 1617.4 683.4 1618.3 686.8 C1619.2 690.2 1621.1 693.3 1622.0 696.7 C1622.9 700.1 1623.5 707.2 1624.5 710.0 C1625.5 712.8 1627.3 715.3 1629.4 717.4 C1631.5 719.5 1636.1 721.2 1638.1 723.6 C1640.1 726.0 1641.6 729.6 1641.8 732.2 C1642.0 734.8 1640.8 737.4 1639.3 739.6 C1637.8 741.8 1625.0 757.5 1622.0 761.8 C1619.0 766.1 1617.0 771.2 1614.6 775.4 C1612.2 779.6 1608.4 785.1 1607.2 787.8 C1606.0 790.5 1605.5 793.5 1605.5 796.4 C1605.5 799.3 1608.1 804.6 1607.2 808.7 C1606.3 812.8 1601.3 816.5 1599.8 821.1 C1598.3 825.7 1599.3 832.0 1598.6 835.9 C1597.9 839.8 1596.7 843.5 1594.9 847.0 C1593.1 850.5 1587.5 857.0 1585.0 861.8 C1582.5 866.6 1579.5 875.3 1577.6 880.3 C1575.7 885.3 1572.9 892.4 1571.4 897.6 C1569.9 902.8 1567.7 913.7 1567.7 913.7"/>
<path d="M525.9 1561.4 C525.9 1561.4 530.5 1558.2 532.1 1556.4 C533.7 1554.6 535.8 1552.5 535.8 1550.3 C535.8 1548.1 532.3 1546.5 532.1 1544.8 C531.9 1543.1 533.4 1541.6 534.6 1540.4 C535.8 1539.2 538.1 1538.9 539.5 1537.9 C540.9 1536.9 541.5 1534.7 543.2 1534.2 C544.9 1533.7 550.9 1533.2 553.1 1534.2 C555.3 1535.2 556.0 1539.1 556.8 1540.4 C557.6 1541.7 558.5 1542.8 559.2 1544.1 C559.9 1545.4 560.4 1547.7 561.7 1549.0 C563.0 1550.3 568.2 1553.3 570.4 1555.2 C572.6 1557.1 573.8 1560.2 576.5 1561.4 C579.2 1562.6 586.7 1562.5 587.6 1562.6 C588.5 1562.7 589.3 1563.4 590.1 1563.1 C590.9 1562.8 596.2 1560.2 598.7 1558.9 C601.2 1557.6 605.0 1555.5 606.1 1554.7 C607.2 1553.9 608.3 1552.8 608.6 1551.5 C608.9 1550.2 608.1 1544.6 609.1 1542.9 C610.1 1541.2 613.1 1542.6 614.8 1541.6 C616.5 1540.6 620.2 1536.3 621.0 1535.5 C621.8 1534.7 622.3 1533.4 623.4 1533.0 C624.5 1532.6 627.7 1533.4 629.6 1532.5 C631.5 1531.6 635.2 1526.0 638.2 1525.6 C641.2 1525.2 644.1 1528.8 645.6 1530.5 C647.1 1532.2 646.8 1534.9 648.1 1536.7 C649.4 1538.5 651.5 1539.4 653.0 1540.9 C654.5 1542.4 656.0 1545.0 658.0 1546.6 C660.0 1548.2 666.4 1552.4 667.9 1553.2 C669.4 1554.0 671.2 1554.0 672.8 1554.7 C674.4 1555.4 679.4 1558.6 681.4 1559.7 C683.4 1560.8 686.3 1562.4 687.6 1562.6 C688.9 1562.8 690.0 1561.5 691.3 1561.4 C692.6 1561.3 693.7 1562.3 695.0 1562.1 C696.3 1561.9 700.0 1560.2 702.4 1559.7 C704.8 1559.2 707.7 1558.2 709.8 1558.9 C711.9 1559.6 713.1 1561.9 714.3 1563.8 C715.5 1565.7 716.5 1568.7 717.2 1570.0 C717.9 1571.3 719.6 1572.2 719.7 1573.7 C719.8 1575.2 717.7 1580.6 717.7 1582.4 C717.7 1584.2 718.8 1585.7 719.7 1587.3 C720.6 1588.9 722.9 1592.2 724.6 1594.7 C726.3 1597.2 729.1 1600.2 730.8 1603.3 C732.5 1606.4 734.3 1611.6 735.7 1615.7 C737.1 1619.8 738.1 1624.9 739.4 1628.0 C740.7 1631.1 742.8 1634.2 744.4 1636.7 C746.0 1639.2 748.3 1642.2 749.3 1644.1 C750.3 1646.0 751.1 1648.0 751.8 1650.0 C752.5 1652.0 753.7 1654.7 753.8 1657.2 C753.9 1659.7 752.3 1670.6 752.3 1672.0 C752.3 1673.4 754.1 1674.3 754.3 1675.7 C754.5 1677.1 755.7 1692.6 756.2 1694.2 C756.7 1695.8 758.8 1696.4 760.4 1697.1 C762.0 1697.8 765.9 1698.2 767.8 1699.1 C769.7 1700.0 770.7 1702.4 772.8 1702.8 C774.9 1703.2 785.2 1702.0 787.6 1702.8 C790.0 1703.6 790.6 1707.0 791.8 1709.0 C793.0 1711.0 794.5 1712.9 795.0 1715.2 C795.5 1717.5 794.8 1723.7 796.2 1727.5 C797.6 1731.3 802.1 1734.7 803.1 1737.4 C804.1 1740.1 802.6 1743.1 803.1 1746.0 C803.6 1748.9 803.6 1753.6 806.1 1755.9 C808.6 1758.2 814.0 1757.1 816.0 1757.9 C818.0 1758.7 819.3 1761.2 820.9 1762.1 C822.5 1763.0 825.4 1761.7 826.3 1763.3 C827.2 1764.9 829.0 1776.3 829.5 1778.1 C830.0 1779.9 830.7 1781.7 832.0 1783.0 C833.3 1784.3 837.5 1785.6 838.2 1786.7 C838.9 1787.8 836.9 1790.5 836.9 1790.5 C836.9 1790.5 845.5 1794.0 848.1 1794.2 C850.7 1794.4 852.9 1792.1 855.5 1791.7 C858.1 1791.3 861.7 1791.0 864.1 1791.7 C866.5 1792.4 868.0 1794.9 870.3 1795.9 C872.6 1796.9 876.6 1796.9 878.9 1797.9 C881.2 1798.9 882.7 1801.6 885.1 1802.3 C887.5 1803.0 891.0 1801.4 893.7 1802.3 C896.4 1803.2 901.4 1806.7 904.8 1809.0 C908.2 1811.3 911.2 1814.2 914.7 1816.4 C918.2 1818.6 925.8 1822.0 928.3 1823.8 C930.8 1825.6 932.2 1828.4 934.5 1830.4 C936.8 1832.4 944.2 1836.7 946.8 1839.8 C949.4 1842.9 950.1 1847.2 951.7 1850.9 C953.3 1854.6 957.9 1864.6 958.6 1867.0 C959.3 1869.4 957.6 1872.8 958.6 1874.4 C959.6 1876.0 962.6 1874.4 964.1 1875.6 C965.6 1876.8 967.0 1879.5 967.8 1881.8 C968.6 1884.1 970.0 1892.9 970.0 1892.9"/>
<path d="M744.4 1114.8 C744.4 1114.8 753.5 1117.0 756.7 1118.5 C759.9 1120.0 762.7 1123.3 765.4 1124.7 C768.1 1126.1 771.3 1125.8 774.0 1127.2 C776.7 1128.6 780.4 1132.4 783.9 1134.6 C787.4 1136.8 793.8 1139.8 796.2 1140.8 C798.6 1141.8 802.1 1141.1 803.6 1143.2 C805.1 1145.3 802.3 1149.6 804.1 1151.9 C805.9 1154.2 811.0 1154.6 813.5 1155.6 C816.0 1156.6 818.3 1158.1 820.9 1158.8 C823.5 1159.5 827.7 1159.2 830.8 1160.5 C833.9 1161.8 837.6 1163.6 839.4 1166.7 C841.2 1169.8 840.1 1176.4 841.9 1180.0 C843.7 1183.6 848.9 1186.0 850.5 1188.6 C852.1 1191.2 850.6 1195.5 853.0 1197.3 C855.4 1199.1 861.3 1198.3 865.3 1199.7 C869.3 1201.1 875.3 1204.2 880.1 1206.7 C884.9 1209.2 895.1 1215.1 898.7 1217.0 C902.3 1218.9 906.5 1220.5 909.8 1222.0 C913.1 1223.5 916.7 1225.8 919.6 1226.4 C922.5 1227.0 925.6 1224.5 928.3 1225.7 C931.0 1226.9 932.8 1231.1 934.5 1233.1 C936.2 1235.1 938.6 1236.7 939.4 1239.2 C940.2 1241.7 938.8 1245.0 939.4 1247.9 C940.0 1250.8 943.1 1259.1 944.3 1261.5 C945.5 1263.9 948.1 1265.7 949.3 1267.6 C950.5 1269.5 949.8 1272.6 951.7 1273.8 C953.6 1275.0 956.8 1273.0 959.1 1273.8 C961.4 1274.6 963.9 1277.9 965.3 1278.7 C966.7 1279.5 968.4 1279.7 970.0 1280.0 C971.6 1280.3 975.3 1279.6 976.9 1280.7 C978.5 1281.8 978.1 1284.3 978.6 1286.1 C979.1 1287.9 981.1 1292.2 981.1 1294.8 C981.1 1297.4 979.0 1299.6 978.6 1302.2 C978.2 1304.8 978.4 1310.3 977.9 1313.3 C977.4 1316.3 976.1 1319.8 975.4 1321.9 C974.7 1324.0 973.1 1325.9 973.0 1328.1 C972.9 1330.3 974.0 1334.7 974.4 1338.0 C974.8 1341.3 976.1 1351.1 976.2 1355.3 C976.3 1359.5 975.5 1364.2 974.9 1367.6 C974.3 1371.0 972.8 1375.0 972.5 1377.5 C972.2 1380.0 973.4 1382.4 973.0 1384.9 C972.6 1387.4 970.6 1389.7 970.0 1392.3 C969.4 1394.9 968.9 1402.8 967.8 1407.1 C966.7 1411.4 963.4 1415.3 962.8 1419.4 C962.2 1423.5 964.6 1429.5 964.1 1431.8 C963.6 1434.1 960.4 1434.7 959.1 1436.7 C957.8 1438.7 956.2 1443.7 954.2 1446.6 C952.2 1449.5 948.8 1451.1 946.8 1454.0 C944.8 1456.9 943.6 1461.5 941.9 1463.9 C940.2 1466.3 937.5 1467.7 935.7 1470.0 C933.9 1472.3 932.4 1476.9 930.8 1478.7 C929.2 1480.5 926.5 1481.0 924.6 1482.4 C922.7 1483.8 921.6 1486.1 919.6 1487.3 C917.6 1488.5 913.4 1489.1 911.0 1490.5 C908.6 1491.9 905.6 1495.0 904.8 1496.0 C904.0 1497.0 904.6 1498.8 903.6 1499.7 C902.6 1500.6 899.6 1502.2 897.4 1502.9 C895.2 1503.6 885.8 1504.9 883.8 1505.8 C881.8 1506.7 880.3 1508.7 879.7 1510.8 C879.1 1512.9 879.9 1519.3 879.7 1520.7 C879.5 1522.1 879.0 1523.7 877.7 1524.4 C876.4 1525.1 872.8 1525.8 870.3 1525.6 C867.8 1525.4 864.7 1524.4 862.9 1523.1 C861.1 1521.8 860.2 1518.4 859.2 1517.7 C858.2 1517.0 856.7 1517.6 855.5 1517.7 C854.3 1517.8 850.6 1518.7 848.1 1518.7 C845.6 1518.7 842.6 1516.9 840.7 1517.7 C838.8 1518.5 838.3 1521.1 837.7 1523.1 C837.1 1525.1 836.9 1531.4 836.2 1533.0 C835.5 1534.6 833.7 1535.6 832.0 1536.0 C830.3 1536.4 826.1 1536.6 824.6 1536.0 C823.1 1535.4 822.7 1533.3 822.1 1531.8 C821.5 1530.3 820.5 1526.0 819.7 1523.1 C818.9 1520.2 817.9 1515.7 817.2 1514.5 C816.5 1513.3 814.6 1513.6 813.5 1512.8 C812.4 1512.0 811.5 1509.6 809.8 1508.8 C808.1 1508.0 803.5 1508.8 801.6 1507.1 C799.7 1505.4 801.4 1501.7 799.9 1499.7 C798.4 1497.7 792.8 1495.2 791.3 1493.5 C789.8 1491.8 789.7 1489.4 788.8 1487.3 C787.9 1485.2 786.3 1483.2 785.9 1481.2 C785.5 1479.2 786.9 1477.0 786.3 1475.0 C785.7 1473.0 783.6 1471.8 782.6 1470.0 C781.6 1468.2 781.1 1465.3 780.2 1464.4 C779.3 1463.5 777.7 1463.0 776.5 1463.4 C775.3 1463.8 772.4 1466.2 770.3 1467.6 C768.2 1469.0 766.5 1471.2 764.1 1471.8 C761.7 1472.4 757.1 1473.0 754.3 1471.8 C751.5 1470.6 749.9 1467.1 748.1 1465.1 C746.3 1463.1 744.6 1460.6 743.1 1458.9 C741.6 1457.2 740.3 1454.9 738.2 1454.0 C736.1 1453.1 732.9 1454.4 730.8 1453.5 C728.7 1452.6 728.2 1449.1 725.9 1448.6 C723.6 1448.1 718.3 1449.2 714.8 1450.3 C711.3 1451.4 707.3 1453.5 704.9 1455.2 C702.5 1456.9 700.1 1459.2 698.7 1461.4 C697.3 1463.6 697.0 1467.7 696.2 1468.8 C695.4 1469.9 693.8 1470.3 692.5 1470.0 C691.2 1469.7 685.5 1465.8 682.7 1465.1 C679.9 1464.4 674.0 1465.1 674.0 1465.1 C674.0 1465.1 673.8 1458.6 672.8 1456.5 C671.8 1454.4 669.0 1453.0 667.9 1451.5 C666.8 1450.0 666.3 1447.5 665.4 1446.6 C664.5 1445.7 662.5 1446.4 661.7 1445.4 C660.9 1444.4 661.7 1441.6 660.5 1440.4 C659.3 1439.2 652.5 1435.7 650.6 1434.3 C648.7 1432.9 647.0 1431.2 645.6 1429.3 C644.2 1427.4 641.9 1422.0 639.5 1419.4 C637.1 1416.8 633.0 1415.6 630.8 1413.3 C628.6 1411.0 627.6 1407.0 625.9 1405.1 C624.2 1403.2 621.1 1402.1 619.7 1400.9 C618.3 1399.7 617.3 1398.0 616.0 1396.7 C614.7 1395.4 611.3 1391.9 608.6 1389.8 C605.9 1387.7 602.1 1383.7 598.7 1382.9 C595.3 1382.1 589.7 1385.1 588.4 1384.9 C587.1 1384.7 587.8 1382.2 586.9 1381.2 C586.0 1380.2 583.8 1379.9 582.7 1378.7 C581.6 1377.5 579.5 1373.8 577.8 1371.3 C576.1 1368.8 575.2 1365.7 572.8 1363.9 C570.4 1362.1 565.1 1361.7 562.9 1360.2 C560.7 1358.7 559.9 1355.8 558.0 1354.0 C556.1 1352.2 552.4 1351.3 551.3 1349.1 C550.2 1346.9 552.3 1343.7 551.8 1341.7 C551.3 1339.7 549.7 1338.1 548.1 1336.7 C546.5 1335.3 542.0 1333.0 542.0 1333.0"/>
<path d="M212.7 1212.7 C212.7 1212.7 216.1 1218.9 216.6 1221.5 C217.1 1224.1 214.7 1226.8 215.6 1229.2 C216.5 1231.6 219.3 1232.7 221.4 1234.1 C223.5 1235.5 230.1 1238.2 232.1 1239.9 C234.1 1241.6 234.5 1244.6 236.0 1246.7 C237.5 1248.8 241.8 1253.5 241.8 1253.5 C241.8 1253.5 237.5 1257.3 236.0 1258.4 C234.5 1259.5 231.6 1259.5 231.1 1261.3 C230.6 1263.1 231.8 1266.9 233.1 1269.1 C234.4 1271.3 237.2 1272.0 238.9 1273.9 C240.6 1275.8 242.9 1280.4 245.7 1282.7 C248.5 1285.0 253.5 1286.2 255.4 1287.5 C257.3 1288.8 259.6 1290.5 260.3 1292.4 C261.0 1294.3 258.9 1296.3 259.3 1298.2 C259.7 1300.1 261.7 1303.6 263.2 1306.0 C264.7 1308.4 267.5 1311.3 268.1 1312.8 C268.7 1314.3 267.0 1316.5 268.1 1317.6 C269.2 1318.7 274.8 1322.0 277.8 1322.5 C280.8 1323.0 283.5 1320.7 286.5 1320.6 C289.5 1320.5 306.9 1321.8 309.8 1321.5 C312.7 1321.2 314.8 1317.8 317.6 1317.6 C320.4 1317.4 322.6 1320.3 325.4 1320.6 C328.2 1320.9 332.9 1318.8 335.1 1319.6 C337.3 1320.4 336.9 1324.4 339.0 1325.4 C341.1 1326.4 352.0 1328.6 356.5 1329.3 C361.0 1330.0 368.4 1330.4 370.1 1330.3 C371.8 1330.2 373.2 1327.8 374.9 1328.3 C376.6 1328.8 388.9 1334.1 391.4 1336.1 C393.9 1338.1 393.9 1342.2 395.3 1344.9 C396.7 1347.6 398.7 1349.9 400.0 1352.7 C401.3 1355.5 403.0 1362.0 405.2 1366.4 C407.4 1370.8 411.5 1375.9 413.8 1379.9 C416.1 1383.9 417.4 1388.5 420.0 1392.3 C422.6 1396.1 429.9 1403.4 429.9 1403.4"/>
<path d="M1267.5 879.1 C1267.5 879.1 1272.9 880.8 1274.9 882.8 C1276.9 884.8 1279.4 889.5 1281.0 892.7 C1282.6 895.9 1283.8 900.6 1284.7 902.5 C1285.6 904.4 1287.5 905.6 1288.4 907.5 C1289.3 909.4 1289.8 912.5 1290.9 914.9 C1292.0 917.3 1296.1 924.8 1298.3 929.7 C1300.5 934.6 1304.5 945.3 1305.7 948.2 C1306.9 951.1 1308.5 953.8 1309.4 956.8 C1310.3 959.8 1312.8 970.4 1313.1 972.9 C1313.4 975.4 1311.4 977.8 1311.9 980.3 C1312.4 982.8 1315.5 987.5 1316.8 991.4 C1318.1 995.3 1319.2 1002.7 1320.5 1005.0 C1321.8 1007.3 1324.4 1008.6 1326.7 1009.9 C1329.0 1011.2 1333.0 1012.2 1335.3 1013.6 C1337.6 1015.0 1339.1 1017.3 1341.5 1018.6 C1343.9 1019.9 1350.6 1021.8 1353.8 1023.5 C1357.0 1025.2 1360.2 1028.8 1362.5 1029.7 C1364.8 1030.6 1367.4 1029.3 1369.9 1029.7 C1372.4 1030.1 1375.5 1031.9 1378.5 1032.1 C1381.5 1032.3 1385.9 1031.2 1389.6 1030.9 C1393.3 1030.6 1406.2 1029.1 1409.4 1029.7 C1412.6 1030.3 1413.9 1034.4 1416.8 1035.8 C1419.7 1037.2 1423.4 1037.3 1426.7 1038.3 C1430.0 1039.3 1438.6 1042.6 1440.0 1043.0 C1441.4 1043.4 1443.2 1043.8 1444.3 1042.8 C1445.4 1041.8 1447.2 1037.1 1449.2 1034.6 C1451.2 1032.1 1456.4 1029.8 1457.9 1026.0 C1459.4 1022.2 1458.0 1017.4 1457.4 1013.6 C1456.8 1009.8 1454.4 1006.4 1454.2 1002.5 C1454.0 998.6 1455.1 990.0 1455.9 986.5 C1456.7 983.0 1459.1 979.1 1460.3 976.6 C1461.5 974.1 1463.4 971.9 1464.0 969.2 C1464.6 966.5 1464.0 960.6 1464.0 960.6"/>
<path d="M1084.0 1936.1 C1084.0 1936.1 1089.0 1939.3 1091.0 1941.5 C1093.0 1943.7 1093.9 1947.2 1095.9 1949.7 C1097.9 1952.2 1100.8 1956.5 1104.5 1958.3 C1108.2 1960.1 1114.7 1959.9 1118.1 1960.8 C1121.5 1961.7 1124.6 1963.5 1128.0 1964.5 C1131.4 1965.5 1139.9 1967.5 1142.8 1968.2 C1145.7 1968.9 1148.7 1968.9 1151.4 1970.2 C1154.1 1971.5 1160.2 1977.0 1163.8 1978.1 C1167.4 1979.2 1173.0 1977.3 1174.9 1977.6 C1176.8 1977.9 1178.1 1980.2 1179.8 1980.5 C1181.5 1980.8 1183.1 1979.2 1184.8 1979.3 C1186.5 1979.4 1195.7 1980.7 1198.3 1981.8 C1200.9 1982.9 1202.6 1986.3 1204.5 1987.4 C1206.4 1988.5 1208.9 1989.2 1210.7 1989.2 C1212.5 1989.2 1213.9 1986.9 1215.6 1987.4 C1217.3 1987.9 1221.7 1991.4 1224.3 1993.4 C1226.9 1995.4 1229.4 1998.7 1231.7 1999.8 C1234.0 2000.9 1236.8 1999.4 1239.1 2000.3 C1241.4 2001.2 1251.6 2007.3 1253.9 2008.2 C1256.2 2009.1 1258.9 2008.4 1261.3 2008.9 C1263.7 2009.4 1266.9 2011.6 1269.9 2011.4 C1272.9 2011.2 1276.9 2008.0 1278.6 2007.7 C1280.3 2007.4 1281.9 2008.2 1283.5 2008.9 C1285.1 2009.6 1288.2 2012.2 1290.9 2013.1 C1293.6 2014.0 1300.4 2014.6 1303.2 2015.6 C1306.0 2016.6 1309.4 2019.6 1310.7 2020.0 C1312.0 2020.4 1313.2 2018.3 1314.4 2018.8 C1315.6 2019.3 1324.5 2025.3 1325.5 2026.2 C1326.5 2027.1 1325.5 2029.4 1326.7 2029.9 C1327.9 2030.4 1332.5 2029.7 1335.3 2030.4 C1338.1 2031.1 1347.8 2035.8 1350.1 2036.1 C1352.4 2036.4 1354.0 2032.9 1356.3 2032.9 C1358.6 2032.9 1360.3 2035.4 1362.5 2036.1 C1364.7 2036.8 1370.0 2036.9 1371.1 2037.3 C1372.2 2037.7 1372.4 2040.0 1373.6 2039.8 C1374.8 2039.6 1377.1 2035.7 1379.3 2036.1 C1381.5 2036.5 1386.0 2041.5 1389.6 2042.7 C1393.2 2043.9 1397.6 2042.6 1400.8 2043.5 C1404.0 2044.4 1407.3 2047.3 1409.4 2048.4 C1411.5 2049.5 1414.2 2051.4 1415.6 2051.6 C1417.0 2051.8 1417.9 2049.6 1419.3 2049.6 C1420.7 2049.6 1423.2 2051.7 1425.4 2051.6 C1427.6 2051.5 1432.1 2049.7 1434.1 2049.1 C1436.1 2048.5 1438.1 2046.4 1440.0 2047.2 C1441.9 2047.9 1441.8 2052.8 1444.3 2053.3 C1446.8 2053.8 1453.3 2050.3 1457.9 2050.9 C1462.5 2051.5 1469.8 2056.4 1472.7 2057.0 C1475.6 2057.6 1478.6 2054.7 1481.3 2055.8 C1484.0 2056.9 1484.7 2061.5 1487.5 2063.2 C1490.3 2064.9 1494.1 2064.7 1497.4 2065.7 C1500.7 2066.7 1506.7 2069.2 1508.5 2069.4 C1510.3 2069.6 1511.6 2067.2 1513.4 2067.4 C1515.2 2067.6 1517.7 2070.8 1519.6 2070.6 C1521.5 2070.4 1521.4 2066.6 1523.3 2066.4 C1525.2 2066.2 1530.9 2069.3 1533.1 2069.4 C1535.3 2069.5 1537.1 2067.3 1539.3 2067.4 C1541.5 2067.5 1543.3 2070.1 1545.5 2069.9 C1547.7 2069.7 1549.8 2067.9 1551.7 2066.4 C1553.6 2064.9 1555.3 2061.5 1557.8 2060.0 C1560.3 2058.5 1568.7 2056.2 1570.2 2055.1 C1571.7 2054.0 1570.0 2050.9 1571.4 2049.6 C1572.8 2048.3 1576.0 2049.8 1577.6 2048.4 C1579.2 2047.0 1579.7 2043.2 1581.3 2041.0 C1582.9 2038.8 1587.5 2034.8 1587.5 2034.8"/>
<path d="M1115.6 240.0 C1115.6 240.0 1114.7 241.6 1114.4 242.5 C1114.1 243.4 1112.8 249.0 1111.9 252.3 C1111.0 255.6 1109.1 262.4 1108.2 264.7 C1107.3 267.0 1105.0 268.5 1104.5 270.9 C1104.0 273.3 1104.8 278.5 1104.5 280.7 C1104.2 282.9 1102.3 284.7 1102.1 286.9 C1101.9 289.1 1103.9 294.5 1103.3 296.8 C1102.7 299.1 1100.2 300.2 1098.4 301.7 C1096.6 303.2 1091.5 304.8 1089.7 307.9 C1087.9 311.0 1088.9 316.3 1088.0 319.0 C1087.1 321.7 1085.0 323.9 1083.6 326.4 C1082.2 328.9 1079.9 334.4 1078.6 336.3 C1077.3 338.2 1074.2 338.9 1073.7 341.2 C1073.2 343.5 1074.4 356.6 1073.7 361.0 C1073.0 365.4 1068.5 370.1 1068.7 373.3 C1068.9 376.5 1073.5 377.8 1074.9 380.7 C1076.3 383.6 1075.5 388.8 1077.4 391.8 C1079.3 394.8 1083.9 395.1 1086.0 398.0 C1088.1 400.9 1088.6 407.0 1089.7 409.1 C1090.8 411.2 1093.9 411.8 1094.7 414.0 C1095.5 416.2 1095.2 421.4 1095.4 423.9 C1095.6 426.4 1096.5 428.8 1096.4 431.3 C1096.3 433.8 1096.1 438.1 1094.7 441.2 C1093.3 444.3 1087.4 452.9 1086.0 454.8 C1084.6 456.7 1081.8 457.5 1081.1 459.7 C1080.4 461.9 1081.6 468.3 1080.6 472.0 C1079.6 475.7 1075.6 478.1 1074.9 481.9 C1074.2 485.7 1075.7 491.7 1076.1 496.7 C1076.5 501.7 1077.1 506.5 1077.4 511.5 C1077.7 516.5 1077.5 526.0 1078.1 528.8 C1078.7 531.6 1080.5 533.9 1082.3 536.2 C1084.1 538.5 1086.5 542.1 1089.7 543.6 C1092.9 545.1 1101.2 545.9 1103.3 546.1 C1105.4 546.3 1107.7 544.9 1109.5 545.6 C1111.3 546.3 1111.6 548.8 1113.2 549.8 C1114.8 550.8 1118.0 551.8 1120.6 552.3 C1123.2 552.8 1126.3 552.8 1129.2 553.0 C1132.1 553.2 1137.1 552.1 1140.3 554.0 C1143.5 555.9 1146.2 562.7 1150.2 565.8 C1154.2 568.9 1161.6 570.3 1163.8 572.0 C1166.0 573.7 1165.2 577.8 1167.5 579.4 C1169.8 581.0 1173.4 579.6 1176.1 580.7 C1178.8 581.8 1183.1 585.6 1184.8 586.8 C1186.5 588.0 1187.7 589.8 1189.7 590.5 C1191.7 591.2 1196.7 590.0 1199.6 591.8 C1202.5 593.6 1204.8 597.0 1205.7 600.4 C1206.6 603.8 1204.6 612.7 1205.7 616.4 C1206.8 620.1 1211.7 622.1 1213.1 625.1 C1214.5 628.1 1212.7 632.1 1214.4 635.0 C1216.1 637.9 1221.6 640.1 1224.3 643.6 C1227.0 647.1 1232.0 657.7 1234.1 660.9 C1236.2 664.1 1239.3 666.7 1241.5 669.5 C1243.7 672.3 1245.9 675.1 1247.7 678.2 C1249.5 681.3 1251.2 687.5 1253.9 691.7 C1256.6 695.9 1262.1 700.6 1263.8 702.8 C1265.5 705.0 1267.0 707.8 1268.1 710.0 C1269.2 712.2 1270.7 716.9 1270.7 716.9"/>
<path d="M30.0 689.8 C30.0 689.8 33.0 690.9 34.4 691.7 C35.8 692.5 43.4 697.7 47.3 699.1 C51.2 700.5 56.6 700.6 59.6 700.4 C62.6 700.2 66.5 699.3 68.3 697.9 C70.1 696.5 70.7 691.7 70.7 691.7 C70.7 691.7 78.5 694.6 81.8 695.4 C85.1 696.2 89.8 695.8 91.7 696.7 C93.6 697.6 93.4 701.1 95.4 701.6 C97.4 702.1 103.0 700.0 106.5 700.4 C110.0 700.8 113.8 703.0 116.4 704.1 C119.0 705.2 121.0 707.5 123.8 707.8 C126.6 708.1 134.0 708.4 138.6 706.5 C143.2 704.6 147.2 698.4 151.0 696.7 C154.8 695.0 160.6 696.7 163.3 695.4 C166.0 694.1 168.2 688.0 168.2 688.0 C168.2 688.0 169.9 692.8 171.9 694.2 C173.9 695.6 177.8 698.0 180.6 696.7 C183.4 695.4 188.0 686.8 188.0 686.8 C188.0 686.8 192.9 696.7 192.9 696.7 C192.9 696.7 199.1 688.7 202.8 688.0 C206.5 687.3 209.0 692.8 212.7 693.0 C216.4 693.2 221.6 689.5 225.0 689.3 C228.4 689.1 231.5 692.4 234.9 691.7 C238.3 691.0 240.8 686.8 243.5 685.6 C246.2 684.4 249.7 684.9 252.2 684.3 C254.7 683.7 257.6 683.5 259.6 681.9 C261.6 680.3 261.7 675.5 264.5 674.5 C267.3 673.5 271.8 677.5 274.4 676.9 C277.0 676.3 278.0 673.1 279.3 670.8 C280.6 668.5 282.9 662.2 284.3 659.6 C285.7 657.0 286.9 654.1 289.2 652.2 C291.5 650.3 301.0 647.2 304.0 643.6 C307.0 640.0 306.9 632.3 307.7 630.0 C308.5 627.7 309.3 624.9 311.4 623.8 C313.5 622.7 322.3 621.4 326.2 620.1 C330.1 618.8 335.5 617.0 337.3 615.2 C339.1 613.4 338.6 610.3 338.6 607.8 C338.6 605.3 336.4 600.7 337.3 597.9 C338.2 595.1 341.9 594.0 343.5 591.8 C345.1 589.6 344.8 585.8 347.2 584.4 C349.6 583.0 356.7 584.1 360.8 581.9 C364.9 579.7 370.0 573.7 371.9 570.8 C373.8 567.9 372.2 563.5 374.4 560.9 C376.6 558.3 381.3 555.2 385.5 554.7 C389.7 554.2 394.1 556.2 397.8 558.4 C401.5 560.6 403.1 567.6 407.7 567.8 C412.3 568.0 419.3 562.6 422.5 559.7 C425.7 556.8 426.3 551.6 428.7 548.6 C431.1 545.6 433.6 542.2 437.3 541.2 C441.0 540.2 456.2 541.3 459.5 539.9 C462.8 538.5 463.2 530.0 463.2 530.0 C463.2 530.0 475.6 533.8 475.6 533.8 C475.6 533.8 481.7 518.9 481.7 518.9 C481.7 518.9 491.6 526.3 491.6 526.3 C491.6 526.3 497.5 517.3 500.0 515.9 C502.5 514.4 506.0 517.0 508.6 516.0 C511.2 515.0 512.9 511.8 514.8 510.3 C516.7 508.8 519.7 506.9 521.0 506.6 C522.3 506.3 523.4 508.1 524.7 507.8 C526.0 507.5 530.2 506.2 532.1 504.1 C534.0 502.0 536.1 495.5 537.0 494.3 C537.9 493.1 540.7 491.8 540.7 491.8 C540.7 491.8 544.4 499.2 544.4 499.2 C544.4 499.2 550.7 496.7 553.1 494.3 C555.5 491.9 559.2 484.4 559.2 484.4 C559.2 484.4 565.4 491.3 565.4 491.3 C565.4 491.3 568.1 482.3 569.1 480.7 C570.1 479.1 574.1 478.2 574.1 478.2 C574.1 478.2 570.4 472.0 570.4 472.0 C570.4 472.0 575.7 467.8 579.0 467.1 C582.3 466.4 587.1 467.9 588.9 468.3 C590.7 468.7 593.8 470.8 593.8 470.8 C593.8 470.8 595.8 462.9 595.0 460.9 C594.2 458.9 588.9 458.5 588.9 458.5 C588.9 458.5 592.6 452.3 592.6 452.3 C592.6 452.3 597.6 458.5 601.2 458.5 C604.8 458.5 608.3 454.3 609.8 452.3 C611.3 450.3 611.1 447.0 611.1 444.9 C611.1 442.8 609.8 438.7 609.8 438.7 C609.8 438.7 616.5 440.9 619.7 439.9 C622.9 438.9 629.4 433.4 633.3 431.3 C637.2 429.2 643.6 428.1 645.6 426.4 C647.6 424.7 646.6 420.7 648.1 419.0 C649.6 417.3 654.3 416.5 654.3 416.5"/>
<path d="M701.2 611.5 C701.2 611.5 695.9 611.4 693.8 612.7 C691.7 614.0 689.2 618.3 687.6 620.1 C686.0 621.9 682.7 625.1 682.7 625.1 C682.7 625.1 688.9 625.2 690.1 627.6 C691.3 630.0 690.7 635.1 688.8 637.4 C686.9 639.7 680.2 639.9 680.2 639.9 C680.2 639.9 680.1 645.1 681.4 647.3 C682.7 649.5 686.8 650.7 687.6 652.2 C688.4 653.7 687.6 656.0 686.4 657.2 C685.2 658.4 680.2 659.6 680.2 659.6 C680.2 659.6 683.7 663.4 683.9 665.8 C684.1 668.2 680.9 670.6 681.4 673.2 C681.9 675.8 685.5 680.6 687.6 684.3 C689.7 688.0 693.5 692.5 695.0 696.7 C696.5 700.9 696.4 707.9 696.9 710.0 C697.3 712.1 697.9 714.2 698.7 716.2 C699.5 718.2 702.1 720.9 701.9 723.6 C701.7 726.3 697.6 733.3 697.5 734.7 C697.4 736.1 700.4 736.2 700.4 737.6 C700.4 739.0 697.8 740.3 697.5 742.1 C697.2 743.9 698.7 749.5 698.7 749.5 C698.7 749.5 689.9 751.4 688.8 752.0 C687.7 752.6 687.2 754.4 687.6 755.7 C688.0 757.0 691.3 760.6 691.3 760.6 C691.3 760.6 689.2 763.5 687.6 763.8 C686.0 764.1 677.9 763.3 676.5 763.8 C675.1 764.3 674.7 766.6 675.3 768.0 C675.9 769.4 680.2 772.9 680.2 772.9 C680.2 772.9 675.1 778.2 674.0 781.6 C672.9 785.0 674.5 790.3 674.0 792.7 C673.5 795.1 670.5 797.4 670.3 798.9 C670.1 800.4 672.8 801.1 672.8 802.6 C672.8 804.1 671.4 806.0 670.3 807.5 C669.2 809.0 664.2 813.7 664.2 813.7 C664.2 813.7 668.1 815.7 667.9 817.4 C667.7 819.1 663.7 824.0 662.9 826.0 C662.1 828.0 661.5 830.7 661.7 832.2 C661.9 833.7 664.0 834.4 664.2 835.9 C664.4 837.4 662.4 839.2 662.9 840.8 C663.4 842.4 665.8 845.3 667.9 847.0 C670.0 848.7 677.1 851.2 679.0 853.7 C680.9 856.2 679.9 861.3 680.2 863.0 C680.5 864.7 682.2 866.5 681.4 868.0 C680.6 869.5 676.5 870.5 676.5 870.5 C676.5 870.5 682.0 870.0 683.9 871.7 C685.8 873.4 687.6 879.3 690.1 882.8 C692.6 886.3 698.8 891.1 699.9 893.9 C701.0 896.7 696.8 899.6 697.5 902.5 C698.2 905.4 703.2 911.7 704.9 914.9 C706.6 918.1 709.3 924.8 709.3 924.8 C709.3 924.8 703.7 926.0 703.7 926.0 C703.7 926.0 707.1 930.7 706.9 933.4 C706.7 936.1 703.7 945.9 702.4 949.4 C701.1 952.9 698.4 956.9 697.5 959.3 C696.6 961.7 696.2 966.7 696.2 966.7 C696.2 966.7 688.8 964.7 688.8 964.7 C688.8 964.7 691.5 969.3 692.5 971.7 C693.5 974.1 694.0 976.7 695.0 979.1 C696.0 981.5 699.6 987.6 699.9 988.9 C700.2 990.2 698.2 991.4 698.7 992.6 C699.2 993.8 702.6 995.5 703.7 997.6 C704.8 999.7 706.3 1002.6 705.4 1005.0 C704.5 1007.4 698.7 1011.2 698.7 1011.2 C698.7 1011.2 703.0 1012.9 703.7 1014.9 C704.4 1016.9 702.2 1018.9 702.4 1021.0 C702.6 1023.1 703.5 1027.0 704.9 1029.7 C706.3 1032.4 709.8 1034.8 711.1 1037.1 C712.4 1039.4 712.1 1042.3 713.5 1044.5 C714.9 1046.7 720.2 1050.9 720.9 1051.9 C721.6 1052.9 720.5 1054.4 720.9 1055.6 C721.3 1056.8 724.5 1063.7 725.9 1067.9 C727.3 1072.1 728.5 1078.5 729.6 1082.7 C730.7 1086.9 732.4 1091.8 733.3 1095.1 C734.2 1098.4 734.8 1102.8 735.7 1105.0 C736.6 1107.2 738.0 1109.5 739.4 1111.1 C740.8 1112.7 743.7 1112.8 744.4 1114.8 C745.1 1116.8 744.7 1119.6 743.1 1121.0 C741.5 1122.4 735.7 1122.2 735.7 1122.2 C735.7 1122.2 739.7 1126.8 740.7 1129.6 C741.7 1132.4 741.4 1136.9 741.9 1139.5 C742.4 1142.1 744.3 1144.3 744.4 1146.9 C744.5 1149.5 743.6 1158.3 743.1 1161.7 C742.6 1165.1 740.9 1168.8 740.7 1171.6 C740.5 1174.4 742.4 1177.2 741.9 1180.0 C741.4 1182.8 738.6 1189.5 737.0 1192.3 C735.4 1195.1 731.8 1197.8 730.8 1199.7 C729.8 1201.6 729.2 1204.1 729.6 1205.9 C730.0 1207.7 733.5 1208.2 733.3 1210.1 C733.1 1212.0 729.2 1217.7 728.3 1219.5 C727.4 1221.3 725.6 1223.0 725.9 1224.9 C726.2 1226.8 728.9 1227.6 729.6 1229.4 C730.3 1231.2 731.4 1238.4 732.0 1240.5 C732.6 1242.6 733.3 1244.7 734.5 1246.6 C735.7 1248.5 738.4 1251.8 740.7 1254.1 C743.0 1256.4 746.6 1259.1 748.1 1260.2 C749.6 1261.3 751.6 1261.5 753.0 1262.7 C754.4 1263.9 759.5 1270.0 762.9 1272.6 C766.3 1275.2 770.6 1276.1 774.0 1278.7 C777.4 1281.3 781.4 1286.1 783.9 1288.6 C786.4 1291.1 789.7 1294.4 791.3 1296.0 C792.9 1297.6 795.0 1298.6 796.2 1300.5 C797.4 1302.4 799.0 1305.6 799.2 1308.4 C799.4 1311.2 797.4 1314.8 797.5 1317.0 C797.6 1319.2 798.4 1321.6 799.9 1323.2 C801.4 1324.8 804.3 1325.3 806.1 1326.1 C807.9 1326.9 810.4 1326.5 811.5 1328.1 C812.6 1329.7 812.0 1332.3 811.5 1334.3 C811.0 1336.3 808.6 1341.9 807.3 1344.2 C806.0 1346.5 802.4 1350.3 802.4 1350.3"/>
<path d="M780.2 683.1 C780.2 683.1 779.2 690.0 778.9 691.7 C778.6 693.4 777.4 695.0 777.7 696.7 C778.0 698.4 781.7 706.7 782.4 710.0 C783.1 713.3 782.2 717.7 782.6 719.9 C783.0 722.1 784.9 723.9 785.1 726.0 C785.3 728.1 783.5 730.1 783.9 732.2 C784.3 734.3 786.9 736.1 787.6 738.4 C788.3 740.7 787.4 743.5 788.3 745.8 C789.2 748.1 793.6 755.0 795.0 756.9 C796.4 758.8 798.9 759.7 799.9 761.8 C800.9 763.9 799.9 766.8 800.7 769.2 C801.5 771.6 806.3 782.3 807.3 784.1 C808.3 785.9 809.9 787.2 811.0 789.0 C812.1 790.8 813.6 794.6 814.7 796.4 C815.8 798.2 816.7 800.1 818.4 801.3 C820.1 802.5 824.8 803.4 827.1 805.0 C829.4 806.6 831.8 808.6 832.8 811.2 C833.8 813.8 833.8 819.5 834.5 823.6 C835.2 827.7 835.7 832.4 836.9 835.9 C838.1 839.4 841.5 842.4 841.9 845.8 C842.3 849.2 839.6 852.2 839.4 855.6 C839.2 859.0 840.3 863.8 840.7 868.0 C841.1 872.2 842.1 878.6 841.9 882.8 C841.7 887.0 839.6 890.9 839.4 895.1 C839.2 899.3 839.8 915.5 840.2 919.8 C840.6 924.1 842.0 929.4 843.1 932.2 C844.2 935.0 846.7 936.9 848.1 939.6 C849.5 942.3 854.2 951.6 855.5 956.8 C856.8 962.0 856.2 971.4 856.7 974.1 C857.2 976.8 859.6 978.8 860.4 981.5 C861.2 984.2 861.6 989.8 862.9 993.9 C864.2 998.0 867.7 1006.9 869.0 1008.7 C870.3 1010.5 873.2 1010.2 875.2 1011.2 C877.2 1012.2 879.3 1013.7 881.4 1014.9 C883.5 1016.1 886.2 1016.6 887.6 1018.6 C889.0 1020.6 891.3 1028.0 892.5 1030.9 C893.7 1033.8 895.4 1036.4 896.2 1039.5 C897.0 1042.6 900.7 1064.0 901.1 1065.5 C901.5 1067.0 903.5 1067.7 903.6 1069.2 C903.7 1070.7 901.8 1082.6 902.9 1085.2 C904.0 1087.8 908.7 1086.1 911.0 1087.7 C913.3 1089.3 916.2 1092.0 917.2 1095.1 C918.2 1098.2 916.2 1103.6 917.2 1107.4 C918.2 1111.2 922.1 1113.6 923.3 1117.3 C924.5 1121.0 924.4 1129.7 925.8 1133.3 C927.2 1136.9 931.3 1138.7 933.2 1142.0 C935.1 1145.3 938.1 1154.1 939.4 1156.8 C940.7 1159.5 942.8 1161.6 944.3 1164.2 C945.8 1166.8 951.0 1176.4 952.7 1180.0 C954.4 1183.6 954.8 1187.8 956.7 1191.1 C958.6 1194.4 962.3 1197.9 964.1 1199.7 C965.9 1201.5 968.4 1203.4 970.0 1204.5 C971.6 1205.5 973.5 1205.9 974.9 1207.2 C976.3 1208.5 981.1 1213.9 982.3 1215.8 C983.5 1217.7 984.1 1220.9 984.8 1222.0 C985.5 1223.1 987.2 1223.2 987.8 1224.4 C988.4 1225.6 987.9 1227.8 988.5 1229.4 C989.1 1231.0 991.1 1232.9 991.7 1234.3 C992.3 1235.7 991.3 1238.1 992.7 1238.8 C994.1 1239.5 998.4 1238.1 1000.9 1239.2 C1003.4 1240.3 1006.4 1244.6 1009.5 1246.2 C1012.6 1247.8 1017.4 1248.1 1019.4 1249.1 C1021.4 1250.1 1022.6 1252.2 1024.3 1253.6 C1026.0 1255.0 1028.2 1257.4 1030.5 1258.5 C1032.8 1259.6 1035.7 1260.3 1037.9 1260.2 C1040.1 1260.1 1041.9 1258.1 1044.1 1257.8 C1046.3 1257.5 1053.6 1258.1 1055.2 1257.8 C1056.8 1257.5 1057.3 1254.7 1058.9 1254.8 C1060.5 1254.9 1065.0 1256.6 1067.5 1258.5 C1070.0 1260.4 1074.8 1266.9 1078.6 1270.1 C1082.4 1273.3 1089.3 1276.8 1091.0 1278.2 C1092.7 1279.6 1092.8 1282.5 1094.7 1283.7 C1096.6 1284.9 1100.4 1285.5 1103.3 1286.1 C1106.2 1286.7 1109.1 1286.5 1111.9 1287.4 C1114.7 1288.3 1117.9 1289.8 1120.6 1291.6 C1123.3 1293.4 1126.0 1296.5 1128.0 1298.0 C1130.0 1299.5 1131.9 1301.2 1134.2 1302.2 C1136.5 1303.2 1139.9 1303.8 1142.8 1304.7 C1145.7 1305.6 1149.7 1307.2 1151.4 1307.9 C1153.1 1308.6 1156.4 1310.3 1156.4 1310.3 C1156.4 1310.3 1155.1 1313.0 1155.1 1314.5 C1155.1 1316.0 1156.0 1318.6 1156.4 1320.7 C1156.8 1322.8 1157.6 1329.3 1157.6 1329.3"/>
<path d="M1484.5 240.0 C1484.5 240.0 1484.0 241.7 1483.8 242.5 C1483.6 243.3 1483.4 246.7 1482.5 248.6 C1481.6 250.5 1478.5 252.3 1478.1 254.8 C1477.7 257.3 1479.5 261.4 1480.1 264.7 C1480.7 268.0 1480.9 273.7 1482.0 277.0 C1483.1 280.3 1485.4 283.5 1487.5 285.7 C1489.6 287.9 1492.4 288.9 1494.9 290.6 C1497.4 292.3 1502.9 297.2 1507.2 298.8 C1511.5 300.4 1518.3 299.7 1520.8 300.5 C1523.3 301.3 1526.3 302.8 1527.0 305.4 C1527.7 308.0 1526.6 320.4 1527.5 325.2 C1528.4 330.0 1532.1 333.9 1533.1 338.7 C1534.1 343.5 1533.8 348.6 1533.1 353.6 C1532.4 358.6 1530.0 370.7 1528.2 375.8 C1526.4 380.9 1519.7 390.3 1518.3 395.5 C1516.9 400.7 1517.7 414.8 1517.1 417.7 C1516.5 420.6 1514.1 422.8 1512.2 425.1 C1510.3 427.4 1506.0 432.4 1503.5 433.8 C1501.0 435.2 1497.2 434.2 1494.9 435.0 C1492.6 435.8 1489.5 436.4 1488.7 438.7 C1487.9 441.0 1490.1 446.1 1489.9 449.8 C1489.7 453.5 1488.1 462.0 1487.5 464.6 C1486.9 467.2 1485.2 469.9 1485.0 472.0 C1484.8 474.1 1486.7 476.2 1486.2 478.2 C1485.7 480.2 1483.5 481.3 1482.5 483.1 C1481.5 484.9 1478.9 491.4 1477.6 494.3 C1476.3 497.2 1474.2 500.8 1473.9 502.9 C1473.6 505.0 1474.8 507.3 1475.6 509.1 C1476.4 510.9 1478.3 512.1 1478.8 514.0 C1479.3 515.9 1480.2 521.1 1479.6 523.9 C1479.0 526.7 1475.6 529.2 1475.1 531.3 C1474.6 533.4 1474.9 536.0 1476.4 537.5 C1477.9 539.0 1483.8 539.9 1483.8 539.9 C1483.8 539.9 1480.5 543.7 1480.1 546.1 C1479.7 548.5 1480.3 555.9 1480.6 558.4 C1480.9 560.9 1482.8 563.7 1482.5 565.8 C1482.2 567.9 1480.2 569.2 1478.8 570.8 C1477.4 572.4 1475.1 573.7 1473.9 575.7 C1472.7 577.7 1470.2 582.0 1470.2 585.6 C1470.2 589.2 1473.7 593.6 1473.9 597.9 C1474.1 602.2 1472.1 609.3 1471.4 612.7 C1470.7 616.1 1470.4 619.5 1469.0 622.6 C1467.6 625.7 1464.7 629.1 1462.8 631.3 C1460.9 633.5 1458.1 634.9 1456.6 637.4 C1455.1 639.9 1454.0 645.0 1452.9 647.3 C1451.8 649.6 1448.8 651.0 1448.5 653.5 C1448.2 656.0 1450.6 660.9 1450.9 664.6 C1451.2 668.3 1451.4 672.1 1450.5 675.7 C1449.6 679.3 1446.5 682.8 1445.5 686.8 C1444.5 690.8 1444.7 697.1 1444.3 700.4 C1443.9 703.7 1442.1 706.7 1442.4 710.0 C1442.7 713.3 1445.7 718.2 1446.0 719.9 C1446.3 721.6 1444.9 723.1 1445.0 724.8 C1445.1 726.5 1446.8 728.8 1446.7 731.0 C1446.6 733.2 1444.5 735.0 1444.3 737.2 C1444.1 739.4 1445.4 743.7 1445.5 747.0 C1445.6 750.3 1445.4 778.0 1445.0 781.6 C1444.6 785.2 1440.6 791.5 1440.6 791.5 C1440.6 791.5 1440.1 791.2 1440.0 791.4 C1439.9 791.5 1435.6 797.6 1435.3 801.3 C1435.0 805.0 1434.2 865.4 1434.1 868.0 C1434.0 870.6 1432.3 874.0 1431.6 875.4 C1430.9 876.8 1429.1 877.6 1428.6 879.1 C1428.1 880.6 1426.6 886.4 1426.7 890.2 C1426.8 894.0 1428.4 901.6 1429.1 905.0 C1429.8 908.4 1431.4 911.6 1431.6 914.9 C1431.8 918.2 1430.9 921.9 1430.4 924.8 C1429.9 927.7 1428.9 930.5 1428.6 933.4 C1428.3 936.3 1428.6 944.5 1428.6 944.5"/>
<path d="M786.3 684.3 C786.3 684.3 788.4 687.4 790.0 688.0 C791.6 688.6 803.6 690.7 806.1 691.7 C808.6 692.7 810.7 694.5 812.3 696.7 C813.9 698.9 818.7 708.7 819.6 710.0 C820.6 711.3 821.9 712.5 823.4 713.0 C824.9 713.5 830.3 713.8 833.2 714.9 C836.1 716.0 839.7 717.9 841.1 719.9 C842.5 721.9 841.1 724.9 841.9 727.3 C842.7 729.7 847.1 736.4 848.1 739.6 C849.1 742.8 847.8 746.4 848.6 749.5 C849.4 752.6 851.3 755.3 853.0 758.1 C854.7 760.9 855.8 765.7 859.2 766.8 C862.6 767.9 867.7 762.3 871.5 763.8 C875.3 765.3 875.6 770.7 877.7 774.2 C879.8 777.7 883.9 785.1 885.1 786.5 C886.3 787.9 888.6 787.8 890.0 789.0 C891.4 790.2 898.5 797.7 899.9 798.9 C901.3 800.1 903.6 799.9 904.8 801.3 C906.0 802.7 907.3 807.8 909.8 810.0 C912.3 812.2 921.6 817.3 925.8 819.8 C930.0 822.3 935.0 824.8 938.2 827.3 C941.4 829.8 944.8 832.4 946.8 835.9 C948.8 839.4 950.1 847.9 951.7 850.7 C953.3 853.5 956.5 855.0 959.1 856.9 C961.7 858.8 967.7 861.2 970.0 863.6 C972.3 866.1 972.8 870.4 973.7 872.9 C974.6 875.4 974.8 878.1 976.2 880.3 C977.6 882.5 981.8 887.4 983.6 889.0 C985.4 890.6 987.3 893.1 989.7 892.7 C992.1 892.3 994.9 887.5 997.2 886.5 C999.5 885.5 1002.4 885.4 1004.6 886.5 C1006.8 887.6 1008.3 890.3 1009.5 892.7 C1010.7 895.1 1011.2 898.8 1012.0 901.3 C1012.8 903.8 1012.8 906.6 1014.4 908.7 C1016.0 910.8 1021.1 913.9 1023.1 916.1 C1025.1 918.3 1026.8 920.8 1028.0 923.5 C1029.2 926.2 1029.6 934.2 1032.9 938.3 C1036.2 942.4 1045.0 943.6 1047.8 948.2 C1050.6 952.8 1049.6 961.7 1050.2 966.7 C1050.8 971.7 1050.7 976.6 1051.5 981.5 C1052.3 986.4 1053.7 993.4 1055.2 996.3 C1056.7 999.2 1060.9 999.7 1062.6 1002.5 C1064.3 1005.3 1063.6 1009.5 1065.0 1012.4 C1066.4 1015.3 1068.5 1018.0 1071.2 1019.8 C1073.9 1021.6 1078.0 1021.8 1081.1 1023.5 C1084.2 1025.2 1088.2 1028.3 1091.0 1030.9 C1093.8 1033.5 1096.7 1036.1 1098.4 1039.5 C1100.1 1042.9 1099.3 1048.6 1100.8 1050.7 C1102.3 1052.8 1106.5 1051.1 1108.2 1053.1 C1109.9 1055.1 1113.7 1065.5 1113.7 1065.5"/>
<path d="M387.2 381.4 C387.2 381.4 404.1 358.8 407.7 354.8 C411.3 350.8 417.4 347.4 421.3 343.7 C425.2 340.0 432.0 331.3 434.8 328.9 C437.6 326.5 442.3 326.7 444.7 323.9 C447.1 321.1 445.6 315.6 448.4 312.8 C451.2 310.0 455.8 310.5 459.5 309.1 C463.2 307.7 469.6 305.5 474.3 302.9 C479.0 300.3 487.0 294.3 490.4 291.8 C493.8 289.3 498.3 285.3 500.0 283.9 C501.7 282.4 503.1 280.8 504.9 279.5 C506.7 278.2 509.6 277.7 511.1 275.8 C512.6 273.9 513.9 270.2 514.8 267.2 C515.7 264.2 516.0 258.3 517.3 256.0 C518.6 253.7 521.7 253.0 523.5 251.1 C525.3 249.2 527.6 245.5 528.4 244.4 C529.2 243.3 530.9 241.2 530.9 241.2"/>
<path d="M1576.3 1637.2 C1576.3 1637.2 1571.7 1642.2 1568.9 1644.1 C1566.1 1646.0 1558.7 1649.1 1557.3 1650.0 C1556.0 1650.9 1555.3 1652.4 1554.1 1653.5 C1552.9 1654.6 1548.9 1658.1 1546.7 1659.6 C1544.5 1661.1 1539.8 1663.3 1539.8 1663.3 C1539.8 1663.3 1543.2 1667.6 1543.0 1669.5 C1542.8 1671.4 1538.8 1673.2 1538.8 1673.2 C1538.8 1673.2 1540.3 1676.4 1541.8 1676.9 C1543.3 1677.4 1546.7 1675.7 1546.7 1675.7 C1546.7 1675.7 1547.2 1680.7 1548.0 1683.1 C1548.8 1685.5 1549.8 1688.4 1551.7 1690.5 C1553.6 1692.6 1559.1 1694.3 1560.3 1696.6 C1561.5 1698.9 1558.8 1701.5 1558.6 1704.1 C1558.4 1706.7 1558.6 1709.8 1559.1 1712.7 C1559.6 1715.6 1560.9 1718.4 1561.5 1721.3 C1562.1 1724.2 1562.8 1730.0 1562.8 1730.0 C1562.8 1730.0 1566.8 1726.7 1568.9 1727.5 C1571.0 1728.3 1576.3 1734.9 1576.3 1734.9 C1576.3 1734.9 1567.7 1741.1 1567.7 1741.1 C1567.7 1741.1 1573.6 1744.3 1575.1 1746.0 C1576.6 1747.7 1577.6 1752.2 1577.6 1752.2 C1577.6 1752.2 1570.2 1755.9 1570.2 1755.9 C1570.2 1755.9 1574.5 1759.5 1576.3 1760.8 C1578.1 1762.1 1581.4 1762.3 1581.8 1764.5 C1582.2 1766.7 1578.9 1770.1 1578.8 1773.2 C1578.7 1776.3 1581.2 1784.4 1580.8 1788.0 C1580.4 1791.6 1577.6 1795.6 1576.3 1797.9 C1575.0 1800.2 1571.3 1801.4 1571.4 1804.0 C1571.5 1806.6 1576.8 1808.9 1576.8 1812.2 C1576.8 1815.5 1573.0 1818.5 1571.4 1821.3 C1569.8 1824.1 1567.8 1827.5 1567.0 1829.9 C1566.2 1832.3 1565.5 1835.6 1566.0 1837.4 C1566.5 1839.2 1569.8 1839.3 1570.2 1841.1 C1570.6 1842.9 1568.2 1847.2 1568.4 1849.7 C1568.6 1852.2 1571.5 1854.1 1571.4 1856.6 C1571.3 1859.1 1568.7 1863.8 1567.7 1867.0 C1566.7 1870.2 1565.0 1874.0 1565.2 1876.8 C1565.4 1879.6 1569.1 1881.5 1568.9 1884.3 C1568.7 1887.1 1565.3 1890.1 1564.0 1892.9 C1562.7 1895.7 1561.3 1899.4 1561.0 1901.5 C1560.7 1903.6 1561.5 1907.7 1561.5 1907.7"/>
<path d="M564.7 491.8 C564.7 491.8 563.6 501.3 561.7 504.1 C559.8 506.9 554.4 506.9 553.1 509.1 C551.8 511.3 555.0 514.1 554.3 516.5 C553.6 518.9 548.7 523.3 548.1 526.3 C547.5 529.3 550.6 535.0 550.6 535.0 C550.6 535.0 544.9 536.0 543.2 537.5 C541.5 539.0 542.6 542.4 540.7 543.6 C538.8 544.8 533.1 544.9 529.6 546.1 C526.1 547.3 523.4 550.3 519.7 551.0 C516.0 551.7 503.7 549.4 500.0 551.4 C496.3 553.4 497.4 559.3 496.5 563.4 C495.6 567.5 496.7 575.7 494.1 579.4 C491.5 583.1 485.8 582.6 481.7 584.4 C477.6 586.2 471.1 588.0 469.4 590.5 C467.7 593.0 471.9 599.2 471.9 599.2 C471.9 599.2 460.8 604.1 460.8 604.1 C460.8 604.1 462.0 608.4 463.2 610.3 C464.4 612.2 467.0 613.2 468.2 615.2 C469.4 617.2 472.5 623.2 473.1 627.6 C473.7 632.0 472.7 639.7 471.9 644.8 C471.1 649.9 468.5 656.3 468.2 659.6 C467.9 662.9 469.8 666.2 469.4 669.5 C469.0 672.8 466.3 677.6 465.7 681.9 C465.1 686.2 466.2 692.2 465.7 696.7 C465.2 701.2 463.4 705.5 462.9 710.0 C462.3 714.5 463.0 719.9 462.0 724.8 C461.0 729.7 458.3 735.9 457.0 739.6 C455.7 743.3 454.6 749.0 453.3 750.7 C452.0 752.4 448.8 751.1 447.2 752.5 C445.6 753.9 442.8 759.5 441.0 761.8 C439.2 764.1 435.6 767.0 434.8 768.0 C434.0 769.0 434.4 770.7 433.6 771.7 C432.8 772.7 424.5 782.0 422.5 784.1 C420.5 786.2 418.2 787.9 416.3 790.2 C414.4 792.5 412.4 795.3 411.4 797.6 C410.4 799.9 410.0 802.5 410.1 805.0 C410.2 807.5 412.3 817.3 412.6 818.6 C412.9 819.9 414.3 821.1 413.8 822.3 C413.3 823.5 407.6 831.4 405.2 834.7 C402.8 838.0 398.7 841.7 397.8 844.5 C396.9 847.3 399.2 850.6 399.0 853.2 C398.8 855.8 397.3 858.1 396.6 860.6 C395.9 863.1 393.2 870.3 392.9 875.4 C392.6 880.5 394.4 888.6 394.8 892.7 C395.2 896.8 396.2 902.4 396.1 905.0 C396.0 907.6 395.2 910.6 394.1 912.4 C393.0 914.2 389.8 914.1 389.2 916.1 C388.6 918.1 389.6 922.0 390.4 924.8 C391.2 927.6 392.9 930.5 394.1 933.4 C395.3 936.3 397.6 939.8 397.8 942.0 C398.0 944.2 396.3 946.2 395.3 948.2 C394.3 950.2 388.0 961.9 385.5 966.7 C383.0 971.5 380.1 976.7 378.1 981.5 C376.1 986.3 374.9 992.9 373.1 996.3 C371.3 999.7 366.3 1003.3 365.7 1005.0 C365.1 1006.7 367.0 1008.5 368.2 1009.9 C369.4 1011.3 378.8 1020.6 380.5 1022.3 C382.2 1024.0 383.8 1025.5 385.5 1027.2 C387.2 1028.9 393.2 1033.9 394.1 1035.8 C395.0 1037.7 393.8 1040.1 392.9 1042.0 C392.0 1043.9 387.5 1046.4 387.9 1049.4 C388.3 1052.4 393.5 1055.7 395.3 1058.1 C397.1 1060.5 398.9 1064.0 400.3 1065.5 C401.7 1067.0 403.7 1067.8 405.2 1069.2 C406.7 1070.6 407.9 1073.7 410.1 1074.8 C412.3 1075.9 415.3 1074.4 417.6 1075.3 C419.9 1076.2 425.9 1080.0 429.9 1082.7 C433.9 1085.4 443.0 1091.9 447.2 1095.1 C451.4 1098.3 457.4 1102.9 459.5 1105.0 C461.6 1107.1 463.3 1110.7 464.5 1112.4 C465.7 1114.1 468.1 1115.2 468.2 1117.3 C468.3 1119.4 466.1 1126.3 465.7 1129.6 C465.3 1132.9 464.8 1136.3 465.7 1139.5 C466.6 1142.7 470.7 1149.4 471.9 1151.9 C473.1 1154.4 474.1 1157.0 475.6 1159.3 C477.1 1161.6 480.6 1163.7 481.7 1166.7 C482.8 1169.7 482.8 1175.9 483.0 1180.0 C483.2 1184.1 482.2 1188.2 483.0 1192.3 C483.8 1196.4 487.1 1200.3 487.9 1204.7 C488.7 1209.1 489.7 1221.2 489.1 1224.4 C488.5 1227.6 485.8 1230.2 483.0 1231.8 C480.2 1233.4 472.4 1233.6 469.4 1235.5 C466.4 1237.4 464.7 1241.0 463.2 1244.2 C461.7 1247.4 460.7 1253.4 459.5 1256.5 C458.3 1259.6 455.4 1263.4 455.1 1265.2 C454.8 1267.0 457.5 1270.1 457.5 1270.1"/>
<path d="M648.1 326.4 C648.1 326.4 652.4 326.6 654.3 327.6 C656.2 328.6 657.9 330.6 659.2 332.6 C660.5 334.6 661.9 339.4 662.9 341.2 C663.9 343.0 666.1 344.1 666.6 346.1 C667.1 348.1 666.0 350.3 665.4 352.3 C664.8 354.3 662.8 357.9 662.4 361.0 C662.0 364.1 662.3 369.2 662.9 373.3 C663.5 377.4 665.2 382.7 665.9 385.6 C666.6 388.5 668.0 391.3 667.9 394.3 C667.8 397.3 666.3 400.7 665.4 402.9 C664.5 405.1 663.1 407.5 661.7 409.1 C660.3 410.7 657.9 411.4 656.7 412.8 C655.5 414.2 654.9 416.0 654.3 417.7 C653.7 419.4 653.6 423.4 652.6 425.1 C651.6 426.8 648.6 426.9 648.1 428.8 C647.6 430.7 648.9 435.0 649.3 437.5 C649.7 440.0 649.6 442.6 650.6 444.9 C651.6 447.2 654.6 449.5 655.5 452.3 C656.4 455.1 656.3 459.6 656.0 462.2 C655.7 464.8 653.5 469.6 653.5 469.6 C653.5 469.6 658.9 472.0 660.5 473.3 C662.1 474.6 663.5 476.3 664.2 478.2 C664.9 480.1 665.1 485.1 665.4 486.8 C665.7 488.5 667.0 490.1 666.6 491.8 C666.2 493.5 663.6 494.8 662.9 496.7 C662.2 498.6 662.4 503.5 661.7 505.4 C661.0 507.3 659.1 508.6 658.0 510.3 C656.9 512.0 654.3 514.1 654.3 516.5 C654.3 518.9 657.9 522.0 658.0 523.9 C658.1 525.8 655.0 526.9 655.0 528.8 C655.0 530.7 656.8 533.6 658.0 535.0 C659.2 536.4 662.5 535.7 662.9 537.5 C663.3 539.3 660.2 543.1 660.5 546.1 C660.8 549.1 663.0 555.3 664.9 557.2 C666.8 559.1 671.0 557.4 672.8 558.4 C674.6 559.4 675.7 561.5 676.5 563.4 C677.3 565.3 676.6 567.7 677.7 569.5 C678.8 571.3 682.7 573.2 682.7 573.2 C682.7 573.2 679.7 577.1 679.0 579.4 C678.3 581.7 677.3 585.7 678.2 588.1 C679.1 590.5 683.9 593.0 683.9 593.0 C683.9 593.0 687.6 584.4 687.6 584.4 C687.6 584.4 693.1 588.0 695.0 590.5 C696.9 593.0 697.9 596.4 698.7 599.2 C699.5 602.0 699.4 606.3 699.9 607.8 C700.4 609.3 702.7 609.9 702.9 611.5 C703.1 613.1 700.9 617.2 701.2 618.9 C701.5 620.6 703.3 622.0 704.9 622.6 C706.5 623.2 714.7 624.8 717.2 625.1 C719.7 625.4 722.4 624.2 724.6 625.1 C726.8 626.0 728.1 628.2 729.6 630.0 C731.1 631.8 732.8 635.9 734.5 637.4 C736.2 638.9 739.1 638.3 740.7 639.9 C742.3 641.5 741.5 644.5 743.1 646.1 C744.7 647.7 749.4 650.0 751.8 651.0 C754.2 652.0 757.1 652.3 759.2 652.7 C761.3 653.1 763.8 652.2 765.4 653.5 C767.0 654.8 767.8 657.4 767.8 659.6 C767.8 661.8 764.7 666.3 765.4 669.5 C766.1 672.7 769.3 674.9 771.5 676.9 C773.7 678.9 776.1 681.0 778.9 681.9 C781.7 682.8 785.9 681.4 787.6 681.9 C789.3 682.4 789.6 685.4 791.3 685.6 C793.0 685.8 795.3 682.8 797.5 683.1 C799.7 683.4 804.0 686.9 806.1 687.3 C808.2 687.7 810.1 685.5 812.3 685.6 C814.5 685.7 819.2 687.4 820.9 688.0 C822.6 688.6 824.0 690.1 825.8 690.5 C827.6 690.9 831.1 690.6 832.0 690.5 C832.9 690.4 833.8 689.9 834.5 689.3 C835.2 688.7 839.3 683.4 841.9 681.9 C844.5 680.4 847.5 680.1 850.5 680.1 C853.5 680.1 862.6 681.2 865.3 681.9 C868.0 682.6 870.2 684.3 872.7 685.6 C875.2 686.9 879.0 689.4 881.4 690.5 C883.8 691.6 886.8 691.4 888.8 693.0 C890.8 694.6 891.6 698.3 893.7 700.4 C895.8 702.5 898.5 703.8 901.1 705.3 C903.7 706.8 909.8 710.0 909.8 710.0 C909.8 710.0 902.4 707.6 902.4 707.6 C902.4 707.6 907.4 711.7 909.8 712.5 C912.2 713.3 915.9 712.8 917.2 712.5 C918.5 712.2 919.3 710.9 920.2 710.0 C921.2 709.1 922.8 706.4 924.6 705.3 C926.4 704.2 929.4 702.6 932.0 702.8 C934.6 703.0 939.7 705.7 940.6 706.5 C941.5 707.3 940.5 708.8 940.6 710.0 C940.8 711.2 940.8 714.4 941.9 716.2 C943.0 718.0 945.7 718.1 946.8 719.9 C947.9 721.7 946.8 724.3 948.0 726.0 C949.2 727.7 953.3 730.6 954.2 731.0 C955.1 731.4 955.9 729.1 956.7 729.7 C957.5 730.3 962.3 736.6 964.1 738.4 C965.9 740.2 968.4 741.5 970.0 743.3 C971.6 745.1 971.3 749.1 973.7 749.5 C976.1 749.9 982.7 745.8 984.8 745.8 C986.9 745.8 988.7 748.1 989.7 749.5 C990.7 750.9 989.6 753.4 991.0 754.4 C992.4 755.4 998.8 757.5 1002.1 758.1 C1005.4 758.7 1009.1 756.7 1012.0 758.1 C1014.9 759.5 1015.3 763.9 1018.1 765.5 C1020.9 767.1 1025.4 768.1 1029.2 768.0 C1033.0 767.9 1039.7 764.8 1042.8 764.8 C1045.9 764.8 1049.8 767.3 1051.5 768.0 C1053.2 768.7 1055.8 768.7 1056.4 770.5 C1057.0 772.3 1054.2 778.3 1055.9 781.6 C1057.6 784.9 1067.2 793.7 1068.7 795.2 C1070.2 796.7 1072.1 797.6 1073.7 798.9 C1075.3 800.2 1082.7 806.0 1084.8 808.7 C1086.9 811.4 1085.5 816.5 1088.5 818.1 C1091.5 819.7 1098.2 817.8 1100.8 817.4 C1103.4 817.0 1105.6 815.4 1108.2 814.9 C1110.8 814.4 1115.7 813.7 1118.1 814.2 C1120.5 814.7 1122.0 817.3 1124.3 818.1 C1126.6 818.9 1130.0 819.4 1132.9 819.1 C1135.8 818.8 1140.2 817.1 1142.8 816.1 C1145.4 815.1 1147.4 812.4 1150.2 812.4 C1153.0 812.4 1157.4 815.6 1161.3 816.1 C1165.2 816.6 1172.1 816.2 1173.7 815.7 C1175.3 815.2 1174.6 812.0 1176.1 811.2 C1177.6 810.4 1186.0 808.7 1186.0 808.7 C1186.0 808.7 1184.4 815.2 1186.7 816.6 C1189.0 818.0 1199.3 817.9 1203.3 819.1 C1207.3 820.3 1210.9 822.6 1214.4 824.8 C1217.9 827.0 1221.0 829.7 1224.3 832.2 C1227.6 834.7 1233.1 839.3 1235.4 840.8 C1237.7 842.3 1241.8 843.9 1242.8 844.5 C1243.8 845.1 1244.1 846.5 1245.2 847.0 C1246.3 847.5 1253.7 847.9 1256.3 850.7 C1258.9 853.5 1257.9 859.2 1258.8 861.8 C1259.7 864.4 1261.1 866.9 1262.5 869.2 C1263.9 871.5 1267.3 872.7 1267.5 875.4 C1267.7 878.1 1265.4 884.3 1263.8 886.5 C1262.2 888.7 1258.0 887.8 1256.8 890.2 C1255.6 892.6 1256.2 899.9 1256.3 901.3 C1256.4 902.7 1258.2 903.6 1258.3 905.0 C1258.4 906.4 1256.5 911.0 1257.6 913.7 C1258.7 916.4 1263.2 918.1 1265.0 921.1 C1266.8 924.1 1267.3 928.8 1268.7 932.2 C1270.1 935.6 1273.2 940.8 1273.6 942.0 C1274.0 943.2 1273.6 945.7 1273.6 945.7 C1273.6 945.7 1268.7 946.5 1268.7 946.5 C1268.7 946.5 1270.4 949.5 1271.6 950.7 C1272.8 951.9 1277.3 954.9 1277.3 954.9"/>
</g>
<g stroke="#97b6e1" stroke-opacity=".5" stroke-width="3.5" stroke-linecap="butt">
<path d="M1741.7 1229.4 C1741.7 1229.4 1739.8 1231.1 1738.8 1231.8 C1737.8 1232.5 1731.4 1234.8 1729.4 1238.0 C1727.4 1241.2 1725.8 1247.3 1726.4 1251.6 C1727.0 1255.9 1732.1 1258.7 1733.1 1262.7 C1734.1 1266.7 1733.6 1271.8 1731.9 1275.0 C1730.2 1278.2 1725.6 1279.0 1723.2 1281.2 C1720.8 1283.4 1718.6 1285.8 1717.0 1288.6 C1715.4 1291.4 1714.8 1296.0 1713.3 1298.5 C1711.8 1301.0 1709.2 1302.5 1707.2 1304.7 C1705.2 1306.9 1702.2 1309.5 1701.0 1312.1 C1699.8 1314.7 1701.3 1318.2 1699.8 1320.7 C1698.3 1323.2 1693.3 1326.1 1691.1 1328.1 C1688.9 1330.1 1686.2 1331.7 1685.0 1334.3 C1683.8 1336.9 1685.9 1340.4 1684.5 1342.9 C1683.1 1345.4 1678.0 1349.0 1675.1 1351.6 C1672.2 1354.2 1669.8 1357.3 1666.4 1359.0 C1663.0 1360.7 1658.7 1360.4 1655.3 1361.4 C1651.9 1362.4 1648.8 1364.0 1645.5 1365.1 C1642.2 1366.2 1631.5 1369.1 1629.4 1370.1 C1627.3 1371.1 1624.5 1375.0 1624.5 1375.0"/>
<path d="M1733.1 1266.4 L1741.7 1263.4"/>
<path d="M1741.7 1436.7 C1741.7 1436.7 1739.8 1437.6 1738.8 1438.0 C1737.8 1438.4 1732.4 1439.8 1729.4 1441.2 C1726.4 1442.6 1722.6 1444.4 1719.5 1446.6 C1716.4 1448.8 1711.4 1453.3 1707.2 1456.5 C1703.0 1459.7 1697.6 1462.7 1693.6 1466.3 C1689.6 1469.9 1683.6 1477.2 1680.0 1481.2 C1676.4 1485.2 1668.0 1493.7 1665.2 1497.2 C1662.4 1500.7 1659.5 1504.4 1657.8 1508.3 C1656.1 1512.2 1655.2 1516.4 1654.8 1520.7 C1654.4 1525.0 1656.2 1531.0 1655.3 1535.5 C1654.4 1540.0 1650.6 1544.6 1649.2 1547.8 C1647.8 1551.0 1646.5 1555.5 1645.5 1557.7 C1644.5 1559.9 1643.3 1561.9 1641.8 1563.8 C1640.3 1565.7 1636.7 1568.6 1634.4 1571.3 C1632.1 1574.0 1628.2 1579.9 1628.2 1579.9 C1628.2 1579.9 1633.6 1581.3 1634.4 1583.6 C1635.2 1585.9 1633.4 1588.9 1631.9 1591.0 C1630.4 1593.1 1626.8 1594.9 1624.5 1597.2 C1622.2 1599.5 1621.0 1602.7 1618.3 1604.6 C1615.6 1606.5 1605.9 1609.9 1603.5 1612.0 C1601.1 1614.1 1601.8 1618.2 1599.8 1620.6 C1597.8 1623.0 1593.0 1625.3 1589.9 1628.0 C1586.8 1630.7 1582.7 1635.7 1581.3 1636.7 C1579.9 1637.7 1576.3 1637.9 1576.3 1637.9"/>
<path d="M1594.1 1352.8 C1594.1 1352.8 1599.9 1351.4 1602.3 1352.8 C1604.7 1354.2 1605.9 1358.9 1608.4 1361.4 C1610.9 1363.9 1616.0 1366.9 1618.3 1368.8 C1620.6 1370.7 1623.3 1372.3 1624.5 1375.0 C1625.7 1377.7 1624.8 1381.6 1625.2 1384.9 C1625.6 1388.2 1625.9 1392.4 1626.9 1394.8 C1627.9 1397.2 1631.0 1398.4 1631.9 1400.9 C1632.8 1403.4 1633.5 1410.0 1633.6 1413.3 C1633.7 1416.6 1632.0 1419.9 1632.6 1423.1 C1633.2 1426.3 1636.2 1428.6 1636.8 1431.8 C1637.4 1435.0 1637.4 1441.8 1636.8 1444.1 C1636.2 1446.4 1633.7 1447.5 1631.9 1449.1 C1630.1 1450.7 1627.2 1452.5 1625.7 1454.0 C1624.2 1455.5 1623.3 1457.3 1622.0 1458.9 C1620.7 1460.5 1617.0 1463.3 1615.8 1466.3 C1614.6 1469.3 1616.1 1473.0 1615.3 1476.2 C1614.5 1479.4 1612.6 1483.3 1610.9 1486.1 C1609.2 1488.9 1606.0 1491.6 1604.7 1493.5 C1603.4 1495.4 1602.9 1498.5 1601.5 1499.7 C1600.1 1500.9 1596.1 1500.9 1596.1 1500.9 C1596.1 1500.9 1596.4 1508.9 1597.3 1510.8 C1598.2 1512.7 1600.4 1513.6 1602.3 1514.5 C1604.2 1515.4 1610.2 1517.7 1613.4 1518.7 C1616.6 1519.7 1619.9 1520.4 1623.2 1521.1 C1626.5 1521.8 1633.4 1521.7 1635.6 1523.1 C1637.8 1524.5 1636.9 1528.5 1638.1 1530.5 C1639.3 1532.5 1642.1 1533.3 1643.0 1535.5 C1643.9 1537.7 1645.1 1544.5 1645.5 1547.8 C1645.9 1551.1 1646.0 1555.4 1645.5 1557.7 C1645.0 1560.0 1641.6 1561.4 1641.8 1563.8 C1642.0 1566.2 1643.5 1571.8 1646.7 1573.7 C1649.9 1575.6 1655.8 1574.2 1660.3 1575.0 C1664.8 1575.8 1672.5 1577.5 1675.1 1578.7 C1677.7 1579.9 1679.8 1582.3 1681.3 1584.8 C1682.8 1587.3 1682.6 1592.1 1685.0 1594.7 C1687.4 1597.3 1692.1 1597.1 1694.8 1599.6 C1697.5 1602.1 1698.6 1607.9 1701.0 1609.5 C1703.4 1611.1 1707.4 1609.9 1709.6 1609.5 C1711.8 1609.1 1715.8 1607.0 1715.8 1607.0 C1715.8 1607.0 1715.3 1612.1 1713.3 1613.2 C1711.3 1614.3 1706.7 1612.7 1704.7 1613.2 C1702.7 1613.7 1700.3 1614.9 1699.8 1616.9 C1699.3 1618.9 1701.0 1622.3 1702.2 1624.3 C1703.4 1626.3 1705.9 1627.3 1707.2 1629.3 C1708.5 1631.3 1708.9 1635.5 1710.9 1637.9 C1712.9 1640.3 1716.3 1642.6 1719.5 1644.1 C1722.7 1645.6 1730.3 1647.3 1733.1 1648.0 C1735.9 1648.7 1741.7 1649.3 1741.7 1649.3"/>
</g>
</g>
<path fill-rule="evenodd" fill="#000" d="M29 238.8H1745V2089.8H29Z M33.9 243.9V2084H1739V243.9Z"/>
<g shape-rendering="crispEdges">
<rect x="1859.5" y="1746.52" width="65.1" height="65.28" fill="#f7fbff"/>
<rect x="1859.5" y="1681.84" width="65.1" height="65.28" fill="#ebf3fb"/>
<rect x="1859.5" y="1617.16" width="65.1" height="65.28" fill="#dfecf7"/>
<rect x="1859.5" y="1552.48" width="65.1" height="65.28" fill="#d4e4f4"/>
<rect x="1859.5" y="1487.80" width="65.1" height="65.28" fill="#c9ddf0"/>
<rect x="1859.5" y="1423.12" width="65.1" height="65.28" fill="#b7d5ea"/>
<rect x="1859.5" y="1358.44" width="65.1" height="65.28" fill="#a4cde3"/>
<rect x="1859.5" y="1293.76" width="65.1" height="65.28" fill="#8ec1de"/>
<rect x="1859.5" y="1229.08" width="65.1" height="65.28" fill="#76b4d8"/>
<rect x="1859.5" y="1164.40" width="65.1" height="65.28" fill="#60a7d2"/>
<rect x="1859.5" y="1099.72" width="65.1" height="65.28" fill="#4d99ca"/>
<rect x="1859.5" y="1035.04" width="65.1" height="65.28" fill="#3b8bc2"/>
<rect x="1859.5" y="970.36" width="65.1" height="65.28" fill="#2b7bba"/>
<rect x="1859.5" y="905.68" width="65.1" height="65.28" fill="#1d6cb1"/>
<rect x="1859.5" y="841.00" width="65.1" height="65.28" fill="#115da5"/>
<rect x="1859.5" y="776.32" width="65.1" height="65.28" fill="#084e97"/>
<rect x="1859.5" y="711.64" width="65.1" height="65.28" fill="#083e80"/>
<rect x="1859.5" y="646.96" width="65.1" height="65.28" fill="#082f69"/>
<rect x="1859.5" y="582.28" width="65.1" height="65.28" fill="#072355"/>
<rect x="1859.5" y="517.60" width="65.1" height="65.28" fill="#071742"/>
</g>
<rect x="1859.5" y="517.6" width="65.1" height="1293.6" fill="none" stroke="#000" stroke-width="2.9"/>
<line x1="1924.6" y1="1811.20" x2="1939.6" y2="1811.20" stroke="#000" stroke-width="3"/>
<text x="1954.5" y="1827.7" font-size="41.7" fill="#000">0.0</text>
<line x1="1924.6" y1="1746.52" x2="1932.4" y2="1746.52" stroke="#000" stroke-width="2.1"/>
<line x1="1924.6" y1="1681.84" x2="1932.4" y2="1681.84" stroke="#000" stroke-width="2.1"/>
<line x1="1924.6" y1="1617.16" x2="1939.6" y2="1617.16" stroke="#000" stroke-width="3"/>
<text x="1954.5" y="1633.7" font-size="41.7" fill="#000">7.5</text>
<line x1="1924.6" y1="1552.48" x2="1932.4" y2="1552.48" stroke="#000" stroke-width="2.1"/>
<line x1="1924.6" y1="1487.80" x2="1932.4" y2="1487.80" stroke="#000" stroke-width="2.1"/>
<line x1="1924.6" y1="1423.12" x2="1939.6" y2="1423.12" stroke="#000" stroke-width="3"/>
<text x="1954.5" y="1439.6" font-size="41.7" fill="#000">15.0</text>
<line x1="1924.6" y1="1358.44" x2="1932.4" y2="1358.44" stroke="#000" stroke-width="2.1"/>
<line x1="1924.6" y1="1293.76" x2="1932.4" y2="1293.76" stroke="#000" stroke-width="2.1"/>
<line x1="1924.6" y1="1229.08" x2="1939.6" y2="1229.08" stroke="#000" stroke-width="3"/>
<text x="1954.5" y="1245.6" font-size="41.7" fill="#000">22.5</text>
<line x1="1924.6" y1="1164.40" x2="1932.4" y2="1164.40" stroke="#000" stroke-width="2.1"/>
<line x1="1924.6" y1="1099.72" x2="1932.4" y2="1099.72" stroke="#000" stroke-width="2.1"/>
<line x1="1924.6" y1="1035.04" x2="1939.6" y2="1035.04" stroke="#000" stroke-width="3"/>
<text x="1954.5" y="1051.5" font-size="41.7" fill="#000">30.0</text>
<line x1="1924.6" y1="970.36" x2="1932.4" y2="970.36" stroke="#000" stroke-width="2.1"/>
<line x1="1924.6" y1="905.68" x2="1932.4" y2="905.68" stroke="#000" stroke-width="2.1"/>
<line x1="1924.6" y1="841.00" x2="1939.6" y2="841.00" stroke="#000" stroke-width="3"/>
<text x="1954.5" y="857.5" font-size="41.7" fill="#000">37.5</text>
<line x1="1924.6" y1="776.32" x2="1932.4" y2="776.32" stroke="#000" stroke-width="2.1"/>
<line x1="1924.6" y1="711.64" x2="1932.4" y2="711.64" stroke="#000" stroke-width="2.1"/>
<line x1="1924.6" y1="646.96" x2="1939.6" y2="646.96" stroke="#000" stroke-width="3"/>
<text x="1954.5" y="663.5" font-size="41.7" fill="#000">45.0</text>
<line x1="1924.6" y1="582.28" x2="1932.4" y2="582.28" stroke="#000" stroke-width="2.1"/>
<line x1="1924.6" y1="517.60" x2="1932.4" y2="517.60" stroke="#000" stroke-width="2.1"/>
<text transform="translate(2119.7 1166.8) rotate(-90)" text-anchor="middle" font-size="41.7" fill="#000">Concentración de NO2 (µg/m³)</text>
<text x="887.2" y="79.8" text-anchor="middle" font-size="62.7" font-weight="bold" fill="#000">Proyección: NO2</text>
<text x="887" y="157.5" text-anchor="middle" font-size="50.9" fill="#000">Bolivia</text>
<text x="886.5" y="213.9" text-anchor="middle" font-size="37.55" fill="#808080">2026-04-13 05:00 UTC</text>
<text x="29.3" y="165.8" font-size="29.2" fill="#000">Modelo: SILAM (16KM)</text>
<text x="29.3" y="197.2" font-size="29.2" fill="#000">Corrido en: 20260409 Ciclo:00</text>
<g id="logo-umss">
<path d="M1539.1 57.1 L1604.9 57.1 L1572 158.8 Z" fill="#1d4a9e"/>
<path d="M1542.1 59.3 L1601.9 59.3 L1572 151.6 Z" fill="#fff"/>
<path d="M1542.1 59.3 L1571.6 80.8 L1553.4 94.2 Z" fill="#e30613"/>
<path d="M1601.9 59.3 L1572.4 80.8 L1590.6 94.2 Z" fill="#e30613"/>
<text x="1572" y="68.6" text-anchor="middle" font-size="11.3" font-weight="bold" fill="#1d4a9e" style="font-family:'Liberation Sans',sans-serif" textLength="30.4" lengthAdjust="spacingAndGlyphs">UMSS</text>
<g stroke="#1d4a9e" stroke-width=".6" fill="none">
<path d="M1578.7 95.6 L1581.9 95.6"/>
<path d="M1577.8 92.3 L1580.6 90.7"/>
<path d="M1575.4 89.9 L1577.0 87.1"/>
<path d="M1572.1 89.0 L1572.1 85.8"/>
<path d="M1568.8 89.9 L1567.2 87.1"/>
<path d="M1566.4 92.3 L1563.6 90.7"/>
<path d="M1565.5 95.6 L1562.3 95.6"/>
<circle cx="1572.1" cy="95.6" r="3.3"/>
<path d="M1569.6 94 L1574.6 94 L1572.1 98Z M1569.4 97.2 L1574.8 97.2 M1572.1 92.4 L1572.1 98.6"/>
<path d="M1568 96.9 L1576.2 96.9 L1575 101.6 L1572.1 110 L1569.2 101.6 Z"/>
<path d="M1569.4 99 L1577.4 125.6 M1574.8 99 L1566.8 125.6 M1572.1 99.5 L1572.2 129.6" stroke-width=".7"/>
</g>
<g fill="#1d4a9e"><path d="M1575.6 124 L1579.2 122.8 L1578.2 128.2Z M1568.6 124 L1565 122.8 L1566 128.2Z M1570.3 127.6 L1574.1 127.6 L1572.2 132.2Z"/></g>
<text x="1581.2" y="158.6" font-size="4.6" fill="#b9bfcc" style="font-family:'Liberation Sans',sans-serif" textLength="31.5" lengthAdjust="spacingAndGlyphs">creadictivo.com</text>
</g>
<g id="logo-fisica">
<path d="M1720.7 53.8 L1723.5 54.4 L1726.2 55.9 L1728.6 58.4 L1730.7 61.3 L1732.4 64.5 L1733.9 67.7 L1735.2 70.5 L1736.4 72.9 L1737.8 74.7 L1739.3 76.0 L1741.2 76.7 L1743.4 76.9 L1746.1 76.8 L1749.2 76.5 L1752.7 76.2 L1756.3 76.1 L1759.9 76.4 L1763.2 77.3 L1765.9 78.8 L1767.8 81.0 L1768.7 83.7 L1768.7 86.8 L1767.8 90.1 L1766.3 93.4 L1764.4 96.5 L1762.4 99.3 L1760.6 101.9 L1759.1 104.2 L1758.2 106.2 L1757.9 108.2 L1758.2 110.2 L1759.1 112.2 L1760.6 114.5 L1762.4 117.1 L1764.4 119.9 L1766.3 123.0 L1767.8 126.3 L1768.7 129.6 L1768.7 132.7 L1767.8 135.4 L1765.9 137.6 L1763.2 139.1 L1759.9 140.0 L1756.3 140.3 L1752.7 140.2 L1749.2 139.9 L1746.1 139.6 L1743.4 139.5 L1741.2 139.7 L1739.3 140.4 L1737.8 141.7 L1736.4 143.5 L1735.2 145.9 L1733.9 148.7 L1732.4 151.9 L1730.7 155.1 L1728.6 158.0 L1726.2 160.5 L1723.5 162.0 L1720.7 162.6 L1717.9 162.0 L1715.2 160.5 L1712.8 158.0 L1710.7 155.1 L1709.0 151.9 L1707.5 148.7 L1706.2 145.9 L1705.0 143.5 L1703.6 141.7 L1702.1 140.4 L1700.2 139.7 L1698.0 139.5 L1695.3 139.6 L1692.2 139.9 L1688.7 140.2 L1685.1 140.3 L1681.5 140.0 L1678.2 139.1 L1675.5 137.6 L1673.6 135.4 L1672.7 132.7 L1672.7 129.6 L1673.6 126.3 L1675.1 123.0 L1677.0 119.9 L1679.0 117.1 L1680.8 114.5 L1682.3 112.2 L1683.2 110.2 L1683.5 108.2 L1683.2 106.2 L1682.3 104.2 L1680.8 101.9 L1679.0 99.3 L1677.0 96.5 L1675.1 93.4 L1673.6 90.1 L1672.7 86.8 L1672.7 83.7 L1673.6 81.0 L1675.5 78.8 L1678.2 77.3 L1681.5 76.4 L1685.1 76.1 L1688.7 76.2 L1692.2 76.5 L1695.3 76.8 L1698.0 76.9 L1700.2 76.7 L1702.1 76.0 L1703.6 74.7 L1705.0 72.9 L1706.2 70.5 L1707.5 67.7 L1709.0 64.5 L1710.7 61.3 L1712.8 58.4 L1715.2 55.9 L1717.9 54.4 L1720.7 53.8Z" fill="none" stroke="#2f4fa0" stroke-width="1.3" stroke-linejoin="round"/>
<circle cx="1720.7" cy="108.2" r="45.6" fill="none" stroke="#2f4fa0" stroke-width=".8" stroke-dasharray=".7 1.5"/>
<path id="arcTop" d="M1695.36 121.67 A28.7 28.7 0 1 1 1745.92 121.89" fill="none"/>
<text font-size="11" fill="#c8372d" style="font-family:'Liberation Serif',serif"><textPath href="#arcTop" startOffset="0" textLength="118.0" lengthAdjust="spacingAndGlyphs">DEPARTAMENTO DE FÍSICA</textPath></text>
<path id="arcBot" d="M1701.89 134.09 A32.0 32.0 0 0 0 1739.51 134.09" fill="none"/>
<text font-size="6.6" font-style="italic" fill="#c8372d" style="font-family:'Liberation Serif',serif"><textPath href="#arcBot" startOffset="0" textLength="39.7" lengthAdjust="spacing">FCyT-UMSS</textPath></text>
<g fill="none" stroke="#c8372d" stroke-width=".55">
<ellipse cx="1724.1" cy="97.8" rx="16.0" ry="10.5" transform="rotate(-15 1724.1 97.8)"/>
<ellipse cx="1724.6" cy="101.1" rx="16.0" ry="10.5" transform="rotate(-3 1724.6 101.1)"/>
<ellipse cx="1724.4" cy="104.4" rx="16.0" ry="10.5" transform="rotate(9 1724.4 104.4)"/>
<ellipse cx="1723.5" cy="107.6" rx="16.0" ry="10.5" transform="rotate(21 1723.5 107.6)"/>
<ellipse cx="1722.0" cy="110.6" rx="16.0" ry="10.5" transform="rotate(33 1722.0 110.6)"/>
<ellipse cx="1719.9" cy="113.2" rx="16.0" ry="10.5" transform="rotate(45 1719.9 113.2)"/>
<ellipse cx="1717.3" cy="115.3" rx="16.0" ry="10.5" transform="rotate(57 1717.3 115.3)"/>
<ellipse cx="1714.3" cy="116.8" rx="16.0" ry="10.5" transform="rotate(69 1714.3 116.8)"/>
</g>
<circle cx="1712.6" cy="105.9" r="1.3" fill="#fff" stroke="#2f4fa0" stroke-width=".6"/>
<circle cx="1709" cy="130.6" r=".8" fill="#2f4fa0"/>
</g>
<defs><linearGradient id="rg" x1="0" x2="1" y1="0" y2="0"><stop offset="0" stop-color="#bf0000"/><stop offset="1" stop-color="#ea0000"/></linearGradient></defs>
<g id="logo-fcyt" fill="url(#rg)" stroke="#6e0a0a" stroke-width=".6" stroke-linejoin="miter">
<path d="M1819.5 57.1 L1921.1 57.1 L1921.1 68.2 L1832.4 68.2 L1832.4 106.1 L1861.3 106.1 L1861.3 117.2 L1832.4 117.2 L1832.4 158.7 L1819.5 158.7Z"/>
<path d="M1836.8 72.2 L1921.1 72.2 L1921.1 82.6 L1849.7 82.6 L1849.7 91.3 L1921.1 91.3 L1921.1 101.4 L1836.8 101.4Z"/>
<path d="M1867.0 106.1 L1921.1 106.1 L1921.1 117.2 L1879.3 117.2 L1879.3 124.4 L1921.1 124.4 L1921.1 134.5 L1836.8 134.5 L1836.8 124.4 L1867.0 124.4Z"/>
<path d="M1836.8 138.9 L1921.1 138.9 L1921.1 150.4 L1879.3 150.4 L1879.3 158.7 L1867.0 158.7 L1867.0 150.4 L1836.8 150.4Z"/>
</g>
<g id="logo-cmc">
<circle cx="2021.3" cy="77.0" r="30.4" fill="none" stroke="#0c3a6e" stroke-width="11.2"/>
<circle cx="2021.3" cy="77.0" r="10.3" fill="#fff" stroke="#0c3a6e" stroke-width="3.2"/>
<path d="M2021.3 69.6 A7.4 7.4 0 0 0 2021.3 84.4 Z" fill="#0c3a6e"/>
<g stroke="#0c3a6e" stroke-width="3.5">
<path d="M2037.5 77.0 L2042.5 77.0"/>
<path d="M2032.8 88.5 L2036.3 92.0"/>
<path d="M2021.3 93.2 L2021.3 98.2"/>
<path d="M2009.8 88.5 L2006.3 92.0"/>
<path d="M2005.1 77.0 L2000.1 77.0"/>
<path d="M2009.8 65.5 L2006.3 62.0"/>
<path d="M2021.3 60.8 L2021.3 55.8"/>
<path d="M2032.8 65.5 L2036.3 62.0"/>
</g>
<text x="2021" y="146.2" text-anchor="middle" font-size="29.6" font-weight="bold" fill="#0c3a6e" textLength="71.5" lengthAdjust="spacingAndGlyphs">CMC</text>
<text x="2021.3" y="170" text-anchor="middle" font-size="22.8" font-weight="bold" fill="#0c3a6e" textLength="72.3" lengthAdjust="spacingAndGlyphs">UMSS</text>
</g>
</svg>
</body></html>
